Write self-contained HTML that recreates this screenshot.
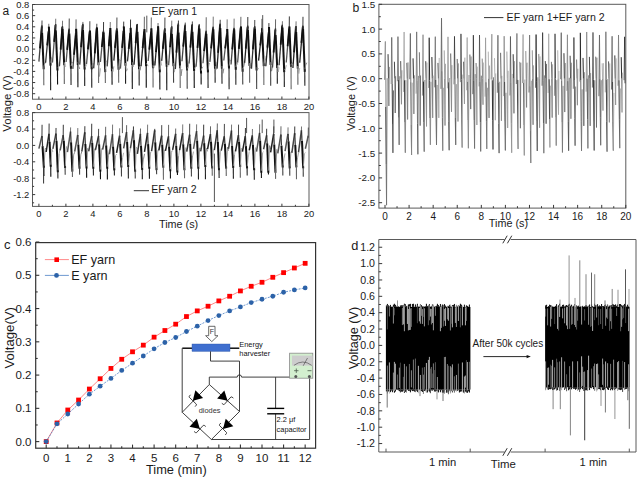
<!DOCTYPE html>
<html><head><meta charset="utf-8"><style>
html,body{margin:0;padding:0;background:#fff;}
body{width:637px;height:477px;overflow:hidden;font-family:"Liberation Sans", sans-serif;}
svg{display:block;}
</style></head><body>
<svg width="637" height="477" viewBox="0 0 637 477" font-family='"Liberation Sans", sans-serif'>
<rect width="637" height="477" fill="#fff"/>
<line x1="38.9" y1="61.61" x2="41.9" y2="25.56" stroke="#444" stroke-width="1.3" />
<line x1="40.01" y1="48.32" x2="41.8" y2="26.68" stroke="#111" stroke-width="1.8" />
<line x1="41.9" y1="28.35" x2="42.02" y2="20.5" stroke="#333" stroke-width="0.9" />
<line x1="42" y1="25.56" x2="42.1" y2="32.89" stroke="#333" stroke-width="1.2" />
<line x1="42.1" y1="32.89" x2="43.71" y2="69.21" stroke="#111" stroke-width="2" />
<line x1="43.71" y1="66.42" x2="43.81" y2="85.27" stroke="#666" stroke-width="1.1" />
<line x1="43.91" y1="66.42" x2="44.64" y2="63.94" stroke="#999" stroke-width="0.9" />
<line x1="44.64" y1="63.94" x2="45.58" y2="61.61" stroke="#777" stroke-width="0.9" />
<line x1="45.58" y1="62.73" x2="48.68" y2="30.33" stroke="#333" stroke-width="1.3" />
<line x1="47.24" y1="45.31" x2="48.58" y2="31.45" stroke="#111" stroke-width="1.8" />
<line x1="48.68" y1="33.12" x2="48.8" y2="23.77" stroke="#666" stroke-width="0.9" />
<line x1="48.78" y1="30.33" x2="48.88" y2="26.73" stroke="#333" stroke-width="1.2" />
<line x1="48.88" y1="26.73" x2="50.54" y2="65.59" stroke="#111" stroke-width="2" />
<line x1="50.54" y1="62.8" x2="50.64" y2="90.16" stroke="#222" stroke-width="1.1" />
<line x1="50.74" y1="62.8" x2="51.5" y2="57.59" stroke="#888" stroke-width="0.9" />
<line x1="51.5" y1="57.59" x2="52.47" y2="62.73" stroke="#999" stroke-width="0.9" />
<line x1="52.47" y1="62.36" x2="55.6" y2="24" stroke="#555" stroke-width="1.3" />
<line x1="54.14" y1="41.82" x2="55.5" y2="25.11" stroke="#111" stroke-width="1.8" />
<line x1="55.6" y1="26.79" x2="55.72" y2="18.73" stroke="#666" stroke-width="0.9" />
<line x1="55.7" y1="24" x2="55.8" y2="30.23" stroke="#333" stroke-width="1.2" />
<line x1="55.8" y1="30.23" x2="57.47" y2="70.55" stroke="#111" stroke-width="2" />
<line x1="57.47" y1="67.76" x2="57.57" y2="84.42" stroke="#111" stroke-width="1.1" />
<line x1="57.67" y1="67.76" x2="58.45" y2="68.13" stroke="#888" stroke-width="0.9" />
<line x1="58.45" y1="68.13" x2="59.42" y2="62.36" stroke="#aaa" stroke-width="0.9" />
<line x1="59.42" y1="66.2" x2="62.42" y2="25.94" stroke="#444" stroke-width="1.3" />
<line x1="60.65" y1="49.67" x2="62.32" y2="27.05" stroke="#111" stroke-width="1.8" />
<line x1="62.42" y1="28.73" x2="62.54" y2="20.72" stroke="#666" stroke-width="0.9" />
<line x1="62.52" y1="25.94" x2="62.62" y2="28.82" stroke="#333" stroke-width="1.2" />
<line x1="62.62" y1="28.82" x2="64.22" y2="65.28" stroke="#111" stroke-width="2" />
<line x1="64.22" y1="62.49" x2="64.32" y2="83.88" stroke="#666" stroke-width="1.1" />
<line x1="64.42" y1="62.49" x2="65.15" y2="66.36" stroke="#999" stroke-width="0.9" />
<line x1="65.15" y1="66.36" x2="66.09" y2="66.2" stroke="#aaa" stroke-width="0.9" />
<line x1="66.09" y1="62.06" x2="69.12" y2="28.68" stroke="#555" stroke-width="1.3" />
<line x1="67.2" y1="49.8" x2="69.02" y2="29.79" stroke="#111" stroke-width="1.8" />
<line x1="69.12" y1="31.47" x2="69.24" y2="18.53" stroke="#333" stroke-width="0.9" />
<line x1="69.22" y1="28.68" x2="69.32" y2="33.62" stroke="#333" stroke-width="1.2" />
<line x1="69.32" y1="33.62" x2="70.95" y2="68.73" stroke="#111" stroke-width="2" />
<line x1="70.95" y1="65.95" x2="71.05" y2="85.09" stroke="#222" stroke-width="1.1" />
<line x1="71.15" y1="65.95" x2="71.89" y2="63.16" stroke="#aaa" stroke-width="0.9" />
<line x1="71.89" y1="63.16" x2="72.84" y2="62.06" stroke="#aaa" stroke-width="0.9" />
<line x1="72.84" y1="68.91" x2="75.95" y2="31.99" stroke="#444" stroke-width="1.3" />
<line x1="74.03" y1="54.74" x2="75.85" y2="33.1" stroke="#111" stroke-width="1.8" />
<line x1="75.95" y1="34.77" x2="76.07" y2="19.38" stroke="#555" stroke-width="0.9" />
<line x1="76.05" y1="31.99" x2="76.15" y2="28.89" stroke="#333" stroke-width="1.2" />
<line x1="76.15" y1="28.89" x2="77.82" y2="64.86" stroke="#111" stroke-width="2" />
<line x1="77.82" y1="62.07" x2="77.92" y2="87.28" stroke="#111" stroke-width="1.1" />
<line x1="78.02" y1="62.07" x2="78.79" y2="66.53" stroke="#888" stroke-width="0.9" />
<line x1="78.79" y1="66.53" x2="79.76" y2="68.91" stroke="#777" stroke-width="0.9" />
<line x1="79.76" y1="64.59" x2="82.79" y2="23.88" stroke="#333" stroke-width="1.3" />
<line x1="81.05" y1="47.22" x2="82.69" y2="24.99" stroke="#111" stroke-width="1.8" />
<line x1="82.79" y1="26.67" x2="82.91" y2="21.91" stroke="#555" stroke-width="0.9" />
<line x1="82.89" y1="23.88" x2="82.99" y2="30.01" stroke="#333" stroke-width="1.2" />
<line x1="82.99" y1="30.01" x2="84.62" y2="69.53" stroke="#111" stroke-width="2" />
<line x1="84.62" y1="66.75" x2="84.72" y2="86.08" stroke="#222" stroke-width="1.1" />
<line x1="84.82" y1="66.75" x2="85.56" y2="67.01" stroke="#999" stroke-width="0.9" />
<line x1="85.56" y1="67.01" x2="86.5" y2="64.59" stroke="#aaa" stroke-width="0.9" />
<line x1="86.5" y1="64.09" x2="89.74" y2="30.59" stroke="#555" stroke-width="1.3" />
<line x1="87.93" y1="49.29" x2="89.64" y2="31.71" stroke="#111" stroke-width="1.8" />
<line x1="89.74" y1="33.38" x2="89.86" y2="21.23" stroke="#333" stroke-width="0.9" />
<line x1="89.84" y1="30.59" x2="89.94" y2="30.66" stroke="#333" stroke-width="1.2" />
<line x1="89.94" y1="30.66" x2="91.68" y2="69.3" stroke="#111" stroke-width="2" />
<line x1="91.68" y1="66.52" x2="91.78" y2="87.65" stroke="#222" stroke-width="1.1" />
<line x1="91.88" y1="66.52" x2="92.68" y2="63.59" stroke="#888" stroke-width="0.9" />
<line x1="92.68" y1="63.59" x2="93.69" y2="64.09" stroke="#777" stroke-width="0.9" />
<line x1="93.69" y1="68.35" x2="96.71" y2="27.46" stroke="#333" stroke-width="1.3" />
<line x1="94.8" y1="53.36" x2="96.61" y2="28.57" stroke="#111" stroke-width="1.8" />
<line x1="96.71" y1="30.25" x2="96.83" y2="23.76" stroke="#333" stroke-width="0.9" />
<line x1="96.81" y1="27.46" x2="96.91" y2="27.57" stroke="#333" stroke-width="1.2" />
<line x1="96.91" y1="27.57" x2="98.52" y2="65.33" stroke="#111" stroke-width="2" />
<line x1="98.52" y1="62.54" x2="98.62" y2="82.99" stroke="#666" stroke-width="1.1" />
<line x1="98.72" y1="62.54" x2="99.46" y2="76.51" stroke="#aaa" stroke-width="0.9" />
<line x1="99.46" y1="76.51" x2="100.4" y2="68.35" stroke="#999" stroke-width="0.9" />
<line x1="100.4" y1="62.06" x2="103.45" y2="30.73" stroke="#555" stroke-width="1.3" />
<line x1="101.86" y1="47.03" x2="103.35" y2="31.84" stroke="#111" stroke-width="1.8" />
<line x1="103.45" y1="33.52" x2="103.57" y2="22.02" stroke="#222" stroke-width="0.9" />
<line x1="103.55" y1="30.73" x2="103.65" y2="32.57" stroke="#333" stroke-width="1.2" />
<line x1="103.65" y1="32.57" x2="105.27" y2="72.14" stroke="#111" stroke-width="2" />
<line x1="105.27" y1="69.35" x2="105.37" y2="82.92" stroke="#666" stroke-width="1.1" />
<line x1="105.47" y1="69.35" x2="106.22" y2="60.63" stroke="#aaa" stroke-width="0.9" />
<line x1="106.22" y1="60.63" x2="107.17" y2="62.06" stroke="#aaa" stroke-width="0.9" />
<line x1="107.17" y1="66.39" x2="110.17" y2="29.31" stroke="#444" stroke-width="1.3" />
<line x1="108.8" y1="46.25" x2="110.07" y2="30.43" stroke="#111" stroke-width="1.8" />
<line x1="110.17" y1="32.1" x2="110.29" y2="22.03" stroke="#666" stroke-width="0.9" />
<line x1="110.27" y1="29.31" x2="110.37" y2="28.06" stroke="#333" stroke-width="1.2" />
<line x1="110.37" y1="28.06" x2="111.97" y2="71.32" stroke="#111" stroke-width="2" />
<line x1="111.97" y1="68.54" x2="112.07" y2="84.66" stroke="#111" stroke-width="1.1" />
<line x1="112.17" y1="68.54" x2="112.9" y2="71.61" stroke="#aaa" stroke-width="0.9" />
<line x1="112.9" y1="71.61" x2="113.83" y2="66.39" stroke="#999" stroke-width="0.9" />
<line x1="113.83" y1="60.61" x2="116.81" y2="28.4" stroke="#222" stroke-width="1.3" />
<line x1="115.01" y1="47.9" x2="116.71" y2="29.51" stroke="#111" stroke-width="1.8" />
<line x1="116.81" y1="31.19" x2="116.93" y2="17.52" stroke="#333" stroke-width="0.9" />
<line x1="116.91" y1="28.4" x2="117.01" y2="30.65" stroke="#333" stroke-width="1.2" />
<line x1="117.01" y1="30.65" x2="118.59" y2="69.82" stroke="#111" stroke-width="2" />
<line x1="118.59" y1="67.04" x2="118.69" y2="82.73" stroke="#666" stroke-width="1.1" />
<line x1="118.79" y1="67.04" x2="119.51" y2="59.56" stroke="#aaa" stroke-width="0.9" />
<line x1="119.51" y1="59.56" x2="120.44" y2="60.61" stroke="#777" stroke-width="0.9" />
<line x1="120.44" y1="68.65" x2="123.6" y2="29.71" stroke="#555" stroke-width="1.3" />
<line x1="122.12" y1="47.88" x2="123.5" y2="30.83" stroke="#111" stroke-width="1.8" />
<line x1="123.6" y1="32.5" x2="123.72" y2="21.62" stroke="#222" stroke-width="0.9" />
<line x1="123.7" y1="29.71" x2="123.8" y2="26.53" stroke="#333" stroke-width="1.2" />
<line x1="123.8" y1="26.53" x2="125.49" y2="65.82" stroke="#111" stroke-width="2" />
<line x1="125.49" y1="63.03" x2="125.59" y2="83.65" stroke="#222" stroke-width="1.1" />
<line x1="125.69" y1="63.03" x2="126.48" y2="71.21" stroke="#aaa" stroke-width="0.9" />
<line x1="126.48" y1="71.21" x2="127.46" y2="68.65" stroke="#999" stroke-width="0.9" />
<line x1="127.46" y1="61.33" x2="130.43" y2="32.04" stroke="#333" stroke-width="1.3" />
<line x1="128.72" y1="48.86" x2="130.33" y2="33.15" stroke="#111" stroke-width="1.8" />
<line x1="130.43" y1="34.82" x2="130.55" y2="19.56" stroke="#222" stroke-width="0.9" />
<line x1="130.53" y1="32.04" x2="130.63" y2="27.85" stroke="#333" stroke-width="1.2" />
<line x1="130.63" y1="27.85" x2="132.2" y2="65.05" stroke="#111" stroke-width="2" />
<line x1="132.2" y1="62.26" x2="132.3" y2="89.02" stroke="#111" stroke-width="1.1" />
<line x1="132.4" y1="62.26" x2="133.13" y2="66.83" stroke="#888" stroke-width="0.9" />
<line x1="133.13" y1="66.83" x2="134.05" y2="61.33" stroke="#aaa" stroke-width="0.9" />
<line x1="134.05" y1="64.78" x2="137.2" y2="24.01" stroke="#222" stroke-width="1.3" />
<line x1="135.72" y1="43.17" x2="137.1" y2="25.12" stroke="#111" stroke-width="1.8" />
<line x1="137.2" y1="26.8" x2="137.32" y2="23.88" stroke="#333" stroke-width="0.9" />
<line x1="137.3" y1="24.01" x2="137.4" y2="31.68" stroke="#333" stroke-width="1.2" />
<line x1="137.4" y1="31.68" x2="139.08" y2="69.13" stroke="#111" stroke-width="2" />
<line x1="139.08" y1="66.35" x2="139.18" y2="85.58" stroke="#222" stroke-width="1.1" />
<line x1="139.28" y1="66.35" x2="140.06" y2="70.34" stroke="#aaa" stroke-width="0.9" />
<line x1="140.06" y1="70.34" x2="141.04" y2="64.78" stroke="#777" stroke-width="0.9" />
<line x1="141.04" y1="66.15" x2="144.25" y2="30.47" stroke="#222" stroke-width="1.3" />
<line x1="142.66" y1="48.18" x2="144.15" y2="31.59" stroke="#111" stroke-width="1.8" />
<line x1="144.25" y1="33.26" x2="144.37" y2="16.74" stroke="#555" stroke-width="0.9" />
<line x1="144.35" y1="30.47" x2="144.45" y2="29.15" stroke="#333" stroke-width="1.2" />
<line x1="144.45" y1="29.15" x2="146.17" y2="66.16" stroke="#111" stroke-width="2" />
<line x1="146.17" y1="63.37" x2="146.27" y2="87.67" stroke="#111" stroke-width="1.1" />
<line x1="146.37" y1="63.37" x2="147.17" y2="64.4" stroke="#999" stroke-width="0.9" />
<line x1="147.17" y1="64.4" x2="148.17" y2="66.15" stroke="#999" stroke-width="0.9" />
<line x1="148.17" y1="61.04" x2="151.18" y2="30.48" stroke="#555" stroke-width="1.3" />
<line x1="149.29" y1="49.65" x2="151.08" y2="31.59" stroke="#111" stroke-width="1.8" />
<line x1="151.18" y1="33.26" x2="151.3" y2="17.45" stroke="#555" stroke-width="0.9" />
<line x1="151.28" y1="30.48" x2="151.38" y2="28.39" stroke="#333" stroke-width="1.2" />
<line x1="151.38" y1="28.39" x2="152.99" y2="68.28" stroke="#111" stroke-width="2" />
<line x1="152.99" y1="65.49" x2="153.09" y2="87.48" stroke="#666" stroke-width="1.1" />
<line x1="153.19" y1="65.49" x2="153.93" y2="67.52" stroke="#888" stroke-width="0.9" />
<line x1="153.93" y1="67.52" x2="154.87" y2="61.04" stroke="#999" stroke-width="0.9" />
<line x1="154.87" y1="65.54" x2="157.93" y2="28.98" stroke="#222" stroke-width="1.3" />
<line x1="155.99" y1="52.19" x2="157.83" y2="30.1" stroke="#111" stroke-width="1.8" />
<line x1="157.93" y1="31.77" x2="158.05" y2="23.04" stroke="#555" stroke-width="0.9" />
<line x1="158.03" y1="28.98" x2="158.13" y2="26.32" stroke="#333" stroke-width="1.2" />
<line x1="158.13" y1="26.32" x2="159.77" y2="72.32" stroke="#111" stroke-width="2" />
<line x1="159.77" y1="69.53" x2="159.87" y2="89.46" stroke="#111" stroke-width="1.1" />
<line x1="159.97" y1="69.53" x2="160.72" y2="60.63" stroke="#aaa" stroke-width="0.9" />
<line x1="160.72" y1="60.63" x2="161.68" y2="65.54" stroke="#aaa" stroke-width="0.9" />
<line x1="161.68" y1="60.92" x2="164.81" y2="28.29" stroke="#333" stroke-width="1.3" />
<line x1="162.83" y1="48.9" x2="164.71" y2="29.41" stroke="#111" stroke-width="1.8" />
<line x1="164.81" y1="31.08" x2="164.93" y2="17.55" stroke="#333" stroke-width="0.9" />
<line x1="164.91" y1="28.29" x2="165.01" y2="32.69" stroke="#333" stroke-width="1.2" />
<line x1="165.01" y1="32.69" x2="166.7" y2="66.61" stroke="#111" stroke-width="2" />
<line x1="166.7" y1="63.82" x2="166.8" y2="90.26" stroke="#111" stroke-width="1.1" />
<line x1="166.9" y1="63.82" x2="167.67" y2="66.66" stroke="#888" stroke-width="0.9" />
<line x1="167.67" y1="66.66" x2="168.65" y2="60.92" stroke="#aaa" stroke-width="0.9" />
<line x1="168.65" y1="65.15" x2="171.66" y2="26.3" stroke="#555" stroke-width="1.3" />
<line x1="170.04" y1="47.28" x2="171.56" y2="27.42" stroke="#111" stroke-width="1.8" />
<line x1="171.66" y1="29.09" x2="171.78" y2="20.62" stroke="#666" stroke-width="0.9" />
<line x1="171.76" y1="26.3" x2="171.86" y2="33.74" stroke="#333" stroke-width="1.2" />
<line x1="171.86" y1="33.74" x2="173.47" y2="66.09" stroke="#111" stroke-width="2" />
<line x1="173.47" y1="63.3" x2="173.57" y2="82.83" stroke="#444" stroke-width="1.1" />
<line x1="173.67" y1="63.3" x2="174.41" y2="72.11" stroke="#888" stroke-width="0.9" />
<line x1="174.41" y1="72.11" x2="175.35" y2="65.15" stroke="#aaa" stroke-width="0.9" />
<line x1="175.35" y1="69.08" x2="178.32" y2="23.61" stroke="#333" stroke-width="1.3" />
<line x1="176.43" y1="52.58" x2="178.22" y2="24.73" stroke="#111" stroke-width="1.8" />
<line x1="178.32" y1="26.4" x2="178.44" y2="20.5" stroke="#222" stroke-width="0.9" />
<line x1="178.42" y1="23.61" x2="178.52" y2="32.53" stroke="#333" stroke-width="1.2" />
<line x1="178.52" y1="32.53" x2="180.11" y2="68.31" stroke="#111" stroke-width="2" />
<line x1="180.11" y1="65.52" x2="180.21" y2="87.91" stroke="#666" stroke-width="1.1" />
<line x1="180.31" y1="65.52" x2="181.03" y2="75.89" stroke="#999" stroke-width="0.9" />
<line x1="181.03" y1="75.89" x2="181.96" y2="69.08" stroke="#777" stroke-width="0.9" />
<line x1="181.96" y1="61.22" x2="185.16" y2="24.64" stroke="#444" stroke-width="1.3" />
<line x1="183.24" y1="46.61" x2="185.06" y2="25.75" stroke="#111" stroke-width="1.8" />
<line x1="185.16" y1="27.42" x2="185.28" y2="22.58" stroke="#333" stroke-width="0.9" />
<line x1="185.26" y1="24.64" x2="185.36" y2="30.98" stroke="#333" stroke-width="1.2" />
<line x1="185.36" y1="30.98" x2="187.09" y2="70.46" stroke="#111" stroke-width="2" />
<line x1="187.09" y1="67.67" x2="187.19" y2="88.73" stroke="#444" stroke-width="1.1" />
<line x1="187.29" y1="67.67" x2="188.08" y2="68.34" stroke="#aaa" stroke-width="0.9" />
<line x1="188.08" y1="68.34" x2="189.08" y2="61.22" stroke="#999" stroke-width="0.9" />
<line x1="189.08" y1="63.43" x2="192.25" y2="23.98" stroke="#555" stroke-width="1.3" />
<line x1="190.34" y1="47.68" x2="192.15" y2="25.1" stroke="#111" stroke-width="1.8" />
<line x1="192.25" y1="26.77" x2="192.37" y2="21.46" stroke="#333" stroke-width="0.9" />
<line x1="192.35" y1="23.98" x2="192.45" y2="31.68" stroke="#333" stroke-width="1.2" />
<line x1="192.45" y1="31.68" x2="194.15" y2="70.89" stroke="#111" stroke-width="2" />
<line x1="194.15" y1="68.11" x2="194.25" y2="87.88" stroke="#111" stroke-width="1.1" />
<line x1="194.35" y1="68.11" x2="195.13" y2="68.38" stroke="#999" stroke-width="0.9" />
<line x1="195.13" y1="68.38" x2="196.12" y2="63.43" stroke="#999" stroke-width="0.9" />
<line x1="196.12" y1="66.78" x2="199.2" y2="24.64" stroke="#555" stroke-width="1.3" />
<line x1="197.5" y1="47.87" x2="199.1" y2="25.75" stroke="#111" stroke-width="1.8" />
<line x1="199.2" y1="27.42" x2="199.32" y2="23.94" stroke="#555" stroke-width="0.9" />
<line x1="199.3" y1="24.64" x2="199.4" y2="28.66" stroke="#333" stroke-width="1.2" />
<line x1="199.4" y1="28.66" x2="201.06" y2="73.44" stroke="#111" stroke-width="2" />
<line x1="201.06" y1="70.65" x2="201.16" y2="84.5" stroke="#111" stroke-width="1.1" />
<line x1="201.26" y1="70.65" x2="202.02" y2="68.15" stroke="#aaa" stroke-width="0.9" />
<line x1="202.02" y1="68.15" x2="202.98" y2="66.78" stroke="#999" stroke-width="0.9" />
<line x1="202.98" y1="63.24" x2="206.1" y2="30.77" stroke="#555" stroke-width="1.3" />
<line x1="204.15" y1="51.05" x2="206" y2="31.89" stroke="#111" stroke-width="1.8" />
<line x1="206.1" y1="33.56" x2="206.22" y2="17.26" stroke="#555" stroke-width="0.9" />
<line x1="206.2" y1="30.77" x2="206.3" y2="33.83" stroke="#333" stroke-width="1.2" />
<line x1="206.3" y1="33.83" x2="207.97" y2="72.37" stroke="#111" stroke-width="2" />
<line x1="207.97" y1="69.58" x2="208.07" y2="87.97" stroke="#222" stroke-width="1.1" />
<line x1="208.17" y1="69.58" x2="208.94" y2="64" stroke="#888" stroke-width="0.9" />
<line x1="208.94" y1="64" x2="209.91" y2="63.24" stroke="#999" stroke-width="0.9" />
<line x1="209.91" y1="61.85" x2="213.12" y2="26.81" stroke="#444" stroke-width="1.3" />
<line x1="211.15" y1="48.34" x2="213.02" y2="27.93" stroke="#111" stroke-width="1.8" />
<line x1="213.12" y1="29.6" x2="213.24" y2="16.65" stroke="#666" stroke-width="0.9" />
<line x1="213.22" y1="26.81" x2="213.32" y2="29.17" stroke="#333" stroke-width="1.2" />
<line x1="213.32" y1="29.17" x2="215.04" y2="68.7" stroke="#111" stroke-width="2" />
<line x1="215.04" y1="65.91" x2="215.14" y2="82.65" stroke="#222" stroke-width="1.1" />
<line x1="215.24" y1="65.91" x2="216.04" y2="69.53" stroke="#888" stroke-width="0.9" />
<line x1="216.04" y1="69.53" x2="217.04" y2="61.85" stroke="#999" stroke-width="0.9" />
<line x1="217.04" y1="68.6" x2="220.08" y2="23.78" stroke="#222" stroke-width="1.3" />
<line x1="218.11" y1="52.81" x2="219.98" y2="24.9" stroke="#111" stroke-width="1.8" />
<line x1="220.08" y1="26.57" x2="220.2" y2="19.79" stroke="#222" stroke-width="0.9" />
<line x1="220.18" y1="23.78" x2="220.28" y2="27.95" stroke="#333" stroke-width="1.2" />
<line x1="220.28" y1="27.95" x2="221.9" y2="68.73" stroke="#111" stroke-width="2" />
<line x1="221.9" y1="65.94" x2="222" y2="83.71" stroke="#222" stroke-width="1.1" />
<line x1="222.1" y1="65.94" x2="222.85" y2="73.36" stroke="#999" stroke-width="0.9" />
<line x1="222.85" y1="73.36" x2="223.8" y2="68.6" stroke="#777" stroke-width="0.9" />
<line x1="223.8" y1="60.46" x2="227.05" y2="32.21" stroke="#555" stroke-width="1.3" />
<line x1="225.19" y1="48.32" x2="226.95" y2="33.32" stroke="#111" stroke-width="1.8" />
<line x1="227.05" y1="34.99" x2="227.17" y2="19.38" stroke="#666" stroke-width="0.9" />
<line x1="227.15" y1="32.21" x2="227.25" y2="28.99" stroke="#333" stroke-width="1.2" />
<line x1="227.25" y1="28.99" x2="229" y2="68.46" stroke="#111" stroke-width="2" />
<line x1="229" y1="65.67" x2="229.1" y2="89.27" stroke="#222" stroke-width="1.1" />
<line x1="229.2" y1="65.67" x2="230.01" y2="60.29" stroke="#999" stroke-width="0.9" />
<line x1="230.01" y1="60.29" x2="231.03" y2="60.46" stroke="#aaa" stroke-width="0.9" />
<line x1="231.03" y1="64.45" x2="233.99" y2="27.91" stroke="#444" stroke-width="1.3" />
<line x1="232.25" y1="49.37" x2="233.89" y2="29.02" stroke="#111" stroke-width="1.8" />
<line x1="233.99" y1="30.69" x2="234.11" y2="18.65" stroke="#666" stroke-width="0.9" />
<line x1="234.09" y1="27.91" x2="234.19" y2="29.37" stroke="#333" stroke-width="1.2" />
<line x1="234.19" y1="29.37" x2="235.77" y2="69.72" stroke="#111" stroke-width="2" />
<line x1="235.77" y1="66.93" x2="235.87" y2="84.65" stroke="#222" stroke-width="1.1" />
<line x1="235.97" y1="66.93" x2="236.69" y2="62.88" stroke="#aaa" stroke-width="0.9" />
<line x1="236.69" y1="62.88" x2="237.61" y2="64.45" stroke="#777" stroke-width="0.9" />
<line x1="237.61" y1="62.67" x2="240.77" y2="26.55" stroke="#555" stroke-width="1.3" />
<line x1="238.82" y1="48.88" x2="240.67" y2="27.66" stroke="#111" stroke-width="1.8" />
<line x1="240.77" y1="29.33" x2="240.89" y2="16.82" stroke="#555" stroke-width="0.9" />
<line x1="240.87" y1="26.55" x2="240.97" y2="26.49" stroke="#333" stroke-width="1.2" />
<line x1="240.97" y1="26.49" x2="242.66" y2="71.67" stroke="#111" stroke-width="2" />
<line x1="242.66" y1="68.88" x2="242.76" y2="84.4" stroke="#444" stroke-width="1.1" />
<line x1="242.86" y1="68.88" x2="243.64" y2="66.87" stroke="#aaa" stroke-width="0.9" />
<line x1="243.64" y1="66.87" x2="244.62" y2="62.67" stroke="#777" stroke-width="0.9" />
<line x1="244.62" y1="62.91" x2="247.7" y2="25.81" stroke="#222" stroke-width="1.3" />
<line x1="245.81" y1="48.62" x2="247.6" y2="26.92" stroke="#111" stroke-width="1.8" />
<line x1="247.7" y1="28.59" x2="247.82" y2="17.01" stroke="#222" stroke-width="0.9" />
<line x1="247.8" y1="25.81" x2="247.9" y2="29.86" stroke="#333" stroke-width="1.2" />
<line x1="247.9" y1="29.86" x2="249.55" y2="65.99" stroke="#111" stroke-width="2" />
<line x1="249.55" y1="63.2" x2="249.65" y2="82.86" stroke="#666" stroke-width="1.1" />
<line x1="249.75" y1="63.2" x2="250.5" y2="68.24" stroke="#888" stroke-width="0.9" />
<line x1="250.5" y1="68.24" x2="251.46" y2="62.91" stroke="#777" stroke-width="0.9" />
<line x1="251.46" y1="68.7" x2="254.66" y2="26.29" stroke="#333" stroke-width="1.3" />
<line x1="252.92" y1="49.42" x2="254.56" y2="27.41" stroke="#111" stroke-width="1.8" />
<line x1="254.66" y1="29.08" x2="254.78" y2="19.99" stroke="#333" stroke-width="0.9" />
<line x1="254.76" y1="26.29" x2="254.86" y2="28.77" stroke="#333" stroke-width="1.2" />
<line x1="254.86" y1="28.77" x2="256.58" y2="70.53" stroke="#111" stroke-width="2" />
<line x1="256.58" y1="67.74" x2="256.68" y2="89.07" stroke="#444" stroke-width="1.1" />
<line x1="256.78" y1="67.74" x2="257.58" y2="68.31" stroke="#aaa" stroke-width="0.9" />
<line x1="257.58" y1="68.31" x2="258.57" y2="68.7" stroke="#777" stroke-width="0.9" />
<line x1="258.57" y1="60.61" x2="261.82" y2="31.13" stroke="#222" stroke-width="1.3" />
<line x1="260.26" y1="45.28" x2="261.72" y2="32.25" stroke="#111" stroke-width="1.8" />
<line x1="261.82" y1="33.92" x2="261.94" y2="18.86" stroke="#555" stroke-width="0.9" />
<line x1="261.92" y1="31.13" x2="262.02" y2="28.24" stroke="#333" stroke-width="1.2" />
<line x1="262.02" y1="28.24" x2="263.77" y2="66.12" stroke="#111" stroke-width="2" />
<line x1="263.77" y1="63.33" x2="263.87" y2="84.89" stroke="#666" stroke-width="1.1" />
<line x1="263.97" y1="63.33" x2="264.78" y2="55.87" stroke="#aaa" stroke-width="0.9" />
<line x1="264.78" y1="55.87" x2="265.79" y2="60.61" stroke="#aaa" stroke-width="0.9" />
<line x1="265.79" y1="66.27" x2="268.8" y2="31.25" stroke="#222" stroke-width="1.3" />
<line x1="267.39" y1="47.64" x2="268.7" y2="32.36" stroke="#111" stroke-width="1.8" />
<line x1="268.8" y1="34.04" x2="268.92" y2="23.08" stroke="#222" stroke-width="0.9" />
<line x1="268.9" y1="31.25" x2="269" y2="27.06" stroke="#333" stroke-width="1.2" />
<line x1="269" y1="27.06" x2="270.61" y2="65.07" stroke="#111" stroke-width="2" />
<line x1="270.61" y1="62.28" x2="270.71" y2="85.67" stroke="#444" stroke-width="1.1" />
<line x1="270.81" y1="62.28" x2="271.55" y2="71.17" stroke="#888" stroke-width="0.9" />
<line x1="271.55" y1="71.17" x2="272.49" y2="66.27" stroke="#777" stroke-width="0.9" />
<line x1="272.49" y1="67.48" x2="275.45" y2="28.46" stroke="#444" stroke-width="1.3" />
<line x1="273.62" y1="52.47" x2="275.35" y2="29.58" stroke="#111" stroke-width="1.8" />
<line x1="275.45" y1="31.25" x2="275.57" y2="19.29" stroke="#555" stroke-width="0.9" />
<line x1="275.55" y1="28.46" x2="275.65" y2="34.97" stroke="#333" stroke-width="1.2" />
<line x1="275.65" y1="34.97" x2="277.23" y2="68.03" stroke="#111" stroke-width="2" />
<line x1="277.23" y1="65.24" x2="277.33" y2="83.84" stroke="#222" stroke-width="1.1" />
<line x1="277.43" y1="65.24" x2="278.15" y2="72.03" stroke="#888" stroke-width="0.9" />
<line x1="278.15" y1="72.03" x2="279.07" y2="67.48" stroke="#aaa" stroke-width="0.9" />
<line x1="279.07" y1="65.19" x2="282.29" y2="24.69" stroke="#333" stroke-width="1.3" />
<line x1="280.69" y1="44.79" x2="282.19" y2="25.81" stroke="#111" stroke-width="1.8" />
<line x1="282.29" y1="27.48" x2="282.41" y2="21.23" stroke="#666" stroke-width="0.9" />
<line x1="282.39" y1="24.69" x2="282.49" y2="27.54" stroke="#333" stroke-width="1.2" />
<line x1="282.49" y1="27.54" x2="284.23" y2="72.13" stroke="#111" stroke-width="2" />
<line x1="284.23" y1="69.34" x2="284.33" y2="87.08" stroke="#222" stroke-width="1.1" />
<line x1="284.43" y1="69.34" x2="285.23" y2="69.59" stroke="#999" stroke-width="0.9" />
<line x1="285.23" y1="69.59" x2="286.23" y2="65.19" stroke="#999" stroke-width="0.9" />
<line x1="286.23" y1="62.5" x2="289.23" y2="27.51" stroke="#555" stroke-width="1.3" />
<line x1="287.62" y1="46.25" x2="289.13" y2="28.63" stroke="#111" stroke-width="1.8" />
<line x1="289.23" y1="30.3" x2="289.35" y2="16.41" stroke="#222" stroke-width="0.9" />
<line x1="289.33" y1="27.51" x2="289.43" y2="26.56" stroke="#333" stroke-width="1.2" />
<line x1="289.43" y1="26.56" x2="291.03" y2="66.84" stroke="#111" stroke-width="2" />
<line x1="291.03" y1="64.05" x2="291.13" y2="89.29" stroke="#666" stroke-width="1.1" />
<line x1="291.23" y1="64.05" x2="291.96" y2="63.86" stroke="#aaa" stroke-width="0.9" />
<line x1="291.96" y1="63.86" x2="292.9" y2="62.5" stroke="#777" stroke-width="0.9" />
<line x1="292.9" y1="68.06" x2="295.96" y2="25.97" stroke="#222" stroke-width="1.3" />
<line x1="294.04" y1="52.38" x2="295.86" y2="27.09" stroke="#111" stroke-width="1.8" />
<line x1="295.96" y1="28.76" x2="296.08" y2="21.36" stroke="#666" stroke-width="0.9" />
<line x1="296.06" y1="25.97" x2="296.16" y2="32.04" stroke="#333" stroke-width="1.2" />
<line x1="296.16" y1="32.04" x2="297.8" y2="68.82" stroke="#111" stroke-width="2" />
<line x1="297.8" y1="66.03" x2="297.9" y2="84.65" stroke="#666" stroke-width="1.1" />
<line x1="298" y1="66.03" x2="298.75" y2="73.59" stroke="#999" stroke-width="0.9" />
<line x1="298.75" y1="73.59" x2="299.7" y2="68.06" stroke="#aaa" stroke-width="0.9" />
<line x1="299.7" y1="62.73" x2="302.87" y2="25.79" stroke="#222" stroke-width="1.3" />
<line x1="301.4" y1="42.87" x2="302.77" y2="26.9" stroke="#111" stroke-width="1.8" />
<line x1="302.87" y1="28.57" x2="302.99" y2="16.81" stroke="#222" stroke-width="0.9" />
<line x1="302.97" y1="25.79" x2="303.07" y2="28.67" stroke="#333" stroke-width="1.2" />
<line x1="303.07" y1="28.67" x2="304.76" y2="71.86" stroke="#111" stroke-width="2" />
<line x1="304.76" y1="69.07" x2="304.86" y2="85.67" stroke="#222" stroke-width="1.1" />
<line x1="304.96" y1="69.07" x2="305.75" y2="64.83" stroke="#888" stroke-width="0.9" />
<line x1="305.75" y1="64.83" x2="306.73" y2="62.73" stroke="#777" stroke-width="0.9" />
<line x1="262.7" y1="32.38" x2="262.7" y2="15.09" stroke="#555" stroke-width="1" />
<line x1="146.8" y1="32.38" x2="146.8" y2="15.65" stroke="#555" stroke-width="1" />
<rect x="32.5" y="4.5" width="276.5" height="94.7" fill="none" stroke="#5a5a5a" stroke-width="1"/>
<line x1="32.5" y1="4.5" x2="35.2" y2="4.5" stroke="#383838" stroke-width="1" />
<line x1="32.5" y1="15.65" x2="35.2" y2="15.65" stroke="#383838" stroke-width="1" />
<line x1="32.5" y1="26.8" x2="35.2" y2="26.8" stroke="#383838" stroke-width="1" />
<line x1="32.5" y1="37.95" x2="35.2" y2="37.95" stroke="#383838" stroke-width="1" />
<line x1="32.5" y1="49.1" x2="35.2" y2="49.1" stroke="#383838" stroke-width="1" />
<line x1="32.5" y1="60.25" x2="35.2" y2="60.25" stroke="#383838" stroke-width="1" />
<line x1="32.5" y1="71.4" x2="35.2" y2="71.4" stroke="#383838" stroke-width="1" />
<line x1="32.5" y1="82.55" x2="35.2" y2="82.55" stroke="#383838" stroke-width="1" />
<line x1="32.5" y1="93.7" x2="35.2" y2="93.7" stroke="#383838" stroke-width="1" />
<line x1="32.5" y1="10.08" x2="34.1" y2="10.08" stroke="#383838" stroke-width="1" />
<line x1="32.5" y1="21.23" x2="34.1" y2="21.23" stroke="#383838" stroke-width="1" />
<line x1="32.5" y1="32.38" x2="34.1" y2="32.38" stroke="#383838" stroke-width="1" />
<line x1="32.5" y1="43.53" x2="34.1" y2="43.53" stroke="#383838" stroke-width="1" />
<line x1="32.5" y1="54.68" x2="34.1" y2="54.68" stroke="#383838" stroke-width="1" />
<line x1="32.5" y1="65.83" x2="34.1" y2="65.83" stroke="#383838" stroke-width="1" />
<line x1="32.5" y1="76.98" x2="34.1" y2="76.98" stroke="#383838" stroke-width="1" />
<line x1="32.5" y1="88.12" x2="34.1" y2="88.12" stroke="#383838" stroke-width="1" />
<text x="29.3" y="7.87" font-size="9.4" text-anchor="end" fill="#1a1a1a" >0.8</text>
<text x="29.3" y="19.02" font-size="9.4" text-anchor="end" fill="#1a1a1a" >0.6</text>
<text x="29.3" y="30.17" font-size="9.4" text-anchor="end" fill="#1a1a1a" >0.4</text>
<text x="29.3" y="41.32" font-size="9.4" text-anchor="end" fill="#1a1a1a" >0.2</text>
<text x="29.3" y="52.47" font-size="9.4" text-anchor="end" fill="#1a1a1a" >0.0</text>
<text x="29.3" y="63.62" font-size="9.4" text-anchor="end" fill="#1a1a1a" >-0.2</text>
<text x="29.3" y="74.77" font-size="9.4" text-anchor="end" fill="#1a1a1a" >-0.4</text>
<text x="29.3" y="85.92" font-size="9.4" text-anchor="end" fill="#1a1a1a" >-0.6</text>
<text x="29.3" y="97.07" font-size="9.4" text-anchor="end" fill="#1a1a1a" >-0.8</text>
<line x1="38.9" y1="99.2" x2="38.9" y2="96.5" stroke="#383838" stroke-width="1" />
<line x1="65.9" y1="99.2" x2="65.9" y2="96.5" stroke="#383838" stroke-width="1" />
<line x1="92.9" y1="99.2" x2="92.9" y2="96.5" stroke="#383838" stroke-width="1" />
<line x1="119.9" y1="99.2" x2="119.9" y2="96.5" stroke="#383838" stroke-width="1" />
<line x1="146.9" y1="99.2" x2="146.9" y2="96.5" stroke="#383838" stroke-width="1" />
<line x1="173.9" y1="99.2" x2="173.9" y2="96.5" stroke="#383838" stroke-width="1" />
<line x1="200.9" y1="99.2" x2="200.9" y2="96.5" stroke="#383838" stroke-width="1" />
<line x1="227.9" y1="99.2" x2="227.9" y2="96.5" stroke="#383838" stroke-width="1" />
<line x1="254.9" y1="99.2" x2="254.9" y2="96.5" stroke="#383838" stroke-width="1" />
<line x1="281.9" y1="99.2" x2="281.9" y2="96.5" stroke="#383838" stroke-width="1" />
<line x1="308.9" y1="99.2" x2="308.9" y2="96.5" stroke="#383838" stroke-width="1" />
<line x1="52.4" y1="99.2" x2="52.4" y2="97.6" stroke="#383838" stroke-width="1" />
<line x1="79.4" y1="99.2" x2="79.4" y2="97.6" stroke="#383838" stroke-width="1" />
<line x1="106.4" y1="99.2" x2="106.4" y2="97.6" stroke="#383838" stroke-width="1" />
<line x1="133.4" y1="99.2" x2="133.4" y2="97.6" stroke="#383838" stroke-width="1" />
<line x1="160.4" y1="99.2" x2="160.4" y2="97.6" stroke="#383838" stroke-width="1" />
<line x1="187.4" y1="99.2" x2="187.4" y2="97.6" stroke="#383838" stroke-width="1" />
<line x1="214.4" y1="99.2" x2="214.4" y2="97.6" stroke="#383838" stroke-width="1" />
<line x1="241.4" y1="99.2" x2="241.4" y2="97.6" stroke="#383838" stroke-width="1" />
<line x1="268.4" y1="99.2" x2="268.4" y2="97.6" stroke="#383838" stroke-width="1" />
<line x1="295.4" y1="99.2" x2="295.4" y2="97.6" stroke="#383838" stroke-width="1" />
<text x="38.9" y="109.8" font-size="9.4" text-anchor="middle" fill="#1a1a1a" >0</text>
<text x="65.9" y="109.8" font-size="9.4" text-anchor="middle" fill="#1a1a1a" >2</text>
<text x="92.9" y="109.8" font-size="9.4" text-anchor="middle" fill="#1a1a1a" >4</text>
<text x="119.9" y="109.8" font-size="9.4" text-anchor="middle" fill="#1a1a1a" >6</text>
<text x="146.9" y="109.8" font-size="9.4" text-anchor="middle" fill="#1a1a1a" >8</text>
<text x="173.9" y="109.8" font-size="9.4" text-anchor="middle" fill="#1a1a1a" >10</text>
<text x="200.9" y="109.8" font-size="9.4" text-anchor="middle" fill="#1a1a1a" >12</text>
<text x="227.9" y="109.8" font-size="9.4" text-anchor="middle" fill="#1a1a1a" >14</text>
<text x="254.9" y="109.8" font-size="9.4" text-anchor="middle" fill="#1a1a1a" >16</text>
<text x="281.9" y="109.8" font-size="9.4" text-anchor="middle" fill="#1a1a1a" >18</text>
<text x="308.9" y="109.8" font-size="9.4" text-anchor="middle" fill="#1a1a1a" >20</text>
<text x="151.6" y="15.1" font-size="10.5" text-anchor="start" fill="#1a1a1a" >EF yarn 1</text>
<line x1="38.9" y1="148.61" x2="41.95" y2="136.01" stroke="#555" stroke-width="1.5" />
<line x1="41.95" y1="138.06" x2="42.07" y2="124.78" stroke="#222" stroke-width="0.9" />
<line x1="42.05" y1="136.01" x2="42.55" y2="146.07" stroke="#333" stroke-width="1.2" />
<line x1="42.55" y1="146.07" x2="43.84" y2="167.8" stroke="#111" stroke-width="2" />
<line x1="43.84" y1="165.75" x2="43.94" y2="176" stroke="#222" stroke-width="1.1" />
<line x1="44.04" y1="165.75" x2="45.15" y2="148.54" stroke="#888" stroke-width="0.9" />
<line x1="45.15" y1="148.54" x2="46.17" y2="148.61" stroke="#777" stroke-width="0.9" />
<line x1="46.17" y1="152" x2="48.99" y2="133.8" stroke="#222" stroke-width="1.5" />
<line x1="48.99" y1="135.85" x2="49.11" y2="123.55" stroke="#222" stroke-width="0.9" />
<line x1="49.09" y1="133.8" x2="49.59" y2="141.89" stroke="#333" stroke-width="1.2" />
<line x1="49.59" y1="141.89" x2="50.73" y2="166.75" stroke="#111" stroke-width="2" />
<line x1="50.73" y1="164.7" x2="50.83" y2="176.72" stroke="#111" stroke-width="1.1" />
<line x1="50.93" y1="164.7" x2="51.94" y2="149.23" stroke="#aaa" stroke-width="0.9" />
<line x1="51.94" y1="149.23" x2="52.88" y2="152" stroke="#aaa" stroke-width="0.9" />
<line x1="52.88" y1="148.88" x2="55.92" y2="133.6" stroke="#444" stroke-width="1.5" />
<line x1="55.92" y1="135.65" x2="56.04" y2="127.98" stroke="#222" stroke-width="0.9" />
<line x1="56.02" y1="133.6" x2="56.52" y2="140.83" stroke="#333" stroke-width="1.2" />
<line x1="56.52" y1="140.83" x2="57.81" y2="172.2" stroke="#111" stroke-width="2" />
<line x1="57.81" y1="170.15" x2="57.91" y2="178.52" stroke="#222" stroke-width="1.1" />
<line x1="58.01" y1="170.15" x2="59.11" y2="153.62" stroke="#888" stroke-width="0.9" />
<line x1="59.11" y1="153.62" x2="60.13" y2="148.88" stroke="#aaa" stroke-width="0.9" />
<line x1="60.13" y1="150.41" x2="63.19" y2="135.19" stroke="#555" stroke-width="1.5" />
<line x1="63.19" y1="137.24" x2="63.31" y2="124.78" stroke="#222" stroke-width="0.9" />
<line x1="63.29" y1="135.19" x2="63.79" y2="140.77" stroke="#333" stroke-width="1.2" />
<line x1="63.79" y1="140.77" x2="65.09" y2="168.05" stroke="#111" stroke-width="2" />
<line x1="65.09" y1="166" x2="65.19" y2="174.64" stroke="#444" stroke-width="1.1" />
<line x1="65.29" y1="166" x2="66.4" y2="146.5" stroke="#aaa" stroke-width="0.9" />
<line x1="66.4" y1="146.5" x2="67.43" y2="150.41" stroke="#999" stroke-width="0.9" />
<line x1="67.43" y1="152.21" x2="70.48" y2="131.53" stroke="#555" stroke-width="1.5" />
<line x1="70.48" y1="133.58" x2="70.6" y2="127.4" stroke="#666" stroke-width="0.9" />
<line x1="70.58" y1="131.53" x2="71.08" y2="142.33" stroke="#333" stroke-width="1.2" />
<line x1="71.08" y1="142.33" x2="72.37" y2="171.64" stroke="#111" stroke-width="2" />
<line x1="72.37" y1="169.59" x2="72.47" y2="176.98" stroke="#666" stroke-width="1.1" />
<line x1="72.57" y1="169.59" x2="73.68" y2="154.76" stroke="#888" stroke-width="0.9" />
<line x1="73.68" y1="154.76" x2="74.69" y2="152.21" stroke="#777" stroke-width="0.9" />
<line x1="74.69" y1="151.64" x2="77.68" y2="134.92" stroke="#555" stroke-width="1.5" />
<line x1="77.68" y1="136.97" x2="77.8" y2="128.05" stroke="#666" stroke-width="0.9" />
<line x1="77.78" y1="134.92" x2="78.28" y2="144.5" stroke="#333" stroke-width="1.2" />
<line x1="78.28" y1="144.5" x2="79.52" y2="168.69" stroke="#111" stroke-width="2" />
<line x1="79.52" y1="166.64" x2="79.62" y2="174.63" stroke="#444" stroke-width="1.1" />
<line x1="79.72" y1="166.64" x2="80.8" y2="154.68" stroke="#888" stroke-width="0.9" />
<line x1="80.8" y1="154.68" x2="81.8" y2="151.64" stroke="#777" stroke-width="0.9" />
<line x1="81.8" y1="151.5" x2="84.74" y2="132.34" stroke="#333" stroke-width="1.5" />
<line x1="84.74" y1="134.39" x2="84.86" y2="126.19" stroke="#222" stroke-width="0.9" />
<line x1="84.84" y1="132.34" x2="85.34" y2="143.96" stroke="#333" stroke-width="1.2" />
<line x1="85.34" y1="143.96" x2="86.55" y2="168.49" stroke="#111" stroke-width="2" />
<line x1="86.55" y1="166.44" x2="86.65" y2="177.74" stroke="#111" stroke-width="1.1" />
<line x1="86.75" y1="166.44" x2="87.81" y2="148.35" stroke="#999" stroke-width="0.9" />
<line x1="87.81" y1="148.35" x2="88.79" y2="151.5" stroke="#777" stroke-width="0.9" />
<line x1="88.79" y1="151.06" x2="91.6" y2="136.06" stroke="#444" stroke-width="1.5" />
<line x1="91.6" y1="138.11" x2="91.72" y2="123.74" stroke="#222" stroke-width="0.9" />
<line x1="91.7" y1="136.06" x2="92.2" y2="142.75" stroke="#333" stroke-width="1.2" />
<line x1="92.2" y1="142.75" x2="93.33" y2="168.8" stroke="#111" stroke-width="2" />
<line x1="93.33" y1="166.75" x2="93.43" y2="175.51" stroke="#222" stroke-width="1.1" />
<line x1="93.53" y1="166.75" x2="94.53" y2="148.76" stroke="#999" stroke-width="0.9" />
<line x1="94.53" y1="148.76" x2="95.47" y2="151.06" stroke="#aaa" stroke-width="0.9" />
<line x1="95.47" y1="149.85" x2="98.5" y2="136.01" stroke="#333" stroke-width="1.5" />
<line x1="98.5" y1="138.06" x2="98.62" y2="128.87" stroke="#333" stroke-width="0.9" />
<line x1="98.6" y1="136.01" x2="99.1" y2="144.27" stroke="#333" stroke-width="1.2" />
<line x1="99.1" y1="144.27" x2="100.38" y2="171.64" stroke="#111" stroke-width="2" />
<line x1="100.38" y1="169.59" x2="100.48" y2="179.18" stroke="#111" stroke-width="1.1" />
<line x1="100.58" y1="169.59" x2="101.68" y2="148.52" stroke="#999" stroke-width="0.9" />
<line x1="101.68" y1="148.52" x2="102.69" y2="149.85" stroke="#aaa" stroke-width="0.9" />
<line x1="102.69" y1="149.49" x2="105.54" y2="135.35" stroke="#444" stroke-width="1.5" />
<line x1="105.54" y1="137.4" x2="105.66" y2="126.79" stroke="#555" stroke-width="0.9" />
<line x1="105.64" y1="135.35" x2="106.14" y2="145.42" stroke="#333" stroke-width="1.2" />
<line x1="106.14" y1="145.42" x2="107.3" y2="168.74" stroke="#111" stroke-width="2" />
<line x1="107.3" y1="166.69" x2="107.4" y2="179.59" stroke="#111" stroke-width="1.1" />
<line x1="107.5" y1="166.69" x2="108.53" y2="155.6" stroke="#888" stroke-width="0.9" />
<line x1="108.53" y1="155.6" x2="109.47" y2="149.49" stroke="#777" stroke-width="0.9" />
<line x1="109.47" y1="154.09" x2="112.46" y2="134.17" stroke="#555" stroke-width="1.5" />
<line x1="112.46" y1="136.22" x2="112.58" y2="124.6" stroke="#666" stroke-width="0.9" />
<line x1="112.56" y1="134.17" x2="113.06" y2="146.43" stroke="#333" stroke-width="1.2" />
<line x1="113.06" y1="146.43" x2="114.31" y2="170.34" stroke="#111" stroke-width="2" />
<line x1="114.31" y1="168.29" x2="114.41" y2="175.59" stroke="#222" stroke-width="1.1" />
<line x1="114.51" y1="168.29" x2="115.6" y2="155.39" stroke="#999" stroke-width="0.9" />
<line x1="115.6" y1="155.39" x2="116.59" y2="154.09" stroke="#999" stroke-width="0.9" />
<line x1="116.59" y1="152.76" x2="119.56" y2="135.71" stroke="#222" stroke-width="1.5" />
<line x1="119.56" y1="137.76" x2="119.68" y2="128.27" stroke="#666" stroke-width="0.9" />
<line x1="119.66" y1="135.71" x2="120.16" y2="143.69" stroke="#333" stroke-width="1.2" />
<line x1="120.16" y1="143.69" x2="121.39" y2="167.54" stroke="#111" stroke-width="2" />
<line x1="121.39" y1="165.49" x2="121.49" y2="176.48" stroke="#444" stroke-width="1.1" />
<line x1="121.59" y1="165.49" x2="122.67" y2="157.43" stroke="#aaa" stroke-width="0.9" />
<line x1="122.67" y1="157.43" x2="123.65" y2="152.76" stroke="#aaa" stroke-width="0.9" />
<line x1="123.65" y1="148.46" x2="126.5" y2="132.09" stroke="#444" stroke-width="1.5" />
<line x1="126.5" y1="134.14" x2="126.62" y2="125.15" stroke="#555" stroke-width="0.9" />
<line x1="126.6" y1="132.09" x2="127.1" y2="142.04" stroke="#333" stroke-width="1.2" />
<line x1="127.1" y1="142.04" x2="128.27" y2="166.99" stroke="#111" stroke-width="2" />
<line x1="128.27" y1="164.94" x2="128.37" y2="178.39" stroke="#222" stroke-width="1.1" />
<line x1="128.47" y1="164.94" x2="129.49" y2="153.63" stroke="#888" stroke-width="0.9" />
<line x1="129.49" y1="153.63" x2="130.44" y2="148.46" stroke="#999" stroke-width="0.9" />
<line x1="130.44" y1="148.38" x2="133.36" y2="130.25" stroke="#444" stroke-width="1.5" />
<line x1="133.36" y1="132.3" x2="133.48" y2="126.45" stroke="#222" stroke-width="0.9" />
<line x1="133.46" y1="130.25" x2="133.96" y2="140.11" stroke="#333" stroke-width="1.2" />
<line x1="133.96" y1="140.11" x2="135.17" y2="171.75" stroke="#111" stroke-width="2" />
<line x1="135.17" y1="169.7" x2="135.27" y2="178.4" stroke="#444" stroke-width="1.1" />
<line x1="135.37" y1="169.7" x2="136.42" y2="147.51" stroke="#aaa" stroke-width="0.9" />
<line x1="136.42" y1="147.51" x2="137.39" y2="148.38" stroke="#777" stroke-width="0.9" />
<line x1="137.39" y1="153.84" x2="140.39" y2="133.86" stroke="#333" stroke-width="1.5" />
<line x1="140.39" y1="135.91" x2="140.51" y2="128.5" stroke="#555" stroke-width="0.9" />
<line x1="140.49" y1="133.86" x2="140.99" y2="145.58" stroke="#333" stroke-width="1.2" />
<line x1="140.99" y1="145.58" x2="142.24" y2="169.92" stroke="#111" stroke-width="2" />
<line x1="142.24" y1="167.87" x2="142.34" y2="179.26" stroke="#222" stroke-width="1.1" />
<line x1="142.44" y1="167.87" x2="143.52" y2="158.91" stroke="#999" stroke-width="0.9" />
<line x1="143.52" y1="158.91" x2="144.52" y2="153.84" stroke="#777" stroke-width="0.9" />
<line x1="144.52" y1="151.85" x2="147.49" y2="132.87" stroke="#222" stroke-width="1.5" />
<line x1="147.49" y1="134.92" x2="147.61" y2="124.63" stroke="#666" stroke-width="0.9" />
<line x1="147.59" y1="132.87" x2="148.09" y2="144.14" stroke="#333" stroke-width="1.2" />
<line x1="148.09" y1="144.14" x2="149.33" y2="168.79" stroke="#111" stroke-width="2" />
<line x1="149.33" y1="166.74" x2="149.43" y2="178.63" stroke="#111" stroke-width="1.1" />
<line x1="149.53" y1="166.74" x2="150.6" y2="152.05" stroke="#999" stroke-width="0.9" />
<line x1="150.6" y1="152.05" x2="151.59" y2="151.85" stroke="#aaa" stroke-width="0.9" />
<line x1="151.59" y1="151.02" x2="154.63" y2="130.34" stroke="#333" stroke-width="1.5" />
<line x1="154.63" y1="132.39" x2="154.75" y2="128.89" stroke="#222" stroke-width="0.9" />
<line x1="154.73" y1="130.34" x2="155.23" y2="142.28" stroke="#333" stroke-width="1.2" />
<line x1="155.23" y1="142.28" x2="156.52" y2="170.13" stroke="#111" stroke-width="2" />
<line x1="156.52" y1="168.08" x2="156.62" y2="174.33" stroke="#444" stroke-width="1.1" />
<line x1="156.72" y1="168.08" x2="157.82" y2="150.09" stroke="#aaa" stroke-width="0.9" />
<line x1="157.82" y1="150.09" x2="158.83" y2="151.02" stroke="#aaa" stroke-width="0.9" />
<line x1="158.83" y1="150.33" x2="161.61" y2="135.72" stroke="#222" stroke-width="1.5" />
<line x1="161.61" y1="137.77" x2="161.73" y2="125.14" stroke="#333" stroke-width="0.9" />
<line x1="161.71" y1="135.72" x2="162.21" y2="144.62" stroke="#333" stroke-width="1.2" />
<line x1="162.21" y1="144.62" x2="163.33" y2="167.77" stroke="#111" stroke-width="2" />
<line x1="163.33" y1="165.72" x2="163.43" y2="179.75" stroke="#666" stroke-width="1.1" />
<line x1="163.53" y1="165.72" x2="164.52" y2="149.95" stroke="#aaa" stroke-width="0.9" />
<line x1="164.52" y1="149.95" x2="165.45" y2="150.33" stroke="#999" stroke-width="0.9" />
<line x1="165.45" y1="150.81" x2="168.48" y2="136.35" stroke="#222" stroke-width="1.5" />
<line x1="168.48" y1="138.4" x2="168.6" y2="124.85" stroke="#555" stroke-width="0.9" />
<line x1="168.58" y1="136.35" x2="169.08" y2="146.47" stroke="#333" stroke-width="1.2" />
<line x1="169.08" y1="146.47" x2="170.36" y2="171.27" stroke="#111" stroke-width="2" />
<line x1="170.36" y1="169.22" x2="170.46" y2="178.58" stroke="#111" stroke-width="1.1" />
<line x1="170.56" y1="169.22" x2="171.66" y2="151.1" stroke="#aaa" stroke-width="0.9" />
<line x1="171.66" y1="151.1" x2="172.67" y2="150.81" stroke="#777" stroke-width="0.9" />
<line x1="172.67" y1="149.89" x2="175.58" y2="133.79" stroke="#222" stroke-width="1.5" />
<line x1="175.58" y1="135.84" x2="175.7" y2="128.54" stroke="#555" stroke-width="0.9" />
<line x1="175.68" y1="133.79" x2="176.18" y2="145.83" stroke="#333" stroke-width="1.2" />
<line x1="176.18" y1="145.83" x2="177.38" y2="172.48" stroke="#111" stroke-width="2" />
<line x1="177.38" y1="170.43" x2="177.48" y2="174.96" stroke="#111" stroke-width="1.1" />
<line x1="177.58" y1="170.43" x2="178.63" y2="155.78" stroke="#888" stroke-width="0.9" />
<line x1="178.63" y1="155.78" x2="179.6" y2="149.89" stroke="#aaa" stroke-width="0.9" />
<line x1="179.6" y1="150.08" x2="182.6" y2="133.11" stroke="#222" stroke-width="1.5" />
<line x1="182.6" y1="135.16" x2="182.72" y2="124.42" stroke="#666" stroke-width="0.9" />
<line x1="182.7" y1="133.11" x2="183.2" y2="144.28" stroke="#333" stroke-width="1.2" />
<line x1="183.2" y1="144.28" x2="184.45" y2="170.28" stroke="#111" stroke-width="2" />
<line x1="184.45" y1="168.23" x2="184.55" y2="178.3" stroke="#666" stroke-width="1.1" />
<line x1="184.65" y1="168.23" x2="185.74" y2="147.66" stroke="#aaa" stroke-width="0.9" />
<line x1="185.74" y1="147.66" x2="186.74" y2="150.08" stroke="#aaa" stroke-width="0.9" />
<line x1="186.74" y1="151.62" x2="189.58" y2="134.68" stroke="#333" stroke-width="1.5" />
<line x1="189.58" y1="136.73" x2="189.7" y2="123.73" stroke="#333" stroke-width="0.9" />
<line x1="189.68" y1="134.68" x2="190.18" y2="143.82" stroke="#333" stroke-width="1.2" />
<line x1="190.18" y1="143.82" x2="191.34" y2="168.82" stroke="#111" stroke-width="2" />
<line x1="191.34" y1="166.77" x2="191.44" y2="176.48" stroke="#444" stroke-width="1.1" />
<line x1="191.54" y1="166.77" x2="192.55" y2="155.97" stroke="#888" stroke-width="0.9" />
<line x1="192.55" y1="155.97" x2="193.5" y2="151.62" stroke="#999" stroke-width="0.9" />
<line x1="193.5" y1="148.94" x2="196.51" y2="131.14" stroke="#555" stroke-width="1.5" />
<line x1="196.51" y1="133.19" x2="196.63" y2="124.35" stroke="#666" stroke-width="0.9" />
<line x1="196.61" y1="131.14" x2="197.11" y2="140.65" stroke="#333" stroke-width="1.2" />
<line x1="197.11" y1="140.65" x2="198.37" y2="168.81" stroke="#111" stroke-width="2" />
<line x1="198.37" y1="166.76" x2="198.47" y2="179.62" stroke="#222" stroke-width="1.1" />
<line x1="198.57" y1="166.76" x2="199.66" y2="147.83" stroke="#888" stroke-width="0.9" />
<line x1="199.66" y1="147.83" x2="200.66" y2="148.94" stroke="#aaa" stroke-width="0.9" />
<line x1="200.66" y1="151.39" x2="203.57" y2="135.64" stroke="#444" stroke-width="1.5" />
<line x1="203.57" y1="137.69" x2="203.69" y2="124.66" stroke="#222" stroke-width="0.9" />
<line x1="203.67" y1="135.64" x2="204.17" y2="143.08" stroke="#333" stroke-width="1.2" />
<line x1="204.17" y1="143.08" x2="205.36" y2="167.05" stroke="#111" stroke-width="2" />
<line x1="205.36" y1="165" x2="205.46" y2="179.29" stroke="#222" stroke-width="1.1" />
<line x1="205.56" y1="165" x2="206.61" y2="148.37" stroke="#aaa" stroke-width="0.9" />
<line x1="206.61" y1="148.37" x2="207.57" y2="151.39" stroke="#777" stroke-width="0.9" />
<line x1="207.57" y1="149.09" x2="210.41" y2="134.03" stroke="#222" stroke-width="1.5" />
<line x1="210.41" y1="136.08" x2="210.53" y2="126.32" stroke="#555" stroke-width="0.9" />
<line x1="210.51" y1="134.03" x2="211.01" y2="141.62" stroke="#333" stroke-width="1.2" />
<line x1="211.01" y1="141.62" x2="212.17" y2="168.5" stroke="#111" stroke-width="2" />
<line x1="212.17" y1="166.45" x2="212.27" y2="175.71" stroke="#666" stroke-width="1.1" />
<line x1="212.37" y1="166.45" x2="213.39" y2="150.01" stroke="#aaa" stroke-width="0.9" />
<line x1="213.39" y1="150.01" x2="214.34" y2="149.09" stroke="#aaa" stroke-width="0.9" />
<line x1="214.34" y1="150.17" x2="217.23" y2="130.24" stroke="#333" stroke-width="1.5" />
<line x1="217.23" y1="132.29" x2="217.35" y2="123.48" stroke="#555" stroke-width="0.9" />
<line x1="217.33" y1="130.24" x2="217.83" y2="142" stroke="#333" stroke-width="1.2" />
<line x1="217.83" y1="142" x2="219.02" y2="170.18" stroke="#111" stroke-width="2" />
<line x1="219.02" y1="168.13" x2="219.12" y2="177.94" stroke="#222" stroke-width="1.1" />
<line x1="219.22" y1="168.13" x2="220.26" y2="152.19" stroke="#888" stroke-width="0.9" />
<line x1="220.26" y1="152.19" x2="221.22" y2="150.17" stroke="#aaa" stroke-width="0.9" />
<line x1="221.22" y1="150.67" x2="224.28" y2="136.3" stroke="#333" stroke-width="1.5" />
<line x1="224.28" y1="138.35" x2="224.4" y2="123.93" stroke="#333" stroke-width="0.9" />
<line x1="224.38" y1="136.3" x2="224.88" y2="143.58" stroke="#333" stroke-width="1.2" />
<line x1="224.88" y1="143.58" x2="226.17" y2="168.61" stroke="#111" stroke-width="2" />
<line x1="226.17" y1="166.56" x2="226.27" y2="176.11" stroke="#666" stroke-width="1.1" />
<line x1="226.37" y1="166.56" x2="227.48" y2="147.15" stroke="#888" stroke-width="0.9" />
<line x1="227.48" y1="147.15" x2="228.5" y2="150.67" stroke="#777" stroke-width="0.9" />
<line x1="228.5" y1="148.89" x2="231.45" y2="130.58" stroke="#444" stroke-width="1.5" />
<line x1="231.45" y1="132.63" x2="231.57" y2="124.6" stroke="#666" stroke-width="0.9" />
<line x1="231.55" y1="130.58" x2="232.05" y2="145.97" stroke="#333" stroke-width="1.2" />
<line x1="232.05" y1="145.97" x2="233.28" y2="167.93" stroke="#111" stroke-width="2" />
<line x1="233.28" y1="165.88" x2="233.38" y2="178.69" stroke="#222" stroke-width="1.1" />
<line x1="233.48" y1="165.88" x2="234.54" y2="154.95" stroke="#888" stroke-width="0.9" />
<line x1="234.54" y1="154.95" x2="235.53" y2="148.89" stroke="#aaa" stroke-width="0.9" />
<line x1="235.53" y1="151.46" x2="238.44" y2="135.24" stroke="#222" stroke-width="1.5" />
<line x1="238.44" y1="137.29" x2="238.56" y2="124.64" stroke="#333" stroke-width="0.9" />
<line x1="238.54" y1="135.24" x2="239.04" y2="141.95" stroke="#333" stroke-width="1.2" />
<line x1="239.04" y1="141.95" x2="240.24" y2="166.9" stroke="#111" stroke-width="2" />
<line x1="240.24" y1="164.85" x2="240.34" y2="177.83" stroke="#666" stroke-width="1.1" />
<line x1="240.44" y1="164.85" x2="241.49" y2="148.13" stroke="#aaa" stroke-width="0.9" />
<line x1="241.49" y1="148.13" x2="242.46" y2="151.46" stroke="#aaa" stroke-width="0.9" />
<line x1="242.46" y1="151.53" x2="245.32" y2="136.2" stroke="#222" stroke-width="1.5" />
<line x1="245.32" y1="138.25" x2="245.44" y2="128" stroke="#222" stroke-width="0.9" />
<line x1="245.42" y1="136.2" x2="245.92" y2="146.11" stroke="#333" stroke-width="1.2" />
<line x1="245.92" y1="146.11" x2="247.08" y2="168.33" stroke="#111" stroke-width="2" />
<line x1="247.08" y1="166.28" x2="247.18" y2="175.53" stroke="#222" stroke-width="1.1" />
<line x1="247.28" y1="166.28" x2="248.3" y2="157.13" stroke="#aaa" stroke-width="0.9" />
<line x1="248.3" y1="157.13" x2="249.25" y2="151.53" stroke="#aaa" stroke-width="0.9" />
<line x1="249.25" y1="150.4" x2="252.32" y2="135.36" stroke="#222" stroke-width="1.5" />
<line x1="252.32" y1="137.41" x2="252.44" y2="128.99" stroke="#666" stroke-width="0.9" />
<line x1="252.42" y1="135.36" x2="252.92" y2="144.78" stroke="#333" stroke-width="1.2" />
<line x1="252.92" y1="144.78" x2="254.21" y2="170.21" stroke="#111" stroke-width="2" />
<line x1="254.21" y1="168.16" x2="254.31" y2="179.64" stroke="#222" stroke-width="1.1" />
<line x1="254.41" y1="168.16" x2="255.52" y2="147.62" stroke="#aaa" stroke-width="0.9" />
<line x1="255.52" y1="147.62" x2="256.54" y2="150.4" stroke="#aaa" stroke-width="0.9" />
<line x1="256.54" y1="151.66" x2="259.51" y2="132.85" stroke="#555" stroke-width="1.5" />
<line x1="259.51" y1="134.9" x2="259.63" y2="124.27" stroke="#666" stroke-width="0.9" />
<line x1="259.61" y1="132.85" x2="260.11" y2="140.63" stroke="#333" stroke-width="1.2" />
<line x1="260.11" y1="140.63" x2="261.34" y2="172.78" stroke="#111" stroke-width="2" />
<line x1="261.34" y1="170.73" x2="261.44" y2="178.09" stroke="#111" stroke-width="1.1" />
<line x1="261.54" y1="170.73" x2="262.61" y2="152.59" stroke="#999" stroke-width="0.9" />
<line x1="262.61" y1="152.59" x2="263.6" y2="151.66" stroke="#aaa" stroke-width="0.9" />
<line x1="263.6" y1="149.27" x2="266.55" y2="135.4" stroke="#444" stroke-width="1.5" />
<line x1="266.55" y1="137.45" x2="266.67" y2="128.76" stroke="#222" stroke-width="0.9" />
<line x1="266.65" y1="135.4" x2="267.15" y2="143.32" stroke="#333" stroke-width="1.2" />
<line x1="267.15" y1="143.32" x2="268.37" y2="172.7" stroke="#111" stroke-width="2" />
<line x1="268.37" y1="170.65" x2="268.47" y2="174.39" stroke="#111" stroke-width="1.1" />
<line x1="268.57" y1="170.65" x2="269.63" y2="145.6" stroke="#999" stroke-width="0.9" />
<line x1="269.63" y1="145.6" x2="270.62" y2="149.27" stroke="#777" stroke-width="0.9" />
<line x1="270.62" y1="152.34" x2="273.63" y2="133.99" stroke="#222" stroke-width="1.5" />
<line x1="273.63" y1="136.04" x2="273.75" y2="126.37" stroke="#222" stroke-width="0.9" />
<line x1="273.73" y1="133.99" x2="274.23" y2="144.54" stroke="#333" stroke-width="1.2" />
<line x1="274.23" y1="144.54" x2="275.49" y2="172.77" stroke="#111" stroke-width="2" />
<line x1="275.49" y1="170.72" x2="275.59" y2="178.88" stroke="#666" stroke-width="1.1" />
<line x1="275.69" y1="170.72" x2="276.78" y2="149.32" stroke="#888" stroke-width="0.9" />
<line x1="276.78" y1="149.32" x2="277.79" y2="152.34" stroke="#aaa" stroke-width="0.9" />
<line x1="277.79" y1="153.41" x2="280.85" y2="134.59" stroke="#555" stroke-width="1.5" />
<line x1="280.85" y1="136.64" x2="280.97" y2="126.31" stroke="#555" stroke-width="0.9" />
<line x1="280.95" y1="134.59" x2="281.45" y2="145.59" stroke="#333" stroke-width="1.2" />
<line x1="281.45" y1="145.59" x2="282.74" y2="167.46" stroke="#111" stroke-width="2" />
<line x1="282.74" y1="165.41" x2="282.84" y2="175.52" stroke="#444" stroke-width="1.1" />
<line x1="282.94" y1="165.41" x2="284.06" y2="158.13" stroke="#999" stroke-width="0.9" />
<line x1="284.06" y1="158.13" x2="285.08" y2="153.41" stroke="#999" stroke-width="0.9" />
<line x1="285.08" y1="151.22" x2="287.93" y2="133.9" stroke="#555" stroke-width="1.5" />
<line x1="287.93" y1="135.95" x2="288.05" y2="127.39" stroke="#666" stroke-width="0.9" />
<line x1="288.03" y1="133.9" x2="288.53" y2="141.33" stroke="#333" stroke-width="1.2" />
<line x1="288.53" y1="141.33" x2="289.69" y2="168.36" stroke="#111" stroke-width="2" />
<line x1="289.69" y1="166.31" x2="289.79" y2="175.71" stroke="#444" stroke-width="1.1" />
<line x1="289.89" y1="166.31" x2="290.92" y2="151.92" stroke="#888" stroke-width="0.9" />
<line x1="290.92" y1="151.92" x2="291.87" y2="151.22" stroke="#777" stroke-width="0.9" />
<line x1="291.87" y1="152.81" x2="294.66" y2="133.2" stroke="#444" stroke-width="1.5" />
<line x1="294.66" y1="135.25" x2="294.78" y2="126.47" stroke="#222" stroke-width="0.9" />
<line x1="294.76" y1="133.2" x2="295.26" y2="144.94" stroke="#333" stroke-width="1.2" />
<line x1="295.26" y1="144.94" x2="296.39" y2="167.37" stroke="#111" stroke-width="2" />
<line x1="296.39" y1="165.32" x2="296.49" y2="179.34" stroke="#666" stroke-width="1.1" />
<line x1="296.59" y1="165.32" x2="297.59" y2="157.65" stroke="#999" stroke-width="0.9" />
<line x1="297.59" y1="157.65" x2="298.52" y2="152.81" stroke="#999" stroke-width="0.9" />
<line x1="298.52" y1="152.47" x2="301.4" y2="130.36" stroke="#444" stroke-width="1.5" />
<line x1="301.4" y1="132.41" x2="301.52" y2="126.49" stroke="#666" stroke-width="0.9" />
<line x1="301.5" y1="130.36" x2="302" y2="140.84" stroke="#333" stroke-width="1.2" />
<line x1="302" y1="140.84" x2="303.18" y2="168.28" stroke="#111" stroke-width="2" />
<line x1="303.18" y1="166.23" x2="303.28" y2="176.72" stroke="#444" stroke-width="1.1" />
<line x1="303.38" y1="166.23" x2="304.41" y2="153.82" stroke="#999" stroke-width="0.9" />
<line x1="304.41" y1="153.82" x2="305.37" y2="152.47" stroke="#aaa" stroke-width="0.9" />
<line x1="305.37" y1="148.75" x2="308.23" y2="135.76" stroke="#555" stroke-width="1.5" />
<line x1="308.23" y1="137.81" x2="308.35" y2="127.56" stroke="#333" stroke-width="0.9" />
<line x1="214.4" y1="153.6" x2="214.4" y2="201.98" stroke="#555" stroke-width="1" />
<line x1="43.6" y1="161.8" x2="43.6" y2="183.53" stroke="#333" stroke-width="1" />
<line x1="122.4" y1="133.1" x2="122.4" y2="117.11" stroke="#555" stroke-width="1" />
<line x1="246.6" y1="133.1" x2="246.6" y2="117.93" stroke="#555" stroke-width="1" />
<line x1="262.2" y1="133.1" x2="262.2" y2="119.57" stroke="#555" stroke-width="1" />
<line x1="273.9" y1="133.1" x2="273.9" y2="119.57" stroke="#555" stroke-width="1" />
<rect x="32.5" y="112.6" width="276.5" height="93.8" fill="none" stroke="#5a5a5a" stroke-width="1"/>
<line x1="32.5" y1="112.6" x2="35.2" y2="112.6" stroke="#383838" stroke-width="1" />
<line x1="32.5" y1="129" x2="35.2" y2="129" stroke="#383838" stroke-width="1" />
<line x1="32.5" y1="145.4" x2="35.2" y2="145.4" stroke="#383838" stroke-width="1" />
<line x1="32.5" y1="161.8" x2="35.2" y2="161.8" stroke="#383838" stroke-width="1" />
<line x1="32.5" y1="178.2" x2="35.2" y2="178.2" stroke="#383838" stroke-width="1" />
<line x1="32.5" y1="194.6" x2="35.2" y2="194.6" stroke="#383838" stroke-width="1" />
<line x1="32.5" y1="120.8" x2="34.1" y2="120.8" stroke="#383838" stroke-width="1" />
<line x1="32.5" y1="137.2" x2="34.1" y2="137.2" stroke="#383838" stroke-width="1" />
<line x1="32.5" y1="153.6" x2="34.1" y2="153.6" stroke="#383838" stroke-width="1" />
<line x1="32.5" y1="170" x2="34.1" y2="170" stroke="#383838" stroke-width="1" />
<line x1="32.5" y1="186.4" x2="34.1" y2="186.4" stroke="#383838" stroke-width="1" />
<line x1="32.5" y1="202.8" x2="34.1" y2="202.8" stroke="#383838" stroke-width="1" />
<text x="29.3" y="115.97" font-size="9.4" text-anchor="end" fill="#1a1a1a" >0.8</text>
<text x="29.3" y="132.37" font-size="9.4" text-anchor="end" fill="#1a1a1a" >0.4</text>
<text x="29.3" y="148.77" font-size="9.4" text-anchor="end" fill="#1a1a1a" >0.0</text>
<text x="29.3" y="165.17" font-size="9.4" text-anchor="end" fill="#1a1a1a" >-0.4</text>
<text x="29.3" y="181.57" font-size="9.4" text-anchor="end" fill="#1a1a1a" >-0.8</text>
<text x="29.3" y="197.97" font-size="9.4" text-anchor="end" fill="#1a1a1a" >-1.2</text>
<line x1="38.9" y1="206.4" x2="38.9" y2="203.7" stroke="#383838" stroke-width="1" />
<line x1="65.9" y1="206.4" x2="65.9" y2="203.7" stroke="#383838" stroke-width="1" />
<line x1="92.9" y1="206.4" x2="92.9" y2="203.7" stroke="#383838" stroke-width="1" />
<line x1="119.9" y1="206.4" x2="119.9" y2="203.7" stroke="#383838" stroke-width="1" />
<line x1="146.9" y1="206.4" x2="146.9" y2="203.7" stroke="#383838" stroke-width="1" />
<line x1="173.9" y1="206.4" x2="173.9" y2="203.7" stroke="#383838" stroke-width="1" />
<line x1="200.9" y1="206.4" x2="200.9" y2="203.7" stroke="#383838" stroke-width="1" />
<line x1="227.9" y1="206.4" x2="227.9" y2="203.7" stroke="#383838" stroke-width="1" />
<line x1="254.9" y1="206.4" x2="254.9" y2="203.7" stroke="#383838" stroke-width="1" />
<line x1="281.9" y1="206.4" x2="281.9" y2="203.7" stroke="#383838" stroke-width="1" />
<line x1="308.9" y1="206.4" x2="308.9" y2="203.7" stroke="#383838" stroke-width="1" />
<line x1="52.4" y1="206.4" x2="52.4" y2="204.8" stroke="#383838" stroke-width="1" />
<line x1="79.4" y1="206.4" x2="79.4" y2="204.8" stroke="#383838" stroke-width="1" />
<line x1="106.4" y1="206.4" x2="106.4" y2="204.8" stroke="#383838" stroke-width="1" />
<line x1="133.4" y1="206.4" x2="133.4" y2="204.8" stroke="#383838" stroke-width="1" />
<line x1="160.4" y1="206.4" x2="160.4" y2="204.8" stroke="#383838" stroke-width="1" />
<line x1="187.4" y1="206.4" x2="187.4" y2="204.8" stroke="#383838" stroke-width="1" />
<line x1="214.4" y1="206.4" x2="214.4" y2="204.8" stroke="#383838" stroke-width="1" />
<line x1="241.4" y1="206.4" x2="241.4" y2="204.8" stroke="#383838" stroke-width="1" />
<line x1="268.4" y1="206.4" x2="268.4" y2="204.8" stroke="#383838" stroke-width="1" />
<line x1="295.4" y1="206.4" x2="295.4" y2="204.8" stroke="#383838" stroke-width="1" />
<text x="38.9" y="217.2" font-size="9.4" text-anchor="middle" fill="#1a1a1a" >0</text>
<text x="65.9" y="217.2" font-size="9.4" text-anchor="middle" fill="#1a1a1a" >2</text>
<text x="92.9" y="217.2" font-size="9.4" text-anchor="middle" fill="#1a1a1a" >4</text>
<text x="119.9" y="217.2" font-size="9.4" text-anchor="middle" fill="#1a1a1a" >6</text>
<text x="146.9" y="217.2" font-size="9.4" text-anchor="middle" fill="#1a1a1a" >8</text>
<text x="173.9" y="217.2" font-size="9.4" text-anchor="middle" fill="#1a1a1a" >10</text>
<text x="200.9" y="217.2" font-size="9.4" text-anchor="middle" fill="#1a1a1a" >12</text>
<text x="227.9" y="217.2" font-size="9.4" text-anchor="middle" fill="#1a1a1a" >14</text>
<text x="254.9" y="217.2" font-size="9.4" text-anchor="middle" fill="#1a1a1a" >16</text>
<text x="281.9" y="217.2" font-size="9.4" text-anchor="middle" fill="#1a1a1a" >18</text>
<text x="308.9" y="217.2" font-size="9.4" text-anchor="middle" fill="#1a1a1a" >20</text>
<line x1="133.8" y1="190.7" x2="149" y2="190.7" stroke="#333" stroke-width="1" />
<text x="151.2" y="192.6" font-size="10.5" text-anchor="start" fill="#1a1a1a" >EF yarn 2</text>
<text x="159" y="227.6" font-size="10.8" text-anchor="start" fill="#1a1a1a" >Time (s)</text>
<text transform="translate(11.06 103.5) rotate(-90)" font-size="11.4" text-anchor="middle" fill="#1a1a1a">Voltage (V)</text>
<line x1="384.76" y1="79.84" x2="385.36" y2="41.5" stroke="#666" stroke-width="0.9" />
<line x1="385.36" y1="41.5" x2="385.81" y2="106.97" stroke="#999" stroke-width="0.9" />
<line x1="385.81" y1="106.97" x2="386.21" y2="164.26" stroke="#111" stroke-width="0.9" />
<line x1="386.21" y1="164.26" x2="386.56" y2="205.18" stroke="#444" stroke-width="0.9" />
<line x1="386.56" y1="205.18" x2="387.16" y2="78.18" stroke="#777" stroke-width="0.9" />
<line x1="388.06" y1="54.16" x2="388.46" y2="78.7" stroke="#222" stroke-width="0.9" />
<line x1="388.46" y1="78.7" x2="388.86" y2="105.96" stroke="#888" stroke-width="0.9" />
<line x1="388.86" y1="105.96" x2="389.26" y2="66.91" stroke="#777" stroke-width="0.9" />
<line x1="391.12" y1="84.03" x2="391.72" y2="37.37" stroke="#999" stroke-width="0.9" />
<line x1="391.72" y1="37.37" x2="392.17" y2="83.57" stroke="#555" stroke-width="0.9" />
<line x1="392.17" y1="83.57" x2="392.57" y2="123.99" stroke="#222" stroke-width="0.9" />
<line x1="392.57" y1="123.99" x2="392.92" y2="152.86" stroke="#444" stroke-width="0.9" />
<line x1="392.92" y1="152.86" x2="393.52" y2="90.41" stroke="#666" stroke-width="0.9" />
<line x1="394.42" y1="61.76" x2="394.82" y2="78.7" stroke="#333" stroke-width="0.9" />
<line x1="394.82" y1="78.7" x2="395.22" y2="112.99" stroke="#777" stroke-width="0.9" />
<line x1="395.22" y1="112.99" x2="395.62" y2="76.18" stroke="#666" stroke-width="0.9" />
<line x1="397.36" y1="81.23" x2="397.96" y2="36.64" stroke="#888" stroke-width="0.9" />
<line x1="397.96" y1="36.64" x2="398.41" y2="79.93" stroke="#666" stroke-width="0.9" />
<line x1="398.41" y1="79.93" x2="398.81" y2="117.8" stroke="#222" stroke-width="0.9" />
<line x1="398.81" y1="117.8" x2="399.16" y2="144.86" stroke="#555" stroke-width="0.9" />
<line x1="399.16" y1="144.86" x2="399.76" y2="76.2" stroke="#777" stroke-width="0.9" />
<line x1="400.66" y1="61.12" x2="401.06" y2="78.7" stroke="#444" stroke-width="0.9" />
<line x1="401.06" y1="78.7" x2="401.46" y2="104.28" stroke="#999" stroke-width="0.9" />
<line x1="401.46" y1="104.28" x2="401.86" y2="70.29" stroke="#888" stroke-width="0.9" />
<line x1="403.52" y1="91.96" x2="404.12" y2="31.99" stroke="#aaa" stroke-width="0.9" />
<line x1="404.12" y1="31.99" x2="404.57" y2="80.28" stroke="#aaa" stroke-width="0.9" />
<line x1="404.57" y1="80.28" x2="404.97" y2="122.52" stroke="#111" stroke-width="0.9" />
<line x1="404.97" y1="122.52" x2="405.32" y2="152.7" stroke="#555" stroke-width="0.9" />
<line x1="405.32" y1="152.7" x2="405.92" y2="80.13" stroke="#888" stroke-width="0.9" />
<line x1="406.82" y1="62.84" x2="407.22" y2="78.7" stroke="#555" stroke-width="0.9" />
<line x1="407.22" y1="78.7" x2="407.62" y2="119.49" stroke="#999" stroke-width="0.9" />
<line x1="407.62" y1="119.49" x2="408.02" y2="62.4" stroke="#777" stroke-width="0.9" />
<line x1="409.77" y1="79.19" x2="410.37" y2="33.48" stroke="#666" stroke-width="0.9" />
<line x1="410.37" y1="33.48" x2="410.82" y2="82.07" stroke="#666" stroke-width="0.9" />
<line x1="410.82" y1="82.07" x2="411.22" y2="124.59" stroke="#444" stroke-width="0.9" />
<line x1="411.22" y1="124.59" x2="411.57" y2="154.96" stroke="#111" stroke-width="0.9" />
<line x1="411.57" y1="154.96" x2="412.17" y2="82.69" stroke="#999" stroke-width="0.9" />
<line x1="413.07" y1="58.37" x2="413.47" y2="78.7" stroke="#111" stroke-width="0.9" />
<line x1="413.47" y1="78.7" x2="413.87" y2="113.95" stroke="#999" stroke-width="0.9" />
<line x1="413.87" y1="113.95" x2="414.27" y2="75.29" stroke="#777" stroke-width="0.9" />
<line x1="416.06" y1="93.66" x2="416.66" y2="31.87" stroke="#999" stroke-width="0.9" />
<line x1="416.66" y1="31.87" x2="417.11" y2="80.84" stroke="#666" stroke-width="0.9" />
<line x1="417.11" y1="80.84" x2="417.51" y2="123.68" stroke="#555" stroke-width="0.9" />
<line x1="417.51" y1="123.68" x2="417.86" y2="154.28" stroke="#333" stroke-width="0.9" />
<line x1="417.86" y1="154.28" x2="418.46" y2="75.87" stroke="#888" stroke-width="0.9" />
<line x1="419.36" y1="52.28" x2="419.76" y2="78.7" stroke="#666" stroke-width="0.9" />
<line x1="419.76" y1="78.7" x2="420.16" y2="125.62" stroke="#888" stroke-width="0.9" />
<line x1="420.16" y1="125.62" x2="420.56" y2="75.49" stroke="#666" stroke-width="0.9" />
<line x1="422.43" y1="95.6" x2="423.03" y2="34.72" stroke="#888" stroke-width="0.9" />
<line x1="423.03" y1="34.72" x2="423.48" y2="81.48" stroke="#999" stroke-width="0.9" />
<line x1="423.48" y1="81.48" x2="423.88" y2="122.4" stroke="#111" stroke-width="0.9" />
<line x1="423.88" y1="122.4" x2="424.23" y2="151.62" stroke="#333" stroke-width="0.9" />
<line x1="424.23" y1="151.62" x2="424.83" y2="79.97" stroke="#888" stroke-width="0.9" />
<line x1="425.73" y1="61.18" x2="426.13" y2="78.7" stroke="#333" stroke-width="0.9" />
<line x1="426.13" y1="78.7" x2="426.53" y2="126.36" stroke="#555" stroke-width="0.9" />
<line x1="426.53" y1="126.36" x2="426.93" y2="62.55" stroke="#999" stroke-width="0.9" />
<line x1="428.58" y1="87.95" x2="429.18" y2="37.71" stroke="#999" stroke-width="0.9" />
<line x1="429.18" y1="37.71" x2="429.63" y2="80.55" stroke="#111" stroke-width="0.9" />
<line x1="429.63" y1="80.55" x2="430.03" y2="118.04" stroke="#222" stroke-width="0.9" />
<line x1="430.03" y1="118.04" x2="430.38" y2="144.81" stroke="#777" stroke-width="0.9" />
<line x1="430.38" y1="144.81" x2="430.98" y2="81.8" stroke="#888" stroke-width="0.9" />
<line x1="431.88" y1="57.04" x2="432.28" y2="78.7" stroke="#111" stroke-width="0.9" />
<line x1="432.28" y1="78.7" x2="432.68" y2="117.84" stroke="#555" stroke-width="0.9" />
<line x1="432.68" y1="117.84" x2="433.08" y2="75.57" stroke="#999" stroke-width="0.9" />
<line x1="434.71" y1="87.35" x2="435.31" y2="36.69" stroke="#777" stroke-width="0.9" />
<line x1="435.31" y1="36.69" x2="435.76" y2="79.96" stroke="#777" stroke-width="0.9" />
<line x1="435.76" y1="79.96" x2="436.16" y2="117.83" stroke="#111" stroke-width="0.9" />
<line x1="436.16" y1="117.83" x2="436.51" y2="144.87" stroke="#222" stroke-width="0.9" />
<line x1="436.51" y1="144.87" x2="437.11" y2="84.96" stroke="#777" stroke-width="0.9" />
<line x1="438.01" y1="62.95" x2="438.41" y2="78.7" stroke="#333" stroke-width="0.9" />
<line x1="438.41" y1="78.7" x2="438.81" y2="117.87" stroke="#999" stroke-width="0.9" />
<line x1="438.81" y1="117.87" x2="439.21" y2="57.93" stroke="#aaa" stroke-width="0.9" />
<line x1="440.93" y1="88.85" x2="441.53" y2="18.19" stroke="#666" stroke-width="0.9" />
<line x1="441.53" y1="18.19" x2="441.98" y2="71.17" stroke="#666" stroke-width="0.9" />
<line x1="441.98" y1="71.17" x2="442.38" y2="117.52" stroke="#444" stroke-width="0.9" />
<line x1="442.38" y1="117.52" x2="442.73" y2="150.63" stroke="#333" stroke-width="0.9" />
<line x1="442.73" y1="150.63" x2="443.33" y2="87.81" stroke="#999" stroke-width="0.9" />
<line x1="444.23" y1="50.4" x2="444.63" y2="78.7" stroke="#999" stroke-width="0.9" />
<line x1="444.63" y1="78.7" x2="445.03" y2="125.51" stroke="#777" stroke-width="0.9" />
<line x1="445.03" y1="125.51" x2="445.43" y2="63.78" stroke="#999" stroke-width="0.9" />
<line x1="447.4" y1="88.32" x2="448" y2="36.87" stroke="#aaa" stroke-width="0.9" />
<line x1="448" y1="36.87" x2="448.45" y2="82.21" stroke="#999" stroke-width="0.9" />
<line x1="448.45" y1="82.21" x2="448.85" y2="121.88" stroke="#333" stroke-width="0.9" />
<line x1="448.85" y1="121.88" x2="449.2" y2="150.21" stroke="#111" stroke-width="0.9" />
<line x1="449.2" y1="150.21" x2="449.8" y2="77.99" stroke="#888" stroke-width="0.9" />
<line x1="450.7" y1="53.48" x2="451.1" y2="78.7" stroke="#555" stroke-width="0.9" />
<line x1="451.1" y1="78.7" x2="451.5" y2="111.83" stroke="#888" stroke-width="0.9" />
<line x1="451.5" y1="111.83" x2="451.9" y2="65.12" stroke="#888" stroke-width="0.9" />
<line x1="453.89" y1="84.33" x2="454.49" y2="36.32" stroke="#888" stroke-width="0.9" />
<line x1="454.49" y1="36.32" x2="454.94" y2="79.74" stroke="#333" stroke-width="0.9" />
<line x1="454.94" y1="79.74" x2="455.34" y2="117.74" stroke="#555" stroke-width="0.9" />
<line x1="455.34" y1="117.74" x2="455.69" y2="144.88" stroke="#111" stroke-width="0.9" />
<line x1="455.69" y1="144.88" x2="456.29" y2="84.17" stroke="#888" stroke-width="0.9" />
<line x1="457.19" y1="58.97" x2="457.59" y2="78.7" stroke="#555" stroke-width="0.9" />
<line x1="457.59" y1="78.7" x2="457.99" y2="121.51" stroke="#aaa" stroke-width="0.9" />
<line x1="457.99" y1="121.51" x2="458.39" y2="63.37" stroke="#888" stroke-width="0.9" />
<line x1="460.36" y1="82.11" x2="460.96" y2="33.88" stroke="#888" stroke-width="0.9" />
<line x1="460.96" y1="33.88" x2="461.41" y2="79.34" stroke="#333" stroke-width="0.9" />
<line x1="461.41" y1="79.34" x2="461.81" y2="119.12" stroke="#444" stroke-width="0.9" />
<line x1="461.81" y1="119.12" x2="462.16" y2="147.53" stroke="#333" stroke-width="0.9" />
<line x1="462.16" y1="147.53" x2="462.76" y2="74.6" stroke="#aaa" stroke-width="0.9" />
<line x1="463.66" y1="61.71" x2="464.06" y2="78.7" stroke="#444" stroke-width="0.9" />
<line x1="464.06" y1="78.7" x2="464.46" y2="103.99" stroke="#888" stroke-width="0.9" />
<line x1="464.46" y1="103.99" x2="464.86" y2="57.62" stroke="#999" stroke-width="0.9" />
<line x1="466.58" y1="90.27" x2="467.18" y2="37.52" stroke="#aaa" stroke-width="0.9" />
<line x1="467.18" y1="37.52" x2="467.63" y2="81.82" stroke="#aaa" stroke-width="0.9" />
<line x1="467.63" y1="81.82" x2="468.03" y2="120.57" stroke="#555" stroke-width="0.9" />
<line x1="468.03" y1="120.57" x2="468.38" y2="148.26" stroke="#777" stroke-width="0.9" />
<line x1="468.38" y1="148.26" x2="468.98" y2="75" stroke="#888" stroke-width="0.9" />
<line x1="469.88" y1="54.54" x2="470.28" y2="78.7" stroke="#555" stroke-width="0.9" />
<line x1="470.28" y1="78.7" x2="470.68" y2="109.09" stroke="#555" stroke-width="0.9" />
<line x1="470.68" y1="109.09" x2="471.08" y2="56.46" stroke="#777" stroke-width="0.9" />
<line x1="472.77" y1="94.19" x2="473.37" y2="35.18" stroke="#666" stroke-width="0.9" />
<line x1="473.37" y1="35.18" x2="473.82" y2="80.5" stroke="#333" stroke-width="0.9" />
<line x1="473.82" y1="80.5" x2="474.22" y2="120.16" stroke="#111" stroke-width="0.9" />
<line x1="474.22" y1="120.16" x2="474.57" y2="148.49" stroke="#444" stroke-width="0.9" />
<line x1="474.57" y1="148.49" x2="475.17" y2="74.14" stroke="#777" stroke-width="0.9" />
<line x1="476.07" y1="63.01" x2="476.47" y2="78.7" stroke="#666" stroke-width="0.9" />
<line x1="476.47" y1="78.7" x2="476.87" y2="124.99" stroke="#777" stroke-width="0.9" />
<line x1="476.87" y1="124.99" x2="477.27" y2="66.64" stroke="#aaa" stroke-width="0.9" />
<line x1="478.9" y1="86.4" x2="479.5" y2="35.03" stroke="#aaa" stroke-width="0.9" />
<line x1="479.5" y1="35.03" x2="479.95" y2="81.59" stroke="#444" stroke-width="0.9" />
<line x1="479.95" y1="81.59" x2="480.35" y2="122.33" stroke="#222" stroke-width="0.9" />
<line x1="480.35" y1="122.33" x2="480.7" y2="151.43" stroke="#777" stroke-width="0.9" />
<line x1="480.7" y1="151.43" x2="481.3" y2="75.66" stroke="#666" stroke-width="0.9" />
<line x1="482.2" y1="58.6" x2="482.6" y2="78.7" stroke="#777" stroke-width="0.9" />
<line x1="482.6" y1="78.7" x2="483" y2="104.69" stroke="#666" stroke-width="0.9" />
<line x1="483" y1="104.69" x2="483.4" y2="62.55" stroke="#aaa" stroke-width="0.9" />
<line x1="484.97" y1="96.66" x2="485.57" y2="37.8" stroke="#aaa" stroke-width="0.9" />
<line x1="485.57" y1="37.8" x2="486.02" y2="82.23" stroke="#999" stroke-width="0.9" />
<line x1="486.02" y1="82.23" x2="486.42" y2="121.11" stroke="#333" stroke-width="0.9" />
<line x1="486.42" y1="121.11" x2="486.77" y2="148.88" stroke="#555" stroke-width="0.9" />
<line x1="486.77" y1="148.88" x2="487.37" y2="87.76" stroke="#888" stroke-width="0.9" />
<line x1="488.27" y1="51.64" x2="488.67" y2="78.7" stroke="#aaa" stroke-width="0.9" />
<line x1="488.67" y1="78.7" x2="489.07" y2="117.91" stroke="#555" stroke-width="0.9" />
<line x1="489.07" y1="117.91" x2="489.47" y2="65.54" stroke="#999" stroke-width="0.9" />
<line x1="491.2" y1="79.55" x2="491.8" y2="34.19" stroke="#777" stroke-width="0.9" />
<line x1="491.8" y1="34.19" x2="492.25" y2="80.28" stroke="#aaa" stroke-width="0.9" />
<line x1="492.25" y1="80.28" x2="492.65" y2="120.62" stroke="#111" stroke-width="0.9" />
<line x1="492.65" y1="120.62" x2="493" y2="149.43" stroke="#333" stroke-width="0.9" />
<line x1="493" y1="149.43" x2="493.6" y2="77.29" stroke="#666" stroke-width="0.9" />
<line x1="494.5" y1="58.14" x2="494.9" y2="78.7" stroke="#aaa" stroke-width="0.9" />
<line x1="494.9" y1="78.7" x2="495.3" y2="120.21" stroke="#aaa" stroke-width="0.9" />
<line x1="495.3" y1="120.21" x2="495.7" y2="73.43" stroke="#aaa" stroke-width="0.9" />
<line x1="497.32" y1="92.76" x2="497.92" y2="35.24" stroke="#666" stroke-width="0.9" />
<line x1="497.92" y1="35.24" x2="498.37" y2="82.39" stroke="#777" stroke-width="0.9" />
<line x1="498.37" y1="82.39" x2="498.77" y2="123.64" stroke="#444" stroke-width="0.9" />
<line x1="498.77" y1="123.64" x2="499.12" y2="153.11" stroke="#222" stroke-width="0.9" />
<line x1="499.12" y1="153.11" x2="499.72" y2="81.76" stroke="#888" stroke-width="0.9" />
<line x1="500.62" y1="52.79" x2="501.02" y2="78.7" stroke="#555" stroke-width="0.9" />
<line x1="501.02" y1="78.7" x2="501.42" y2="120.84" stroke="#999" stroke-width="0.9" />
<line x1="501.42" y1="120.84" x2="501.82" y2="75.83" stroke="#888" stroke-width="0.9" />
<line x1="503.56" y1="96.12" x2="504.16" y2="36.18" stroke="#aaa" stroke-width="0.9" />
<line x1="504.16" y1="36.18" x2="504.61" y2="81.86" stroke="#888" stroke-width="0.9" />
<line x1="504.61" y1="81.86" x2="505.01" y2="121.83" stroke="#222" stroke-width="0.9" />
<line x1="505.01" y1="121.83" x2="505.36" y2="150.38" stroke="#333" stroke-width="0.9" />
<line x1="505.36" y1="150.38" x2="505.96" y2="92.79" stroke="#777" stroke-width="0.9" />
<line x1="506.86" y1="51.52" x2="507.26" y2="78.7" stroke="#999" stroke-width="0.9" />
<line x1="507.26" y1="78.7" x2="507.66" y2="127.97" stroke="#aaa" stroke-width="0.9" />
<line x1="507.66" y1="127.97" x2="508.06" y2="70.79" stroke="#999" stroke-width="0.9" />
<line x1="509.86" y1="95.47" x2="510.46" y2="36.44" stroke="#888" stroke-width="0.9" />
<line x1="510.46" y1="36.44" x2="510.91" y2="82.93" stroke="#555" stroke-width="0.9" />
<line x1="510.91" y1="82.93" x2="511.31" y2="123.61" stroke="#444" stroke-width="0.9" />
<line x1="511.31" y1="123.61" x2="511.66" y2="152.66" stroke="#555" stroke-width="0.9" />
<line x1="511.66" y1="152.66" x2="512.26" y2="73.89" stroke="#aaa" stroke-width="0.9" />
<line x1="513.16" y1="54.22" x2="513.56" y2="78.7" stroke="#222" stroke-width="0.9" />
<line x1="513.56" y1="78.7" x2="513.96" y2="113.32" stroke="#666" stroke-width="0.9" />
<line x1="513.96" y1="113.32" x2="514.36" y2="61.13" stroke="#888" stroke-width="0.9" />
<line x1="516.3" y1="84.03" x2="516.9" y2="33.46" stroke="#666" stroke-width="0.9" />
<line x1="516.9" y1="33.46" x2="517.35" y2="79.63" stroke="#888" stroke-width="0.9" />
<line x1="517.35" y1="79.63" x2="517.75" y2="120.03" stroke="#333" stroke-width="0.9" />
<line x1="517.75" y1="120.03" x2="518.1" y2="148.88" stroke="#333" stroke-width="0.9" />
<line x1="518.1" y1="148.88" x2="518.7" y2="80.05" stroke="#aaa" stroke-width="0.9" />
<line x1="519.6" y1="61.85" x2="520" y2="78.7" stroke="#999" stroke-width="0.9" />
<line x1="520" y1="78.7" x2="520.4" y2="128.23" stroke="#999" stroke-width="0.9" />
<line x1="520.4" y1="128.23" x2="520.8" y2="62.62" stroke="#666" stroke-width="0.9" />
<line x1="522.49" y1="83.1" x2="523.09" y2="34.51" stroke="#999" stroke-width="0.9" />
<line x1="523.09" y1="34.51" x2="523.54" y2="82.87" stroke="#aaa" stroke-width="0.9" />
<line x1="523.54" y1="82.87" x2="523.94" y2="125.19" stroke="#555" stroke-width="0.9" />
<line x1="523.94" y1="125.19" x2="524.29" y2="155.42" stroke="#777" stroke-width="0.9" />
<line x1="524.29" y1="155.42" x2="524.89" y2="79.53" stroke="#999" stroke-width="0.9" />
<line x1="525.79" y1="51.04" x2="526.19" y2="78.7" stroke="#888" stroke-width="0.9" />
<line x1="526.19" y1="78.7" x2="526.59" y2="107.44" stroke="#999" stroke-width="0.9" />
<line x1="526.59" y1="107.44" x2="526.99" y2="62.68" stroke="#777" stroke-width="0.9" />
<line x1="528.98" y1="92.52" x2="529.58" y2="35.03" stroke="#666" stroke-width="0.9" />
<line x1="529.58" y1="35.03" x2="530.03" y2="86.23" stroke="#777" stroke-width="0.9" />
<line x1="530.03" y1="86.23" x2="530.43" y2="131.02" stroke="#555" stroke-width="0.9" />
<line x1="530.43" y1="131.02" x2="530.78" y2="163.02" stroke="#333" stroke-width="0.9" />
<line x1="530.78" y1="163.02" x2="531.38" y2="80.72" stroke="#999" stroke-width="0.9" />
<line x1="532.28" y1="50.27" x2="532.68" y2="78.7" stroke="#888" stroke-width="0.9" />
<line x1="532.68" y1="78.7" x2="533.08" y2="124.76" stroke="#555" stroke-width="0.9" />
<line x1="533.08" y1="124.76" x2="533.48" y2="65.33" stroke="#999" stroke-width="0.9" />
<line x1="535.48" y1="87.8" x2="536.08" y2="34.56" stroke="#666" stroke-width="0.9" />
<line x1="536.08" y1="34.56" x2="536.53" y2="81.11" stroke="#222" stroke-width="0.9" />
<line x1="536.53" y1="81.11" x2="536.93" y2="121.84" stroke="#222" stroke-width="0.9" />
<line x1="536.93" y1="121.84" x2="537.28" y2="150.94" stroke="#333" stroke-width="0.9" />
<line x1="537.28" y1="150.94" x2="537.88" y2="77.32" stroke="#666" stroke-width="0.9" />
<line x1="538.78" y1="53.95" x2="539.18" y2="78.7" stroke="#777" stroke-width="0.9" />
<line x1="539.18" y1="78.7" x2="539.58" y2="127.67" stroke="#666" stroke-width="0.9" />
<line x1="539.58" y1="127.67" x2="539.98" y2="56.41" stroke="#999" stroke-width="0.9" />
<line x1="542.02" y1="85.73" x2="542.62" y2="32.6" stroke="#666" stroke-width="0.9" />
<line x1="542.62" y1="32.6" x2="543.07" y2="80.83" stroke="#333" stroke-width="0.9" />
<line x1="543.07" y1="80.83" x2="543.47" y2="123.04" stroke="#333" stroke-width="0.9" />
<line x1="543.47" y1="123.04" x2="543.82" y2="153.19" stroke="#777" stroke-width="0.9" />
<line x1="543.82" y1="153.19" x2="544.42" y2="75.37" stroke="#777" stroke-width="0.9" />
<line x1="545.32" y1="61.1" x2="545.72" y2="78.7" stroke="#333" stroke-width="0.9" />
<line x1="545.72" y1="78.7" x2="546.12" y2="123.7" stroke="#666" stroke-width="0.9" />
<line x1="546.12" y1="123.7" x2="546.52" y2="63.87" stroke="#666" stroke-width="0.9" />
<line x1="548.1" y1="92.99" x2="548.7" y2="33.77" stroke="#aaa" stroke-width="0.9" />
<line x1="548.7" y1="33.77" x2="549.15" y2="79.24" stroke="#aaa" stroke-width="0.9" />
<line x1="549.15" y1="79.24" x2="549.55" y2="119.03" stroke="#111" stroke-width="0.9" />
<line x1="549.55" y1="119.03" x2="549.9" y2="147.44" stroke="#777" stroke-width="0.9" />
<line x1="549.9" y1="147.44" x2="550.5" y2="85.67" stroke="#aaa" stroke-width="0.9" />
<line x1="551.4" y1="61.82" x2="551.8" y2="78.7" stroke="#666" stroke-width="0.9" />
<line x1="551.8" y1="78.7" x2="552.2" y2="117.59" stroke="#555" stroke-width="0.9" />
<line x1="552.2" y1="117.59" x2="552.6" y2="64.31" stroke="#999" stroke-width="0.9" />
<line x1="554.42" y1="95.8" x2="555.02" y2="33.8" stroke="#888" stroke-width="0.9" />
<line x1="555.02" y1="33.8" x2="555.47" y2="78.52" stroke="#333" stroke-width="0.9" />
<line x1="555.47" y1="78.52" x2="555.87" y2="117.65" stroke="#555" stroke-width="0.9" />
<line x1="555.87" y1="117.65" x2="556.22" y2="145.6" stroke="#777" stroke-width="0.9" />
<line x1="556.22" y1="145.6" x2="556.82" y2="80.13" stroke="#888" stroke-width="0.9" />
<line x1="557.72" y1="50.27" x2="558.12" y2="78.7" stroke="#aaa" stroke-width="0.9" />
<line x1="558.12" y1="78.7" x2="558.52" y2="114.54" stroke="#777" stroke-width="0.9" />
<line x1="558.52" y1="114.54" x2="558.92" y2="71" stroke="#aaa" stroke-width="0.9" />
<line x1="560.65" y1="79.19" x2="561.25" y2="32.66" stroke="#777" stroke-width="0.9" />
<line x1="561.25" y1="32.66" x2="561.7" y2="80.59" stroke="#666" stroke-width="0.9" />
<line x1="561.7" y1="80.59" x2="562.1" y2="122.53" stroke="#444" stroke-width="0.9" />
<line x1="562.1" y1="122.53" x2="562.45" y2="152.49" stroke="#777" stroke-width="0.9" />
<line x1="562.45" y1="152.49" x2="563.05" y2="85.86" stroke="#777" stroke-width="0.9" />
<line x1="563.95" y1="53.21" x2="564.35" y2="78.7" stroke="#222" stroke-width="0.9" />
<line x1="564.35" y1="78.7" x2="564.75" y2="112.06" stroke="#aaa" stroke-width="0.9" />
<line x1="564.75" y1="112.06" x2="565.15" y2="62.97" stroke="#666" stroke-width="0.9" />
<line x1="566.82" y1="90.81" x2="567.42" y2="34.76" stroke="#999" stroke-width="0.9" />
<line x1="567.42" y1="34.76" x2="567.87" y2="81.11" stroke="#888" stroke-width="0.9" />
<line x1="567.87" y1="81.11" x2="568.27" y2="121.66" stroke="#333" stroke-width="0.9" />
<line x1="568.27" y1="121.66" x2="568.62" y2="150.63" stroke="#111" stroke-width="0.9" />
<line x1="568.62" y1="150.63" x2="569.22" y2="77.78" stroke="#666" stroke-width="0.9" />
<line x1="570.12" y1="55.75" x2="570.52" y2="78.7" stroke="#333" stroke-width="0.9" />
<line x1="570.52" y1="78.7" x2="570.92" y2="118.76" stroke="#999" stroke-width="0.9" />
<line x1="570.92" y1="118.76" x2="571.32" y2="62.71" stroke="#777" stroke-width="0.9" />
<line x1="573.3" y1="88.79" x2="573.9" y2="37.49" stroke="#777" stroke-width="0.9" />
<line x1="573.9" y1="37.49" x2="574.35" y2="80.75" stroke="#333" stroke-width="0.9" />
<line x1="574.35" y1="80.75" x2="574.75" y2="118.6" stroke="#555" stroke-width="0.9" />
<line x1="574.75" y1="118.6" x2="575.1" y2="145.63" stroke="#444" stroke-width="0.9" />
<line x1="575.1" y1="145.63" x2="575.7" y2="86.55" stroke="#777" stroke-width="0.9" />
<line x1="576.6" y1="59.51" x2="577" y2="78.7" stroke="#666" stroke-width="0.9" />
<line x1="577" y1="78.7" x2="577.4" y2="105.22" stroke="#999" stroke-width="0.9" />
<line x1="577.4" y1="105.22" x2="577.8" y2="68.72" stroke="#888" stroke-width="0.9" />
<line x1="579.72" y1="81.64" x2="580.32" y2="32.84" stroke="#aaa" stroke-width="0.9" />
<line x1="580.32" y1="32.84" x2="580.77" y2="80.04" stroke="#111" stroke-width="0.9" />
<line x1="580.77" y1="80.04" x2="581.17" y2="121.35" stroke="#555" stroke-width="0.9" />
<line x1="581.17" y1="121.35" x2="581.52" y2="150.85" stroke="#555" stroke-width="0.9" />
<line x1="581.52" y1="150.85" x2="582.12" y2="89.32" stroke="#777" stroke-width="0.9" />
<line x1="583.02" y1="57.93" x2="583.42" y2="78.7" stroke="#111" stroke-width="0.9" />
<line x1="583.42" y1="78.7" x2="583.82" y2="125.89" stroke="#777" stroke-width="0.9" />
<line x1="583.82" y1="125.89" x2="584.22" y2="72.2" stroke="#666" stroke-width="0.9" />
<line x1="586.1" y1="91.63" x2="586.7" y2="31.99" stroke="#999" stroke-width="0.9" />
<line x1="586.7" y1="31.99" x2="587.15" y2="78.54" stroke="#888" stroke-width="0.9" />
<line x1="587.15" y1="78.54" x2="587.55" y2="119.27" stroke="#333" stroke-width="0.9" />
<line x1="587.55" y1="119.27" x2="587.9" y2="148.36" stroke="#555" stroke-width="0.9" />
<line x1="587.9" y1="148.36" x2="588.5" y2="75.29" stroke="#888" stroke-width="0.9" />
<line x1="589.4" y1="56.89" x2="589.8" y2="78.7" stroke="#333" stroke-width="0.9" />
<line x1="589.8" y1="78.7" x2="590.2" y2="125.83" stroke="#555" stroke-width="0.9" />
<line x1="590.2" y1="125.83" x2="590.6" y2="73.06" stroke="#888" stroke-width="0.9" />
<line x1="592.39" y1="87.59" x2="592.99" y2="32.43" stroke="#666" stroke-width="0.9" />
<line x1="592.99" y1="32.43" x2="593.44" y2="79.64" stroke="#555" stroke-width="0.9" />
<line x1="593.44" y1="79.64" x2="593.84" y2="120.95" stroke="#222" stroke-width="0.9" />
<line x1="593.84" y1="120.95" x2="594.19" y2="150.46" stroke="#333" stroke-width="0.9" />
<line x1="594.19" y1="150.46" x2="594.79" y2="80.25" stroke="#666" stroke-width="0.9" />
<line x1="595.69" y1="56.65" x2="596.09" y2="78.7" stroke="#666" stroke-width="0.9" />
<line x1="596.09" y1="78.7" x2="596.49" y2="127.5" stroke="#888" stroke-width="0.9" />
<line x1="596.49" y1="127.5" x2="596.89" y2="57.61" stroke="#666" stroke-width="0.9" />
<line x1="598.88" y1="96.2" x2="599.48" y2="34.99" stroke="#666" stroke-width="0.9" />
<line x1="599.48" y1="34.99" x2="599.93" y2="79.1" stroke="#666" stroke-width="0.9" />
<line x1="599.93" y1="79.1" x2="600.33" y2="117.69" stroke="#333" stroke-width="0.9" />
<line x1="600.33" y1="117.69" x2="600.68" y2="145.26" stroke="#444" stroke-width="0.9" />
<line x1="600.68" y1="145.26" x2="601.28" y2="80.2" stroke="#777" stroke-width="0.9" />
<line x1="602.18" y1="63.32" x2="602.58" y2="78.7" stroke="#aaa" stroke-width="0.9" />
<line x1="602.58" y1="78.7" x2="602.98" y2="110.57" stroke="#777" stroke-width="0.9" />
<line x1="602.98" y1="110.57" x2="603.38" y2="63.2" stroke="#aaa" stroke-width="0.9" />
<line x1="605.27" y1="92.35" x2="605.87" y2="31.75" stroke="#999" stroke-width="0.9" />
<line x1="605.87" y1="31.75" x2="606.32" y2="79.69" stroke="#666" stroke-width="0.9" />
<line x1="606.32" y1="79.69" x2="606.72" y2="121.64" stroke="#333" stroke-width="0.9" />
<line x1="606.72" y1="121.64" x2="607.07" y2="151.61" stroke="#111" stroke-width="0.9" />
<line x1="607.07" y1="151.61" x2="607.67" y2="79.05" stroke="#999" stroke-width="0.9" />
<line x1="608.57" y1="61.39" x2="608.97" y2="78.7" stroke="#444" stroke-width="0.9" />
<line x1="608.97" y1="78.7" x2="609.37" y2="122.33" stroke="#666" stroke-width="0.9" />
<line x1="609.37" y1="122.33" x2="609.77" y2="63.41" stroke="#999" stroke-width="0.9" />
<line x1="611.52" y1="89.55" x2="612.12" y2="36.28" stroke="#666" stroke-width="0.9" />
<line x1="612.12" y1="36.28" x2="612.57" y2="81.99" stroke="#777" stroke-width="0.9" />
<line x1="612.57" y1="81.99" x2="612.97" y2="121.98" stroke="#222" stroke-width="0.9" />
<line x1="612.97" y1="121.98" x2="613.32" y2="150.54" stroke="#111" stroke-width="0.9" />
<line x1="613.32" y1="150.54" x2="613.92" y2="92.92" stroke="#aaa" stroke-width="0.9" />
<line x1="614.82" y1="55.41" x2="615.22" y2="78.7" stroke="#222" stroke-width="0.9" />
<line x1="615.22" y1="78.7" x2="615.62" y2="105" stroke="#777" stroke-width="0.9" />
<line x1="615.62" y1="105" x2="616.02" y2="58.39" stroke="#999" stroke-width="0.9" />
<line x1="617.93" y1="85.76" x2="618.53" y2="34.99" stroke="#999" stroke-width="0.9" />
<line x1="618.53" y1="34.99" x2="618.98" y2="80.25" stroke="#777" stroke-width="0.9" />
<line x1="618.98" y1="80.25" x2="619.38" y2="119.84" stroke="#111" stroke-width="0.9" />
<line x1="619.38" y1="119.84" x2="619.73" y2="148.13" stroke="#111" stroke-width="0.9" />
<line x1="619.73" y1="148.13" x2="620.33" y2="88.51" stroke="#999" stroke-width="0.9" />
<line x1="621.23" y1="57.19" x2="621.63" y2="78.7" stroke="#111" stroke-width="0.9" />
<line x1="621.63" y1="78.7" x2="622.03" y2="112.42" stroke="#777" stroke-width="0.9" />
<line x1="622.03" y1="112.42" x2="622.43" y2="72.66" stroke="#aaa" stroke-width="0.9" />
<line x1="624.03" y1="80.15" x2="624.63" y2="36.82" stroke="#666" stroke-width="0.9" />
<line x1="624.63" y1="36.82" x2="625.08" y2="83.3" stroke="#222" stroke-width="0.9" />
<rect x="378.9" y="4.3" width="246.9" height="203.8" fill="none" stroke="#5a5a5a" stroke-width="1"/>
<line x1="378.9" y1="4.3" x2="382.1" y2="4.3" stroke="#383838" stroke-width="1" />
<line x1="378.9" y1="29.1" x2="382.1" y2="29.1" stroke="#383838" stroke-width="1" />
<line x1="378.9" y1="53.9" x2="382.1" y2="53.9" stroke="#383838" stroke-width="1" />
<line x1="378.9" y1="78.7" x2="382.1" y2="78.7" stroke="#383838" stroke-width="1" />
<line x1="378.9" y1="103.5" x2="382.1" y2="103.5" stroke="#383838" stroke-width="1" />
<line x1="378.9" y1="128.3" x2="382.1" y2="128.3" stroke="#383838" stroke-width="1" />
<line x1="378.9" y1="153.1" x2="382.1" y2="153.1" stroke="#383838" stroke-width="1" />
<line x1="378.9" y1="177.9" x2="382.1" y2="177.9" stroke="#383838" stroke-width="1" />
<line x1="378.9" y1="202.7" x2="382.1" y2="202.7" stroke="#383838" stroke-width="1" />
<line x1="378.9" y1="16.7" x2="380.8" y2="16.7" stroke="#383838" stroke-width="1" />
<line x1="378.9" y1="41.5" x2="380.8" y2="41.5" stroke="#383838" stroke-width="1" />
<line x1="378.9" y1="66.3" x2="380.8" y2="66.3" stroke="#383838" stroke-width="1" />
<line x1="378.9" y1="91.1" x2="380.8" y2="91.1" stroke="#383838" stroke-width="1" />
<line x1="378.9" y1="115.9" x2="380.8" y2="115.9" stroke="#383838" stroke-width="1" />
<line x1="378.9" y1="140.7" x2="380.8" y2="140.7" stroke="#383838" stroke-width="1" />
<line x1="378.9" y1="165.5" x2="380.8" y2="165.5" stroke="#383838" stroke-width="1" />
<line x1="378.9" y1="190.3" x2="380.8" y2="190.3" stroke="#383838" stroke-width="1" />
<text x="375.2" y="7.81" font-size="9.8" text-anchor="end" fill="#1a1a1a" >1.5</text>
<text x="375.2" y="32.61" font-size="9.8" text-anchor="end" fill="#1a1a1a" >1.0</text>
<text x="375.2" y="57.41" font-size="9.8" text-anchor="end" fill="#1a1a1a" >0.5</text>
<text x="375.2" y="82.21" font-size="9.8" text-anchor="end" fill="#1a1a1a" >0.0</text>
<text x="375.2" y="107.01" font-size="9.8" text-anchor="end" fill="#1a1a1a" >-0.5</text>
<text x="375.2" y="131.81" font-size="9.8" text-anchor="end" fill="#1a1a1a" >-1.0</text>
<text x="375.2" y="156.61" font-size="9.8" text-anchor="end" fill="#1a1a1a" >-1.5</text>
<text x="375.2" y="181.41" font-size="9.8" text-anchor="end" fill="#1a1a1a" >-2.0</text>
<text x="375.2" y="206.21" font-size="9.8" text-anchor="end" fill="#1a1a1a" >-2.5</text>
<line x1="385" y1="208.1" x2="385" y2="204.9" stroke="#383838" stroke-width="1" />
<line x1="409.08" y1="208.1" x2="409.08" y2="204.9" stroke="#383838" stroke-width="1" />
<line x1="433.16" y1="208.1" x2="433.16" y2="204.9" stroke="#383838" stroke-width="1" />
<line x1="457.24" y1="208.1" x2="457.24" y2="204.9" stroke="#383838" stroke-width="1" />
<line x1="481.32" y1="208.1" x2="481.32" y2="204.9" stroke="#383838" stroke-width="1" />
<line x1="505.4" y1="208.1" x2="505.4" y2="204.9" stroke="#383838" stroke-width="1" />
<line x1="529.48" y1="208.1" x2="529.48" y2="204.9" stroke="#383838" stroke-width="1" />
<line x1="553.56" y1="208.1" x2="553.56" y2="204.9" stroke="#383838" stroke-width="1" />
<line x1="577.64" y1="208.1" x2="577.64" y2="204.9" stroke="#383838" stroke-width="1" />
<line x1="601.72" y1="208.1" x2="601.72" y2="204.9" stroke="#383838" stroke-width="1" />
<line x1="625.8" y1="208.1" x2="625.8" y2="204.9" stroke="#383838" stroke-width="1" />
<line x1="397.04" y1="208.1" x2="397.04" y2="206.2" stroke="#383838" stroke-width="1" />
<line x1="421.12" y1="208.1" x2="421.12" y2="206.2" stroke="#383838" stroke-width="1" />
<line x1="445.2" y1="208.1" x2="445.2" y2="206.2" stroke="#383838" stroke-width="1" />
<line x1="469.28" y1="208.1" x2="469.28" y2="206.2" stroke="#383838" stroke-width="1" />
<line x1="493.36" y1="208.1" x2="493.36" y2="206.2" stroke="#383838" stroke-width="1" />
<line x1="517.44" y1="208.1" x2="517.44" y2="206.2" stroke="#383838" stroke-width="1" />
<line x1="541.52" y1="208.1" x2="541.52" y2="206.2" stroke="#383838" stroke-width="1" />
<line x1="565.6" y1="208.1" x2="565.6" y2="206.2" stroke="#383838" stroke-width="1" />
<line x1="589.68" y1="208.1" x2="589.68" y2="206.2" stroke="#383838" stroke-width="1" />
<line x1="613.76" y1="208.1" x2="613.76" y2="206.2" stroke="#383838" stroke-width="1" />
<text x="385" y="219.7" font-size="10" text-anchor="middle" fill="#1a1a1a" >0</text>
<text x="409.08" y="219.7" font-size="10" text-anchor="middle" fill="#1a1a1a" >2</text>
<text x="433.16" y="219.7" font-size="10" text-anchor="middle" fill="#1a1a1a" >4</text>
<text x="457.24" y="219.7" font-size="10" text-anchor="middle" fill="#1a1a1a" >6</text>
<text x="481.32" y="219.7" font-size="10" text-anchor="middle" fill="#1a1a1a" >8</text>
<text x="505.4" y="219.7" font-size="10" text-anchor="middle" fill="#1a1a1a" >10</text>
<text x="529.48" y="219.7" font-size="10" text-anchor="middle" fill="#1a1a1a" >12</text>
<text x="553.56" y="219.7" font-size="10" text-anchor="middle" fill="#1a1a1a" >14</text>
<text x="577.64" y="219.7" font-size="10" text-anchor="middle" fill="#1a1a1a" >16</text>
<text x="601.72" y="219.7" font-size="10" text-anchor="middle" fill="#1a1a1a" >18</text>
<text x="625.8" y="219.7" font-size="10" text-anchor="middle" fill="#1a1a1a" >20</text>
<line x1="484" y1="17.6" x2="503.4" y2="17.6" stroke="#333" stroke-width="1" />
<text x="506.6" y="21.3" font-size="10.6" text-anchor="start" fill="#1a1a1a" >EF yarn 1+EF yarn 2</text>
<text x="488.8" y="227" font-size="10.8" text-anchor="start" fill="#1a1a1a" >Time (s)</text>
<text transform="translate(355.18 103.5) rotate(-90)" font-size="11" text-anchor="middle" fill="#1a1a1a">Voltage (V)</text>
<text x="352.4" y="11.5" font-size="12.2" text-anchor="start" fill="#1a1a1a" >b</text>
<text x="2.6" y="15.4" font-size="12" text-anchor="start" fill="#1a1a1a" >a</text>
<rect x="35.7" y="242.6" width="279.9" height="205.6" fill="none" stroke="#333" stroke-width="1.2"/>
<line x1="35.7" y1="441.6" x2="39.3" y2="441.6" stroke="#333" stroke-width="1.1" />
<line x1="35.7" y1="408.34" x2="39.3" y2="408.34" stroke="#333" stroke-width="1.1" />
<line x1="35.7" y1="375.08" x2="39.3" y2="375.08" stroke="#333" stroke-width="1.1" />
<line x1="35.7" y1="341.82" x2="39.3" y2="341.82" stroke="#333" stroke-width="1.1" />
<line x1="35.7" y1="308.56" x2="39.3" y2="308.56" stroke="#333" stroke-width="1.1" />
<line x1="35.7" y1="275.3" x2="39.3" y2="275.3" stroke="#333" stroke-width="1.1" />
<line x1="35.7" y1="242.04" x2="39.3" y2="242.04" stroke="#333" stroke-width="1.1" />
<line x1="35.7" y1="424.97" x2="37.7" y2="424.97" stroke="#333" stroke-width="1.1" />
<line x1="35.7" y1="391.71" x2="37.7" y2="391.71" stroke="#333" stroke-width="1.1" />
<line x1="35.7" y1="358.45" x2="37.7" y2="358.45" stroke="#333" stroke-width="1.1" />
<line x1="35.7" y1="325.19" x2="37.7" y2="325.19" stroke="#333" stroke-width="1.1" />
<line x1="35.7" y1="291.93" x2="37.7" y2="291.93" stroke="#333" stroke-width="1.1" />
<line x1="35.7" y1="258.67" x2="37.7" y2="258.67" stroke="#333" stroke-width="1.1" />
<text x="31.5" y="445.72" font-size="11.5" text-anchor="end" fill="#1a1a1a" >0.0</text>
<text x="31.5" y="412.46" font-size="11.5" text-anchor="end" fill="#1a1a1a" >0.1</text>
<text x="31.5" y="379.2" font-size="11.5" text-anchor="end" fill="#1a1a1a" >0.2</text>
<text x="31.5" y="345.94" font-size="11.5" text-anchor="end" fill="#1a1a1a" >0.3</text>
<text x="31.5" y="312.68" font-size="11.5" text-anchor="end" fill="#1a1a1a" >0.4</text>
<text x="31.5" y="279.42" font-size="11.5" text-anchor="end" fill="#1a1a1a" >0.5</text>
<text x="31.5" y="246.16" font-size="11.5" text-anchor="end" fill="#1a1a1a" >0.6</text>
<line x1="46.2" y1="448.2" x2="46.2" y2="444.6" stroke="#333" stroke-width="1.1" />
<line x1="67.78" y1="448.2" x2="67.78" y2="444.6" stroke="#333" stroke-width="1.1" />
<line x1="89.36" y1="448.2" x2="89.36" y2="444.6" stroke="#333" stroke-width="1.1" />
<line x1="110.94" y1="448.2" x2="110.94" y2="444.6" stroke="#333" stroke-width="1.1" />
<line x1="132.52" y1="448.2" x2="132.52" y2="444.6" stroke="#333" stroke-width="1.1" />
<line x1="154.1" y1="448.2" x2="154.1" y2="444.6" stroke="#333" stroke-width="1.1" />
<line x1="175.68" y1="448.2" x2="175.68" y2="444.6" stroke="#333" stroke-width="1.1" />
<line x1="197.26" y1="448.2" x2="197.26" y2="444.6" stroke="#333" stroke-width="1.1" />
<line x1="218.84" y1="448.2" x2="218.84" y2="444.6" stroke="#333" stroke-width="1.1" />
<line x1="240.42" y1="448.2" x2="240.42" y2="444.6" stroke="#333" stroke-width="1.1" />
<line x1="262" y1="448.2" x2="262" y2="444.6" stroke="#333" stroke-width="1.1" />
<line x1="283.58" y1="448.2" x2="283.58" y2="444.6" stroke="#333" stroke-width="1.1" />
<line x1="305.16" y1="448.2" x2="305.16" y2="444.6" stroke="#333" stroke-width="1.1" />
<line x1="56.99" y1="448.2" x2="56.99" y2="446.2" stroke="#333" stroke-width="1.1" />
<line x1="78.57" y1="448.2" x2="78.57" y2="446.2" stroke="#333" stroke-width="1.1" />
<line x1="100.15" y1="448.2" x2="100.15" y2="446.2" stroke="#333" stroke-width="1.1" />
<line x1="121.73" y1="448.2" x2="121.73" y2="446.2" stroke="#333" stroke-width="1.1" />
<line x1="143.31" y1="448.2" x2="143.31" y2="446.2" stroke="#333" stroke-width="1.1" />
<line x1="164.89" y1="448.2" x2="164.89" y2="446.2" stroke="#333" stroke-width="1.1" />
<line x1="186.47" y1="448.2" x2="186.47" y2="446.2" stroke="#333" stroke-width="1.1" />
<line x1="208.05" y1="448.2" x2="208.05" y2="446.2" stroke="#333" stroke-width="1.1" />
<line x1="229.63" y1="448.2" x2="229.63" y2="446.2" stroke="#333" stroke-width="1.1" />
<line x1="251.21" y1="448.2" x2="251.21" y2="446.2" stroke="#333" stroke-width="1.1" />
<line x1="272.79" y1="448.2" x2="272.79" y2="446.2" stroke="#333" stroke-width="1.1" />
<line x1="294.37" y1="448.2" x2="294.37" y2="446.2" stroke="#333" stroke-width="1.1" />
<text x="46.2" y="462" font-size="11.5" text-anchor="middle" fill="#1a1a1a" >0</text>
<text x="67.78" y="462" font-size="11.5" text-anchor="middle" fill="#1a1a1a" >1</text>
<text x="89.36" y="462" font-size="11.5" text-anchor="middle" fill="#1a1a1a" >2</text>
<text x="110.94" y="462" font-size="11.5" text-anchor="middle" fill="#1a1a1a" >3</text>
<text x="132.52" y="462" font-size="11.5" text-anchor="middle" fill="#1a1a1a" >4</text>
<text x="154.1" y="462" font-size="11.5" text-anchor="middle" fill="#1a1a1a" >5</text>
<text x="175.68" y="462" font-size="11.5" text-anchor="middle" fill="#1a1a1a" >6</text>
<text x="197.26" y="462" font-size="11.5" text-anchor="middle" fill="#1a1a1a" >7</text>
<text x="218.84" y="462" font-size="11.5" text-anchor="middle" fill="#1a1a1a" >8</text>
<text x="240.42" y="462" font-size="11.5" text-anchor="middle" fill="#1a1a1a" >9</text>
<text x="262" y="462" font-size="11.5" text-anchor="middle" fill="#1a1a1a" >10</text>
<text x="283.58" y="462" font-size="11.5" text-anchor="middle" fill="#1a1a1a" >11</text>
<text x="305.16" y="462" font-size="11.5" text-anchor="middle" fill="#1a1a1a" >12</text>
<text x="146" y="474.3" font-size="12.8" text-anchor="start" fill="#1a1a1a" >Time (min)</text>
<text transform="translate(13.65 337.8) rotate(-90)" font-size="13.2" text-anchor="middle" fill="#1a1a1a">Voltage(V)</text>
<text x="4" y="249.4" font-size="13" text-anchor="start" fill="#1a1a1a" >c</text>
<path d="M46.2 441.6 L56.99 422.97 L67.78 410 L78.57 400.03 L89.36 389.05 L100.15 378.74 L110.94 368.43 L121.73 359.28 L132.52 351.8 L143.31 345.15 L154.1 337.16 L164.89 330.51 L175.68 324.19 L186.47 316.54 L197.26 310.89 L208.05 306.23 L218.84 300.91 L229.63 296.25 L240.42 290.93 L251.21 286.28 L262 282.28 L272.79 277.3 L283.58 272.64 L294.37 267.98 L305.16 263.33" fill="none" stroke="#ff6a6a" stroke-width="0.8" />
<path d="M46.2 441.6 L56.99 423.81 L67.78 413.99 L78.57 404.02 L89.36 394.2 L100.15 386.22 L110.94 378.41 L121.73 370.42 L132.52 363.21 L143.31 356.02 L154.1 348.8 L164.89 342.49 L175.68 337.5 L186.47 331.51 L197.26 326.19 L208.05 320.53 L218.84 315.54 L229.63 310.89 L240.42 306.9 L251.21 302.57 L262 299.25 L272.79 296.25 L283.58 292.26 L294.37 289.93 L305.16 287.94" fill="none" stroke="#4a7fc4" stroke-width="0.8" stroke-dasharray="2 1.2"/>
<rect x="43.8" y="439.2" width="4.8" height="4.8" fill="#ff0000"/>
<rect x="54.59" y="420.57" width="4.8" height="4.8" fill="#ff0000"/>
<rect x="65.38" y="407.6" width="4.8" height="4.8" fill="#ff0000"/>
<rect x="76.17" y="397.63" width="4.8" height="4.8" fill="#ff0000"/>
<rect x="86.96" y="386.65" width="4.8" height="4.8" fill="#ff0000"/>
<rect x="97.75" y="376.34" width="4.8" height="4.8" fill="#ff0000"/>
<rect x="108.54" y="366.03" width="4.8" height="4.8" fill="#ff0000"/>
<rect x="119.33" y="356.88" width="4.8" height="4.8" fill="#ff0000"/>
<rect x="130.12" y="349.4" width="4.8" height="4.8" fill="#ff0000"/>
<rect x="140.91" y="342.75" width="4.8" height="4.8" fill="#ff0000"/>
<rect x="151.7" y="334.76" width="4.8" height="4.8" fill="#ff0000"/>
<rect x="162.49" y="328.11" width="4.8" height="4.8" fill="#ff0000"/>
<rect x="173.28" y="321.79" width="4.8" height="4.8" fill="#ff0000"/>
<rect x="184.07" y="314.14" width="4.8" height="4.8" fill="#ff0000"/>
<rect x="194.86" y="308.49" width="4.8" height="4.8" fill="#ff0000"/>
<rect x="205.65" y="303.83" width="4.8" height="4.8" fill="#ff0000"/>
<rect x="216.44" y="298.51" width="4.8" height="4.8" fill="#ff0000"/>
<rect x="227.23" y="293.85" width="4.8" height="4.8" fill="#ff0000"/>
<rect x="238.02" y="288.53" width="4.8" height="4.8" fill="#ff0000"/>
<rect x="248.81" y="283.88" width="4.8" height="4.8" fill="#ff0000"/>
<rect x="259.6" y="279.88" width="4.8" height="4.8" fill="#ff0000"/>
<rect x="270.39" y="274.9" width="4.8" height="4.8" fill="#ff0000"/>
<rect x="281.18" y="270.24" width="4.8" height="4.8" fill="#ff0000"/>
<rect x="291.97" y="265.58" width="4.8" height="4.8" fill="#ff0000"/>
<rect x="302.76" y="260.93" width="4.8" height="4.8" fill="#ff0000"/>
<circle cx="46.2" cy="441.6" r="2.4" fill="#2c62a8"/>
<circle cx="56.99" cy="423.81" r="2.4" fill="#2c62a8"/>
<circle cx="67.78" cy="413.99" r="2.4" fill="#2c62a8"/>
<circle cx="78.57" cy="404.02" r="2.4" fill="#2c62a8"/>
<circle cx="89.36" cy="394.2" r="2.4" fill="#2c62a8"/>
<circle cx="100.15" cy="386.22" r="2.4" fill="#2c62a8"/>
<circle cx="110.94" cy="378.41" r="2.4" fill="#2c62a8"/>
<circle cx="121.73" cy="370.42" r="2.4" fill="#2c62a8"/>
<circle cx="132.52" cy="363.21" r="2.4" fill="#2c62a8"/>
<circle cx="143.31" cy="356.02" r="2.4" fill="#2c62a8"/>
<circle cx="154.1" cy="348.8" r="2.4" fill="#2c62a8"/>
<circle cx="164.89" cy="342.49" r="2.4" fill="#2c62a8"/>
<circle cx="175.68" cy="337.5" r="2.4" fill="#2c62a8"/>
<circle cx="186.47" cy="331.51" r="2.4" fill="#2c62a8"/>
<circle cx="197.26" cy="326.19" r="2.4" fill="#2c62a8"/>
<circle cx="208.05" cy="320.53" r="2.4" fill="#2c62a8"/>
<circle cx="218.84" cy="315.54" r="2.4" fill="#2c62a8"/>
<circle cx="229.63" cy="310.89" r="2.4" fill="#2c62a8"/>
<circle cx="240.42" cy="306.9" r="2.4" fill="#2c62a8"/>
<circle cx="251.21" cy="302.57" r="2.4" fill="#2c62a8"/>
<circle cx="262" cy="299.25" r="2.4" fill="#2c62a8"/>
<circle cx="272.79" cy="296.25" r="2.4" fill="#2c62a8"/>
<circle cx="283.58" cy="292.26" r="2.4" fill="#2c62a8"/>
<circle cx="294.37" cy="289.93" r="2.4" fill="#2c62a8"/>
<circle cx="305.16" cy="287.94" r="2.4" fill="#2c62a8"/>
<line x1="44.9" y1="259.6" x2="68.9" y2="259.6" stroke="#ff6a6a" stroke-width="0.8" />
<rect x="54.4" y="257.4" width="4.6" height="4.6" fill="#ff0000"/>
<line x1="44.9" y1="275.4" x2="68.9" y2="275.4" stroke="#4a7fc4" stroke-width="0.8" />
<circle cx="56.5" cy="275.4" r="2.4" fill="#2c62a8"/>
<text x="71.2" y="263.6" font-size="12.6" text-anchor="start" fill="#1a1a1a" >EF yarn</text>
<text x="71.2" y="279.6" font-size="12.6" text-anchor="start" fill="#1a1a1a" >E yarn</text>
<path d="M208.7 326.3 H215 V335.7 H218 L211.8 341.6 L205.6 335.7 H208.7 Z" fill="#fff" stroke="#444" stroke-width="0.8"/>
<text x="211.9" y="334.3" font-size="7" text-anchor="middle" fill="#333">F</text>
<line x1="182.3" y1="348.2" x2="192" y2="348.2" stroke="#000" stroke-width="1.4" />
<line x1="230" y1="348.2" x2="239.3" y2="348.2" stroke="#000" stroke-width="1.4" />
<rect x="192" y="344" width="38" height="7.4" fill="#3f6fcf" stroke="#2f58a8" stroke-width="0.4"/>
<text x="239.3" y="346.5" font-size="7.4" text-anchor="start" fill="#111" >Energy</text>
<text x="239.3" y="355.8" font-size="7.4" text-anchor="start" fill="#111" >harvester</text>
<path d="M182.2 348.2 L182.2 412.3" fill="none" stroke="#2a2a2a" stroke-width="0.9" />
<path d="M210.5 351.4 L210.5 361.1 L239.5 361.1 L239.5 411.5" fill="none" stroke="#2a2a2a" stroke-width="0.9" />
<path d="M209.3 384.5 V377.1 H237.2 A2.2 2.2 0 0 1 241.6 377.1 H296" fill="none" stroke="#2a2a2a" stroke-width="0.9"/>
<path d="M209.3 384.5 L182.2 412.3 L211.4 439.5 L239.5 411.5 L209.3 384.5" fill="none" stroke="#2a2a2a" stroke-width="0.9" />
<path d="M211.4 439.5 L309.6 439.5 L309.6 376.5" fill="none" stroke="#2a2a2a" stroke-width="0.9" />
<path d="M195.36 390.34 L203.09 397.88 L192.8 400.7 Z" fill="#000"/>
<path d="M190.46 394.79 Q188.65 396.65 189.22 397.21 L196.38 404.19 Q196.95 404.75 195.14 406.61" fill="none" stroke="#111" stroke-width="0.8"/>
<path d="M217.15 398.6 L224.34 390.55 L227.6 400.7 Z" fill="#000"/>
<path d="M221.8 403.29 Q223.74 405.02 224.27 404.43 L230.93 396.97 Q231.46 396.38 233.4 398.11" fill="none" stroke="#111" stroke-width="0.8"/>
<path d="M189.49 426.69 L196.84 418.78 L199.9 429 Z" fill="#000"/>
<path d="M194.05 431.48 Q195.95 433.25 196.5 432.66 L203.31 425.34 Q203.85 424.75 205.75 426.52" fill="none" stroke="#111" stroke-width="0.8"/>
<path d="M225.7 418.68 L233.33 426.33 L223 429 Z" fill="#000"/>
<path d="M220.75 423.06 Q218.91 424.89 219.47 425.46 L226.53 432.54 Q227.09 433.11 225.25 434.94" fill="none" stroke="#111" stroke-width="0.8"/>
<text x="209.6" y="412.9" font-size="7.4" text-anchor="middle" fill="#333" >diodes</text>
<path d="M275.6 377.1 L275.6 408.2" fill="none" stroke="#2a2a2a" stroke-width="0.9" />
<path d="M275.6 413.9 L275.6 439.5" fill="none" stroke="#2a2a2a" stroke-width="0.9" />
<line x1="267.2" y1="408.4" x2="284.2" y2="408.4" stroke="#000" stroke-width="1.4" />
<line x1="267.2" y1="413.8" x2="284.2" y2="413.8" stroke="#000" stroke-width="1.4" />
<text x="276.6" y="422" font-size="7.4" text-anchor="start" fill="#111" >2.2 μf</text>
<text x="276.6" y="431.9" font-size="7.4" text-anchor="start" fill="#111" >capacitor</text>
<rect x="289.6" y="353.2" width="23.2" height="25" fill="#d3efcf" stroke="#8a8a8a" stroke-width="0.8"/>
<rect x="292" y="355.6" width="20.6" height="10" fill="#cdcdcd"/>
<path d="M293.9 365.4 Q302.8 358.6 311.7 365.4" fill="none" stroke="#555" stroke-width="0.7"/>
<line x1="303.2" y1="365.8" x2="307.5" y2="358" stroke="#555" stroke-width="0.7" />
<line x1="294.1" y1="370.7" x2="298.5" y2="370.7" stroke="#4a5a4a" stroke-width="0.8" />
<line x1="296.3" y1="368.5" x2="296.3" y2="372.9" stroke="#4a5a4a" stroke-width="0.8" />
<line x1="307.5" y1="370.7" x2="311.5" y2="370.7" stroke="#4a5a4a" stroke-width="0.8" />
<circle cx="295.8" cy="376.5" r="1.5" fill="#555"/>
<circle cx="309.4" cy="376.5" r="1.5" fill="#555"/>
<line x1="378.8" y1="239.5" x2="378.8" y2="452" stroke="#5a5a5a" stroke-width="1" />
<line x1="636" y1="239.5" x2="636" y2="452" stroke="#5a5a5a" stroke-width="1" />
<line x1="378.8" y1="239.5" x2="504.6" y2="239.5" stroke="#5a5a5a" stroke-width="1" />
<line x1="510.6" y1="239.5" x2="636" y2="239.5" stroke="#5a5a5a" stroke-width="1" />
<line x1="502.8" y1="243.3" x2="507.2" y2="235.7" stroke="#333" stroke-width="1" />
<line x1="507.4" y1="243.3" x2="511.8" y2="235.7" stroke="#333" stroke-width="1" />
<line x1="378.8" y1="452" x2="504.6" y2="452" stroke="#5a5a5a" stroke-width="1" />
<line x1="510.6" y1="452" x2="636" y2="452" stroke="#5a5a5a" stroke-width="1" />
<line x1="502.8" y1="455.8" x2="507.2" y2="448.2" stroke="#333" stroke-width="1" />
<line x1="507.4" y1="455.8" x2="511.8" y2="448.2" stroke="#333" stroke-width="1" />
<line x1="378.8" y1="247.24" x2="382.2" y2="247.24" stroke="#383838" stroke-width="1" />
<line x1="378.8" y1="263.6" x2="382.2" y2="263.6" stroke="#383838" stroke-width="1" />
<line x1="378.8" y1="279.96" x2="382.2" y2="279.96" stroke="#383838" stroke-width="1" />
<line x1="378.8" y1="296.32" x2="382.2" y2="296.32" stroke="#383838" stroke-width="1" />
<line x1="378.8" y1="312.68" x2="382.2" y2="312.68" stroke="#383838" stroke-width="1" />
<line x1="378.8" y1="329.04" x2="382.2" y2="329.04" stroke="#383838" stroke-width="1" />
<line x1="378.8" y1="345.4" x2="382.2" y2="345.4" stroke="#383838" stroke-width="1" />
<line x1="378.8" y1="361.76" x2="382.2" y2="361.76" stroke="#383838" stroke-width="1" />
<line x1="378.8" y1="378.12" x2="382.2" y2="378.12" stroke="#383838" stroke-width="1" />
<line x1="378.8" y1="394.48" x2="382.2" y2="394.48" stroke="#383838" stroke-width="1" />
<line x1="378.8" y1="410.84" x2="382.2" y2="410.84" stroke="#383838" stroke-width="1" />
<line x1="378.8" y1="427.2" x2="382.2" y2="427.2" stroke="#383838" stroke-width="1" />
<line x1="378.8" y1="443.56" x2="382.2" y2="443.56" stroke="#383838" stroke-width="1" />
<line x1="378.8" y1="255.42" x2="380.8" y2="255.42" stroke="#383838" stroke-width="1" />
<line x1="378.8" y1="271.78" x2="380.8" y2="271.78" stroke="#383838" stroke-width="1" />
<line x1="378.8" y1="288.14" x2="380.8" y2="288.14" stroke="#383838" stroke-width="1" />
<line x1="378.8" y1="304.5" x2="380.8" y2="304.5" stroke="#383838" stroke-width="1" />
<line x1="378.8" y1="320.86" x2="380.8" y2="320.86" stroke="#383838" stroke-width="1" />
<line x1="378.8" y1="337.22" x2="380.8" y2="337.22" stroke="#383838" stroke-width="1" />
<line x1="378.8" y1="353.58" x2="380.8" y2="353.58" stroke="#383838" stroke-width="1" />
<line x1="378.8" y1="369.94" x2="380.8" y2="369.94" stroke="#383838" stroke-width="1" />
<line x1="378.8" y1="386.3" x2="380.8" y2="386.3" stroke="#383838" stroke-width="1" />
<line x1="378.8" y1="402.66" x2="380.8" y2="402.66" stroke="#383838" stroke-width="1" />
<line x1="378.8" y1="419.02" x2="380.8" y2="419.02" stroke="#383838" stroke-width="1" />
<line x1="378.8" y1="435.38" x2="380.8" y2="435.38" stroke="#383838" stroke-width="1" />
<text x="375" y="251.03" font-size="10.6" text-anchor="end" fill="#1a1a1a" >1.2</text>
<text x="375" y="267.39" font-size="10.6" text-anchor="end" fill="#1a1a1a" >1.0</text>
<text x="375" y="283.75" font-size="10.6" text-anchor="end" fill="#1a1a1a" >0.8</text>
<text x="375" y="300.11" font-size="10.6" text-anchor="end" fill="#1a1a1a" >0.6</text>
<text x="375" y="316.47" font-size="10.6" text-anchor="end" fill="#1a1a1a" >0.4</text>
<text x="375" y="332.83" font-size="10.6" text-anchor="end" fill="#1a1a1a" >0.2</text>
<text x="375" y="349.19" font-size="10.6" text-anchor="end" fill="#1a1a1a" >0.0</text>
<text x="375" y="365.55" font-size="10.6" text-anchor="end" fill="#1a1a1a" >-0.2</text>
<text x="375" y="381.91" font-size="10.6" text-anchor="end" fill="#1a1a1a" >-0.4</text>
<text x="375" y="398.27" font-size="10.6" text-anchor="end" fill="#1a1a1a" >-0.6</text>
<text x="375" y="414.63" font-size="10.6" text-anchor="end" fill="#1a1a1a" >-0.8</text>
<text x="375" y="430.99" font-size="10.6" text-anchor="end" fill="#1a1a1a" >-1.0</text>
<text x="375" y="447.35" font-size="10.6" text-anchor="end" fill="#1a1a1a" >-1.2</text>
<line x1="386" y1="452" x2="386" y2="448.6" stroke="#5a5a5a" stroke-width="1" />
<line x1="470.2" y1="452" x2="470.2" y2="448.6" stroke="#5a5a5a" stroke-width="1" />
<line x1="545.1" y1="452" x2="545.1" y2="448.6" stroke="#5a5a5a" stroke-width="1" />
<line x1="629.3" y1="452" x2="629.3" y2="448.6" stroke="#5a5a5a" stroke-width="1" />
<text x="351.2" y="250" font-size="12.8" text-anchor="start" fill="#1a1a1a" >d</text>
<text transform="translate(357.62 338) rotate(-90)" font-size="12.6" text-anchor="middle" fill="#1a1a1a">Voltage (V)</text>
<text x="442.6" y="466.3" font-size="11.2" text-anchor="middle" fill="#1a1a1a" >1 min</text>
<text x="593.3" y="465.5" font-size="11.2" text-anchor="middle" fill="#1a1a1a" >1 min</text>
<text x="503.3" y="467.7" font-size="11.4" text-anchor="middle" fill="#1a1a1a" >Time</text>
<text x="543.2" y="346.7" font-size="10" text-anchor="end" fill="#1a1a1a" >After 50k cycles</text>
<line x1="483.4" y1="356.6" x2="527.5" y2="356.6" stroke="#111" stroke-width="0.9" />
<path d="M526.6 355.0 L530.8 356.6 L526.6 358.2 Z" fill="#111"/>
<rect x="385.9" y="306.95" width="84.5" height="82.62" fill="#000"/>
<line x1="386.4" y1="306.95" x2="386.4" y2="305.47" stroke="#000" stroke-width="1" />
<line x1="386.4" y1="389.57" x2="386.4" y2="391.4" stroke="#000" stroke-width="1" />
<line x1="387.4" y1="306.95" x2="387.4" y2="303.93" stroke="#000" stroke-width="1" />
<line x1="387.4" y1="389.57" x2="387.4" y2="391.1" stroke="#000" stroke-width="1" />
<line x1="388.4" y1="306.95" x2="388.4" y2="305.29" stroke="#000" stroke-width="1" />
<line x1="388.4" y1="389.57" x2="388.4" y2="391.49" stroke="#000" stroke-width="1" />
<line x1="389.4" y1="306.95" x2="389.4" y2="306.35" stroke="#000" stroke-width="1" />
<line x1="389.4" y1="389.57" x2="389.4" y2="391.25" stroke="#000" stroke-width="1" />
<line x1="390.4" y1="306.95" x2="390.4" y2="304.89" stroke="#000" stroke-width="1" />
<line x1="390.4" y1="389.57" x2="390.4" y2="392.17" stroke="#000" stroke-width="1" />
<line x1="391.4" y1="306.95" x2="391.4" y2="306.65" stroke="#000" stroke-width="1" />
<line x1="391.4" y1="389.57" x2="391.4" y2="390.56" stroke="#000" stroke-width="1" />
<line x1="392.4" y1="306.95" x2="392.4" y2="306.66" stroke="#000" stroke-width="1" />
<line x1="392.4" y1="389.57" x2="392.4" y2="392.22" stroke="#000" stroke-width="1" />
<line x1="393.4" y1="306.95" x2="393.4" y2="304.69" stroke="#000" stroke-width="1" />
<line x1="393.4" y1="389.57" x2="393.4" y2="389.71" stroke="#000" stroke-width="1" />
<line x1="394.4" y1="306.95" x2="394.4" y2="303.74" stroke="#000" stroke-width="1" />
<line x1="394.4" y1="389.57" x2="394.4" y2="392.73" stroke="#000" stroke-width="1" />
<line x1="395.4" y1="306.95" x2="395.4" y2="304.81" stroke="#000" stroke-width="1" />
<line x1="395.4" y1="389.57" x2="395.4" y2="391.59" stroke="#000" stroke-width="1" />
<line x1="396.4" y1="306.95" x2="396.4" y2="306.44" stroke="#000" stroke-width="1" />
<line x1="396.4" y1="389.57" x2="396.4" y2="389.62" stroke="#000" stroke-width="1" />
<line x1="397.4" y1="306.95" x2="397.4" y2="305.23" stroke="#000" stroke-width="1" />
<line x1="397.4" y1="389.57" x2="397.4" y2="389.77" stroke="#000" stroke-width="1" />
<line x1="398.4" y1="306.95" x2="398.4" y2="306.33" stroke="#000" stroke-width="1" />
<line x1="398.4" y1="389.57" x2="398.4" y2="390.36" stroke="#000" stroke-width="1" />
<line x1="399.4" y1="306.95" x2="399.4" y2="306.86" stroke="#000" stroke-width="1" />
<line x1="399.4" y1="389.57" x2="399.4" y2="391.09" stroke="#000" stroke-width="1" />
<line x1="400.4" y1="306.95" x2="400.4" y2="305.51" stroke="#000" stroke-width="1" />
<line x1="400.4" y1="389.57" x2="400.4" y2="392.33" stroke="#000" stroke-width="1" />
<line x1="401.4" y1="306.95" x2="401.4" y2="305.26" stroke="#000" stroke-width="1" />
<line x1="401.4" y1="389.57" x2="401.4" y2="391.67" stroke="#000" stroke-width="1" />
<line x1="402.4" y1="306.95" x2="402.4" y2="305.32" stroke="#000" stroke-width="1" />
<line x1="402.4" y1="389.57" x2="402.4" y2="391.74" stroke="#000" stroke-width="1" />
<line x1="403.4" y1="306.95" x2="403.4" y2="305.46" stroke="#000" stroke-width="1" />
<line x1="403.4" y1="389.57" x2="403.4" y2="390.48" stroke="#000" stroke-width="1" />
<line x1="404.4" y1="306.95" x2="404.4" y2="303.69" stroke="#000" stroke-width="1" />
<line x1="404.4" y1="389.57" x2="404.4" y2="392.83" stroke="#000" stroke-width="1" />
<line x1="405.4" y1="306.95" x2="405.4" y2="304.2" stroke="#000" stroke-width="1" />
<line x1="405.4" y1="389.57" x2="405.4" y2="391.89" stroke="#000" stroke-width="1" />
<line x1="406.4" y1="306.95" x2="406.4" y2="305.92" stroke="#000" stroke-width="1" />
<line x1="406.4" y1="389.57" x2="406.4" y2="390.32" stroke="#000" stroke-width="1" />
<line x1="407.4" y1="306.95" x2="407.4" y2="306.01" stroke="#000" stroke-width="1" />
<line x1="407.4" y1="389.57" x2="407.4" y2="389.8" stroke="#000" stroke-width="1" />
<line x1="408.4" y1="306.95" x2="408.4" y2="304.45" stroke="#000" stroke-width="1" />
<line x1="408.4" y1="389.57" x2="408.4" y2="390.88" stroke="#000" stroke-width="1" />
<line x1="409.4" y1="306.95" x2="409.4" y2="304.18" stroke="#000" stroke-width="1" />
<line x1="409.4" y1="389.57" x2="409.4" y2="390.84" stroke="#000" stroke-width="1" />
<line x1="410.4" y1="306.95" x2="410.4" y2="303.82" stroke="#000" stroke-width="1" />
<line x1="410.4" y1="389.57" x2="410.4" y2="392.34" stroke="#000" stroke-width="1" />
<line x1="411.4" y1="306.95" x2="411.4" y2="306.95" stroke="#000" stroke-width="1" />
<line x1="411.4" y1="389.57" x2="411.4" y2="390.26" stroke="#000" stroke-width="1" />
<line x1="412.4" y1="306.95" x2="412.4" y2="303.98" stroke="#000" stroke-width="1" />
<line x1="412.4" y1="389.57" x2="412.4" y2="391.11" stroke="#000" stroke-width="1" />
<line x1="413.4" y1="306.95" x2="413.4" y2="303.75" stroke="#000" stroke-width="1" />
<line x1="413.4" y1="389.57" x2="413.4" y2="390.87" stroke="#000" stroke-width="1" />
<line x1="414.4" y1="306.95" x2="414.4" y2="306.72" stroke="#000" stroke-width="1" />
<line x1="414.4" y1="389.57" x2="414.4" y2="391.63" stroke="#000" stroke-width="1" />
<line x1="415.4" y1="306.95" x2="415.4" y2="304.41" stroke="#000" stroke-width="1" />
<line x1="415.4" y1="389.57" x2="415.4" y2="390.45" stroke="#000" stroke-width="1" />
<line x1="416.4" y1="306.95" x2="416.4" y2="306.67" stroke="#000" stroke-width="1" />
<line x1="416.4" y1="389.57" x2="416.4" y2="390.66" stroke="#000" stroke-width="1" />
<line x1="417.4" y1="306.95" x2="417.4" y2="303.8" stroke="#000" stroke-width="1" />
<line x1="417.4" y1="389.57" x2="417.4" y2="392.05" stroke="#000" stroke-width="1" />
<line x1="418.4" y1="306.95" x2="418.4" y2="306.57" stroke="#000" stroke-width="1" />
<line x1="418.4" y1="389.57" x2="418.4" y2="390.38" stroke="#000" stroke-width="1" />
<line x1="419.4" y1="306.95" x2="419.4" y2="306.62" stroke="#000" stroke-width="1" />
<line x1="419.4" y1="389.57" x2="419.4" y2="389.77" stroke="#000" stroke-width="1" />
<line x1="420.4" y1="306.95" x2="420.4" y2="304.35" stroke="#000" stroke-width="1" />
<line x1="420.4" y1="389.57" x2="420.4" y2="390.15" stroke="#000" stroke-width="1" />
<line x1="421.4" y1="306.95" x2="421.4" y2="305.12" stroke="#000" stroke-width="1" />
<line x1="421.4" y1="389.57" x2="421.4" y2="391.04" stroke="#000" stroke-width="1" />
<line x1="422.4" y1="306.95" x2="422.4" y2="306.33" stroke="#000" stroke-width="1" />
<line x1="422.4" y1="389.57" x2="422.4" y2="391.97" stroke="#000" stroke-width="1" />
<line x1="423.4" y1="306.95" x2="423.4" y2="306.53" stroke="#000" stroke-width="1" />
<line x1="423.4" y1="389.57" x2="423.4" y2="391.68" stroke="#000" stroke-width="1" />
<line x1="424.4" y1="306.95" x2="424.4" y2="306.57" stroke="#000" stroke-width="1" />
<line x1="424.4" y1="389.57" x2="424.4" y2="390.95" stroke="#000" stroke-width="1" />
<line x1="425.4" y1="306.95" x2="425.4" y2="306.26" stroke="#000" stroke-width="1" />
<line x1="425.4" y1="389.57" x2="425.4" y2="390.45" stroke="#000" stroke-width="1" />
<line x1="426.4" y1="306.95" x2="426.4" y2="303.78" stroke="#000" stroke-width="1" />
<line x1="426.4" y1="389.57" x2="426.4" y2="392.2" stroke="#000" stroke-width="1" />
<line x1="427.4" y1="306.95" x2="427.4" y2="305.96" stroke="#000" stroke-width="1" />
<line x1="427.4" y1="389.57" x2="427.4" y2="392.47" stroke="#000" stroke-width="1" />
<line x1="428.4" y1="306.95" x2="428.4" y2="306.26" stroke="#000" stroke-width="1" />
<line x1="428.4" y1="389.57" x2="428.4" y2="390.86" stroke="#000" stroke-width="1" />
<line x1="429.4" y1="306.95" x2="429.4" y2="304.16" stroke="#000" stroke-width="1" />
<line x1="429.4" y1="389.57" x2="429.4" y2="391.67" stroke="#000" stroke-width="1" />
<line x1="430.4" y1="306.95" x2="430.4" y2="306.63" stroke="#000" stroke-width="1" />
<line x1="430.4" y1="389.57" x2="430.4" y2="392.81" stroke="#000" stroke-width="1" />
<line x1="431.4" y1="306.95" x2="431.4" y2="306.26" stroke="#000" stroke-width="1" />
<line x1="431.4" y1="389.57" x2="431.4" y2="390.42" stroke="#000" stroke-width="1" />
<line x1="432.4" y1="306.95" x2="432.4" y2="304.43" stroke="#000" stroke-width="1" />
<line x1="432.4" y1="389.57" x2="432.4" y2="390.65" stroke="#000" stroke-width="1" />
<line x1="433.4" y1="306.95" x2="433.4" y2="305.98" stroke="#000" stroke-width="1" />
<line x1="433.4" y1="389.57" x2="433.4" y2="389.81" stroke="#000" stroke-width="1" />
<line x1="434.4" y1="306.95" x2="434.4" y2="306.66" stroke="#000" stroke-width="1" />
<line x1="434.4" y1="389.57" x2="434.4" y2="391.48" stroke="#000" stroke-width="1" />
<line x1="435.4" y1="306.95" x2="435.4" y2="306.16" stroke="#000" stroke-width="1" />
<line x1="435.4" y1="389.57" x2="435.4" y2="391.54" stroke="#000" stroke-width="1" />
<line x1="436.4" y1="306.95" x2="436.4" y2="305.74" stroke="#000" stroke-width="1" />
<line x1="436.4" y1="389.57" x2="436.4" y2="391.05" stroke="#000" stroke-width="1" />
<line x1="437.4" y1="306.95" x2="437.4" y2="303.82" stroke="#000" stroke-width="1" />
<line x1="437.4" y1="389.57" x2="437.4" y2="391.15" stroke="#000" stroke-width="1" />
<line x1="438.4" y1="306.95" x2="438.4" y2="305.07" stroke="#000" stroke-width="1" />
<line x1="438.4" y1="389.57" x2="438.4" y2="392.41" stroke="#000" stroke-width="1" />
<line x1="439.4" y1="306.95" x2="439.4" y2="306.36" stroke="#000" stroke-width="1" />
<line x1="439.4" y1="389.57" x2="439.4" y2="390.08" stroke="#000" stroke-width="1" />
<line x1="440.4" y1="306.95" x2="440.4" y2="303.98" stroke="#000" stroke-width="1" />
<line x1="440.4" y1="389.57" x2="440.4" y2="392.25" stroke="#000" stroke-width="1" />
<line x1="441.4" y1="306.95" x2="441.4" y2="306.14" stroke="#000" stroke-width="1" />
<line x1="441.4" y1="389.57" x2="441.4" y2="390.19" stroke="#000" stroke-width="1" />
<line x1="442.4" y1="306.95" x2="442.4" y2="304.53" stroke="#000" stroke-width="1" />
<line x1="442.4" y1="389.57" x2="442.4" y2="392.65" stroke="#000" stroke-width="1" />
<line x1="443.4" y1="306.95" x2="443.4" y2="306.31" stroke="#000" stroke-width="1" />
<line x1="443.4" y1="389.57" x2="443.4" y2="392.68" stroke="#000" stroke-width="1" />
<line x1="444.4" y1="306.95" x2="444.4" y2="304.07" stroke="#000" stroke-width="1" />
<line x1="444.4" y1="389.57" x2="444.4" y2="391.55" stroke="#000" stroke-width="1" />
<line x1="445.4" y1="306.95" x2="445.4" y2="305.57" stroke="#000" stroke-width="1" />
<line x1="445.4" y1="389.57" x2="445.4" y2="389.91" stroke="#000" stroke-width="1" />
<line x1="446.4" y1="306.95" x2="446.4" y2="306.83" stroke="#000" stroke-width="1" />
<line x1="446.4" y1="389.57" x2="446.4" y2="392.72" stroke="#000" stroke-width="1" />
<line x1="447.4" y1="306.95" x2="447.4" y2="306.17" stroke="#000" stroke-width="1" />
<line x1="447.4" y1="389.57" x2="447.4" y2="391.88" stroke="#000" stroke-width="1" />
<line x1="448.4" y1="306.95" x2="448.4" y2="306.11" stroke="#000" stroke-width="1" />
<line x1="448.4" y1="389.57" x2="448.4" y2="392.27" stroke="#000" stroke-width="1" />
<line x1="449.4" y1="306.95" x2="449.4" y2="305" stroke="#000" stroke-width="1" />
<line x1="449.4" y1="389.57" x2="449.4" y2="390.53" stroke="#000" stroke-width="1" />
<line x1="450.4" y1="306.95" x2="450.4" y2="306.38" stroke="#000" stroke-width="1" />
<line x1="450.4" y1="389.57" x2="450.4" y2="391.93" stroke="#000" stroke-width="1" />
<line x1="451.4" y1="306.95" x2="451.4" y2="306.73" stroke="#000" stroke-width="1" />
<line x1="451.4" y1="389.57" x2="451.4" y2="390.32" stroke="#000" stroke-width="1" />
<line x1="452.4" y1="306.95" x2="452.4" y2="305.12" stroke="#000" stroke-width="1" />
<line x1="452.4" y1="389.57" x2="452.4" y2="392.36" stroke="#000" stroke-width="1" />
<line x1="453.4" y1="306.95" x2="453.4" y2="304.94" stroke="#000" stroke-width="1" />
<line x1="453.4" y1="389.57" x2="453.4" y2="390.49" stroke="#000" stroke-width="1" />
<line x1="454.4" y1="306.95" x2="454.4" y2="303.95" stroke="#000" stroke-width="1" />
<line x1="454.4" y1="389.57" x2="454.4" y2="390.24" stroke="#000" stroke-width="1" />
<line x1="455.4" y1="306.95" x2="455.4" y2="306.9" stroke="#000" stroke-width="1" />
<line x1="455.4" y1="389.57" x2="455.4" y2="390.45" stroke="#000" stroke-width="1" />
<line x1="456.4" y1="306.95" x2="456.4" y2="305.5" stroke="#000" stroke-width="1" />
<line x1="456.4" y1="389.57" x2="456.4" y2="389.77" stroke="#000" stroke-width="1" />
<line x1="457.4" y1="306.95" x2="457.4" y2="306.38" stroke="#000" stroke-width="1" />
<line x1="457.4" y1="389.57" x2="457.4" y2="390.78" stroke="#000" stroke-width="1" />
<line x1="458.4" y1="306.95" x2="458.4" y2="305.08" stroke="#000" stroke-width="1" />
<line x1="458.4" y1="389.57" x2="458.4" y2="390" stroke="#000" stroke-width="1" />
<line x1="459.4" y1="306.95" x2="459.4" y2="305.77" stroke="#000" stroke-width="1" />
<line x1="459.4" y1="389.57" x2="459.4" y2="392.49" stroke="#000" stroke-width="1" />
<line x1="460.4" y1="306.95" x2="460.4" y2="303.75" stroke="#000" stroke-width="1" />
<line x1="460.4" y1="389.57" x2="460.4" y2="391.72" stroke="#000" stroke-width="1" />
<line x1="461.4" y1="306.95" x2="461.4" y2="304.69" stroke="#000" stroke-width="1" />
<line x1="461.4" y1="389.57" x2="461.4" y2="391.48" stroke="#000" stroke-width="1" />
<line x1="462.4" y1="306.95" x2="462.4" y2="306.49" stroke="#000" stroke-width="1" />
<line x1="462.4" y1="389.57" x2="462.4" y2="389.69" stroke="#000" stroke-width="1" />
<line x1="463.4" y1="306.95" x2="463.4" y2="306.9" stroke="#000" stroke-width="1" />
<line x1="463.4" y1="389.57" x2="463.4" y2="392.55" stroke="#000" stroke-width="1" />
<line x1="464.4" y1="306.95" x2="464.4" y2="304.66" stroke="#000" stroke-width="1" />
<line x1="464.4" y1="389.57" x2="464.4" y2="392.72" stroke="#000" stroke-width="1" />
<line x1="465.4" y1="306.95" x2="465.4" y2="306.88" stroke="#000" stroke-width="1" />
<line x1="465.4" y1="389.57" x2="465.4" y2="391.65" stroke="#000" stroke-width="1" />
<line x1="466.4" y1="306.95" x2="466.4" y2="305.38" stroke="#000" stroke-width="1" />
<line x1="466.4" y1="389.57" x2="466.4" y2="391.96" stroke="#000" stroke-width="1" />
<line x1="467.4" y1="306.95" x2="467.4" y2="305.91" stroke="#000" stroke-width="1" />
<line x1="467.4" y1="389.57" x2="467.4" y2="392.84" stroke="#000" stroke-width="1" />
<line x1="468.4" y1="306.95" x2="468.4" y2="306.71" stroke="#000" stroke-width="1" />
<line x1="468.4" y1="389.57" x2="468.4" y2="391.36" stroke="#000" stroke-width="1" />
<line x1="469.4" y1="306.95" x2="469.4" y2="304.54" stroke="#000" stroke-width="1" />
<line x1="469.4" y1="389.57" x2="469.4" y2="392.52" stroke="#000" stroke-width="1" />
<line x1="387.4" y1="304.99" x2="387.4" y2="329.39" stroke="#444" stroke-width="1" />
<line x1="387.4" y1="393.47" x2="387.4" y2="365.59" stroke="#7a7a7a" stroke-width="1" />
<line x1="389.4" y1="306.42" x2="389.4" y2="316.45" stroke="#7a7a7a" stroke-width="1" />
<line x1="389.4" y1="393.6" x2="389.4" y2="362.41" stroke="#b5b5b5" stroke-width="1" />
<line x1="393.4" y1="306.86" x2="393.4" y2="323.55" stroke="#8c8c8c" stroke-width="1" />
<line x1="393.4" y1="390.66" x2="393.4" y2="372.59" stroke="#8c8c8c" stroke-width="1" />
<line x1="394.4" y1="308.15" x2="394.4" y2="315.32" stroke="#444" stroke-width="1" />
<line x1="394.4" y1="390.93" x2="394.4" y2="361.89" stroke="#a8a8a8" stroke-width="1" />
<line x1="395.4" y1="389.53" x2="395.4" y2="363.68" stroke="#a8a8a8" stroke-width="1" />
<line x1="397.4" y1="388.66" x2="397.4" y2="374.55" stroke="#666" stroke-width="1" />
<line x1="399.4" y1="387.95" x2="399.4" y2="367.66" stroke="#9a9a9a" stroke-width="1" />
<line x1="400.4" y1="392.07" x2="400.4" y2="362.65" stroke="#444" stroke-width="1" />
<line x1="402.4" y1="308.04" x2="402.4" y2="325.07" stroke="#7a7a7a" stroke-width="1" />
<line x1="403.4" y1="306.22" x2="403.4" y2="324.36" stroke="#b5b5b5" stroke-width="1" />
<line x1="403.4" y1="390.47" x2="403.4" y2="376.8" stroke="#555" stroke-width="1" />
<line x1="404.4" y1="305.5" x2="404.4" y2="331.23" stroke="#9a9a9a" stroke-width="1" />
<line x1="404.4" y1="391.76" x2="404.4" y2="363.91" stroke="#8c8c8c" stroke-width="1" />
<line x1="406.4" y1="392.68" x2="406.4" y2="366.36" stroke="#7a7a7a" stroke-width="1" />
<line x1="407.4" y1="305.59" x2="407.4" y2="323.96" stroke="#b5b5b5" stroke-width="1" />
<line x1="408.4" y1="308.98" x2="408.4" y2="330.39" stroke="#a8a8a8" stroke-width="1" />
<line x1="409.4" y1="306.34" x2="409.4" y2="330.02" stroke="#a8a8a8" stroke-width="1" />
<line x1="409.4" y1="390.53" x2="409.4" y2="363.98" stroke="#666" stroke-width="1" />
<line x1="410.4" y1="308.36" x2="410.4" y2="329.86" stroke="#8c8c8c" stroke-width="1" />
<line x1="411.4" y1="308.12" x2="411.4" y2="326.88" stroke="#666" stroke-width="1" />
<line x1="411.4" y1="387.39" x2="411.4" y2="370.31" stroke="#8c8c8c" stroke-width="1" />
<line x1="413.4" y1="388.73" x2="413.4" y2="359.56" stroke="#7a7a7a" stroke-width="1" />
<line x1="415.4" y1="392.17" x2="415.4" y2="358.57" stroke="#666" stroke-width="1" />
<line x1="417.4" y1="304.77" x2="417.4" y2="323.19" stroke="#444" stroke-width="1" />
<line x1="418.4" y1="393.24" x2="418.4" y2="365.82" stroke="#b5b5b5" stroke-width="1" />
<line x1="419.4" y1="307.88" x2="419.4" y2="321.37" stroke="#b5b5b5" stroke-width="1" />
<line x1="420.4" y1="304.65" x2="420.4" y2="323.71" stroke="#9a9a9a" stroke-width="1" />
<line x1="420.4" y1="390.14" x2="420.4" y2="374.96" stroke="#a8a8a8" stroke-width="1" />
<line x1="421.4" y1="306.77" x2="421.4" y2="315.85" stroke="#7a7a7a" stroke-width="1" />
<line x1="422.4" y1="309.08" x2="422.4" y2="323.95" stroke="#9a9a9a" stroke-width="1" />
<line x1="422.4" y1="389.1" x2="422.4" y2="367.63" stroke="#555" stroke-width="1" />
<line x1="423.4" y1="306.83" x2="423.4" y2="316.91" stroke="#444" stroke-width="1" />
<line x1="423.4" y1="393.93" x2="423.4" y2="374.65" stroke="#7a7a7a" stroke-width="1" />
<line x1="424.4" y1="308.29" x2="424.4" y2="326.37" stroke="#9a9a9a" stroke-width="1" />
<line x1="424.4" y1="388.92" x2="424.4" y2="367.1" stroke="#666" stroke-width="1" />
<line x1="426.4" y1="392.4" x2="426.4" y2="362.96" stroke="#b5b5b5" stroke-width="1" />
<line x1="428.4" y1="305.36" x2="428.4" y2="325.21" stroke="#555" stroke-width="1" />
<line x1="428.4" y1="391.02" x2="428.4" y2="359.89" stroke="#a8a8a8" stroke-width="1" />
<line x1="429.4" y1="304.98" x2="429.4" y2="320.3" stroke="#666" stroke-width="1" />
<line x1="429.4" y1="388.72" x2="429.4" y2="356.89" stroke="#a8a8a8" stroke-width="1" />
<line x1="430.4" y1="308.76" x2="430.4" y2="316.58" stroke="#a8a8a8" stroke-width="1" />
<line x1="430.4" y1="393.24" x2="430.4" y2="368.68" stroke="#555" stroke-width="1" />
<line x1="431.4" y1="308.94" x2="431.4" y2="324.46" stroke="#7a7a7a" stroke-width="1" />
<line x1="431.4" y1="387.97" x2="431.4" y2="366.96" stroke="#666" stroke-width="1" />
<line x1="432.4" y1="305.47" x2="432.4" y2="323.02" stroke="#a8a8a8" stroke-width="1" />
<line x1="432.4" y1="388.2" x2="432.4" y2="373.53" stroke="#444" stroke-width="1" />
<line x1="433.4" y1="304.55" x2="433.4" y2="330.3" stroke="#9a9a9a" stroke-width="1" />
<line x1="433.4" y1="388.11" x2="433.4" y2="363.38" stroke="#7a7a7a" stroke-width="1" />
<line x1="434.4" y1="390.26" x2="434.4" y2="370.05" stroke="#444" stroke-width="1" />
<line x1="435.4" y1="306.3" x2="435.4" y2="315.8" stroke="#7a7a7a" stroke-width="1" />
<line x1="435.4" y1="390.46" x2="435.4" y2="362.18" stroke="#555" stroke-width="1" />
<line x1="437.4" y1="390.89" x2="437.4" y2="376.99" stroke="#8c8c8c" stroke-width="1" />
<line x1="440.4" y1="306.93" x2="440.4" y2="331.21" stroke="#a8a8a8" stroke-width="1" />
<line x1="441.4" y1="305.75" x2="441.4" y2="327.86" stroke="#8c8c8c" stroke-width="1" />
<line x1="443.4" y1="305.09" x2="443.4" y2="326.5" stroke="#666" stroke-width="1" />
<line x1="444.4" y1="309.06" x2="444.4" y2="320.72" stroke="#9a9a9a" stroke-width="1" />
<line x1="444.4" y1="393.66" x2="444.4" y2="357.04" stroke="#7a7a7a" stroke-width="1" />
<line x1="445.4" y1="307.75" x2="445.4" y2="325.93" stroke="#b5b5b5" stroke-width="1" />
<line x1="445.4" y1="389.99" x2="445.4" y2="356.85" stroke="#8c8c8c" stroke-width="1" />
<line x1="447.4" y1="305.78" x2="447.4" y2="319.33" stroke="#8c8c8c" stroke-width="1" />
<line x1="447.4" y1="392.72" x2="447.4" y2="364.05" stroke="#7a7a7a" stroke-width="1" />
<line x1="448.4" y1="308.05" x2="448.4" y2="320.71" stroke="#b5b5b5" stroke-width="1" />
<line x1="448.4" y1="394.24" x2="448.4" y2="365.69" stroke="#555" stroke-width="1" />
<line x1="450.4" y1="307.51" x2="450.4" y2="330.49" stroke="#7a7a7a" stroke-width="1" />
<line x1="450.4" y1="393.42" x2="450.4" y2="366.22" stroke="#9a9a9a" stroke-width="1" />
<line x1="451.4" y1="307.34" x2="451.4" y2="323.75" stroke="#444" stroke-width="1" />
<line x1="451.4" y1="391.02" x2="451.4" y2="367.42" stroke="#666" stroke-width="1" />
<line x1="452.4" y1="306.15" x2="452.4" y2="327.37" stroke="#b5b5b5" stroke-width="1" />
<line x1="452.4" y1="391.43" x2="452.4" y2="364.36" stroke="#a8a8a8" stroke-width="1" />
<line x1="454.4" y1="392.63" x2="454.4" y2="376.28" stroke="#666" stroke-width="1" />
<line x1="455.4" y1="307.3" x2="455.4" y2="322.95" stroke="#a8a8a8" stroke-width="1" />
<line x1="456.4" y1="304.81" x2="456.4" y2="326.96" stroke="#8c8c8c" stroke-width="1" />
<line x1="456.4" y1="391.56" x2="456.4" y2="374.95" stroke="#a8a8a8" stroke-width="1" />
<line x1="458.4" y1="305.18" x2="458.4" y2="320.97" stroke="#a8a8a8" stroke-width="1" />
<line x1="458.4" y1="390.38" x2="458.4" y2="363.64" stroke="#666" stroke-width="1" />
<line x1="460.4" y1="307.62" x2="460.4" y2="327.3" stroke="#555" stroke-width="1" />
<line x1="462.4" y1="305.56" x2="462.4" y2="325.36" stroke="#b5b5b5" stroke-width="1" />
<line x1="462.4" y1="391.61" x2="462.4" y2="362.47" stroke="#b5b5b5" stroke-width="1" />
<line x1="464.4" y1="393.59" x2="464.4" y2="376.49" stroke="#a8a8a8" stroke-width="1" />
<line x1="465.4" y1="307.32" x2="465.4" y2="325.33" stroke="#b5b5b5" stroke-width="1" />
<line x1="465.4" y1="387.65" x2="465.4" y2="375.53" stroke="#b5b5b5" stroke-width="1" />
<line x1="466.4" y1="307.03" x2="466.4" y2="320.93" stroke="#666" stroke-width="1" />
<line x1="466.4" y1="392.6" x2="466.4" y2="360.15" stroke="#444" stroke-width="1" />
<line x1="467.4" y1="390.39" x2="467.4" y2="362.02" stroke="#a8a8a8" stroke-width="1" />
<line x1="469.4" y1="389.26" x2="469.4" y2="361.78" stroke="#666" stroke-width="1" />
<line x1="397.5" y1="306.95" x2="397.5" y2="300.41" stroke="#888" stroke-width="0.9" />
<line x1="405" y1="306.95" x2="405" y2="304.5" stroke="#666" stroke-width="0.9" />
<line x1="450" y1="306.95" x2="450" y2="304.5" stroke="#555" stroke-width="0.9" />
<line x1="387.2" y1="389.57" x2="387.2" y2="407.57" stroke="#666" stroke-width="0.9" />
<line x1="437" y1="389.57" x2="437" y2="399.39" stroke="#888" stroke-width="0.9" />
<line x1="443" y1="389.57" x2="443" y2="401.02" stroke="#666" stroke-width="0.9" />
<line x1="420" y1="389.57" x2="420" y2="396.12" stroke="#777" stroke-width="0.9" />
<rect x="545.1" y="306.95" width="84.5" height="80.16" fill="#000"/>
<line x1="545.6" y1="306.95" x2="545.6" y2="305.4" stroke="#000" stroke-width="1" />
<line x1="545.6" y1="387.12" x2="545.6" y2="389.27" stroke="#000" stroke-width="1" />
<line x1="546.6" y1="306.95" x2="546.6" y2="304.77" stroke="#000" stroke-width="1" />
<line x1="546.6" y1="387.12" x2="546.6" y2="387.58" stroke="#000" stroke-width="1" />
<line x1="547.6" y1="306.95" x2="547.6" y2="306.92" stroke="#000" stroke-width="1" />
<line x1="547.6" y1="387.12" x2="547.6" y2="388.34" stroke="#000" stroke-width="1" />
<line x1="548.6" y1="306.95" x2="548.6" y2="306.06" stroke="#000" stroke-width="1" />
<line x1="548.6" y1="387.12" x2="548.6" y2="389.77" stroke="#000" stroke-width="1" />
<line x1="549.6" y1="306.95" x2="549.6" y2="304.69" stroke="#000" stroke-width="1" />
<line x1="549.6" y1="387.12" x2="549.6" y2="389.09" stroke="#000" stroke-width="1" />
<line x1="550.6" y1="306.95" x2="550.6" y2="305.13" stroke="#000" stroke-width="1" />
<line x1="550.6" y1="387.12" x2="550.6" y2="389.28" stroke="#000" stroke-width="1" />
<line x1="551.6" y1="306.95" x2="551.6" y2="306.48" stroke="#000" stroke-width="1" />
<line x1="551.6" y1="387.12" x2="551.6" y2="388.56" stroke="#000" stroke-width="1" />
<line x1="552.6" y1="306.95" x2="552.6" y2="306.42" stroke="#000" stroke-width="1" />
<line x1="552.6" y1="387.12" x2="552.6" y2="390.08" stroke="#000" stroke-width="1" />
<line x1="553.6" y1="306.95" x2="553.6" y2="306.76" stroke="#000" stroke-width="1" />
<line x1="553.6" y1="387.12" x2="553.6" y2="389.8" stroke="#000" stroke-width="1" />
<line x1="554.6" y1="306.95" x2="554.6" y2="306.71" stroke="#000" stroke-width="1" />
<line x1="554.6" y1="387.12" x2="554.6" y2="389.37" stroke="#000" stroke-width="1" />
<line x1="555.6" y1="306.95" x2="555.6" y2="305.85" stroke="#000" stroke-width="1" />
<line x1="555.6" y1="387.12" x2="555.6" y2="388.44" stroke="#000" stroke-width="1" />
<line x1="556.6" y1="306.95" x2="556.6" y2="304.2" stroke="#000" stroke-width="1" />
<line x1="556.6" y1="387.12" x2="556.6" y2="387.18" stroke="#000" stroke-width="1" />
<line x1="557.6" y1="306.95" x2="557.6" y2="306.76" stroke="#000" stroke-width="1" />
<line x1="557.6" y1="387.12" x2="557.6" y2="390.11" stroke="#000" stroke-width="1" />
<line x1="558.6" y1="306.95" x2="558.6" y2="305.29" stroke="#000" stroke-width="1" />
<line x1="558.6" y1="387.12" x2="558.6" y2="387.42" stroke="#000" stroke-width="1" />
<line x1="559.6" y1="306.95" x2="559.6" y2="303.72" stroke="#000" stroke-width="1" />
<line x1="559.6" y1="387.12" x2="559.6" y2="390.22" stroke="#000" stroke-width="1" />
<line x1="560.6" y1="306.95" x2="560.6" y2="306.59" stroke="#000" stroke-width="1" />
<line x1="560.6" y1="387.12" x2="560.6" y2="388.5" stroke="#000" stroke-width="1" />
<line x1="561.6" y1="306.95" x2="561.6" y2="306.51" stroke="#000" stroke-width="1" />
<line x1="561.6" y1="387.12" x2="561.6" y2="388.14" stroke="#000" stroke-width="1" />
<line x1="562.6" y1="306.95" x2="562.6" y2="304.92" stroke="#000" stroke-width="1" />
<line x1="562.6" y1="387.12" x2="562.6" y2="387.65" stroke="#000" stroke-width="1" />
<line x1="563.6" y1="306.95" x2="563.6" y2="304.67" stroke="#000" stroke-width="1" />
<line x1="563.6" y1="387.12" x2="563.6" y2="387.29" stroke="#000" stroke-width="1" />
<line x1="564.6" y1="306.95" x2="564.6" y2="306.39" stroke="#000" stroke-width="1" />
<line x1="564.6" y1="387.12" x2="564.6" y2="389.79" stroke="#000" stroke-width="1" />
<line x1="565.6" y1="306.95" x2="565.6" y2="305.64" stroke="#000" stroke-width="1" />
<line x1="565.6" y1="387.12" x2="565.6" y2="388.49" stroke="#000" stroke-width="1" />
<line x1="566.6" y1="306.95" x2="566.6" y2="305" stroke="#000" stroke-width="1" />
<line x1="566.6" y1="387.12" x2="566.6" y2="388.68" stroke="#000" stroke-width="1" />
<line x1="567.6" y1="306.95" x2="567.6" y2="305.7" stroke="#000" stroke-width="1" />
<line x1="567.6" y1="387.12" x2="567.6" y2="387.22" stroke="#000" stroke-width="1" />
<line x1="568.6" y1="306.95" x2="568.6" y2="304.58" stroke="#000" stroke-width="1" />
<line x1="568.6" y1="387.12" x2="568.6" y2="390.28" stroke="#000" stroke-width="1" />
<line x1="569.6" y1="306.95" x2="569.6" y2="303.76" stroke="#000" stroke-width="1" />
<line x1="569.6" y1="387.12" x2="569.6" y2="389.29" stroke="#000" stroke-width="1" />
<line x1="570.6" y1="306.95" x2="570.6" y2="305.79" stroke="#000" stroke-width="1" />
<line x1="570.6" y1="387.12" x2="570.6" y2="388.31" stroke="#000" stroke-width="1" />
<line x1="571.6" y1="306.95" x2="571.6" y2="304.7" stroke="#000" stroke-width="1" />
<line x1="571.6" y1="387.12" x2="571.6" y2="389.32" stroke="#000" stroke-width="1" />
<line x1="572.6" y1="306.95" x2="572.6" y2="306.58" stroke="#000" stroke-width="1" />
<line x1="572.6" y1="387.12" x2="572.6" y2="387.89" stroke="#000" stroke-width="1" />
<line x1="573.6" y1="306.95" x2="573.6" y2="305.77" stroke="#000" stroke-width="1" />
<line x1="573.6" y1="387.12" x2="573.6" y2="388.79" stroke="#000" stroke-width="1" />
<line x1="574.6" y1="306.95" x2="574.6" y2="304.3" stroke="#000" stroke-width="1" />
<line x1="574.6" y1="387.12" x2="574.6" y2="388.75" stroke="#000" stroke-width="1" />
<line x1="575.6" y1="306.95" x2="575.6" y2="306.86" stroke="#000" stroke-width="1" />
<line x1="575.6" y1="387.12" x2="575.6" y2="389.81" stroke="#000" stroke-width="1" />
<line x1="576.6" y1="306.95" x2="576.6" y2="305.55" stroke="#000" stroke-width="1" />
<line x1="576.6" y1="387.12" x2="576.6" y2="388.82" stroke="#000" stroke-width="1" />
<line x1="577.6" y1="306.95" x2="577.6" y2="306.23" stroke="#000" stroke-width="1" />
<line x1="577.6" y1="387.12" x2="577.6" y2="388.52" stroke="#000" stroke-width="1" />
<line x1="578.6" y1="306.95" x2="578.6" y2="305.68" stroke="#000" stroke-width="1" />
<line x1="578.6" y1="387.12" x2="578.6" y2="389.64" stroke="#000" stroke-width="1" />
<line x1="579.6" y1="306.95" x2="579.6" y2="306.62" stroke="#000" stroke-width="1" />
<line x1="579.6" y1="387.12" x2="579.6" y2="388.92" stroke="#000" stroke-width="1" />
<line x1="580.6" y1="306.95" x2="580.6" y2="306.37" stroke="#000" stroke-width="1" />
<line x1="580.6" y1="387.12" x2="580.6" y2="389.39" stroke="#000" stroke-width="1" />
<line x1="581.6" y1="306.95" x2="581.6" y2="306.83" stroke="#000" stroke-width="1" />
<line x1="581.6" y1="387.12" x2="581.6" y2="388.02" stroke="#000" stroke-width="1" />
<line x1="582.6" y1="306.95" x2="582.6" y2="305.83" stroke="#000" stroke-width="1" />
<line x1="582.6" y1="387.12" x2="582.6" y2="389.2" stroke="#000" stroke-width="1" />
<line x1="583.6" y1="306.95" x2="583.6" y2="306.78" stroke="#000" stroke-width="1" />
<line x1="583.6" y1="387.12" x2="583.6" y2="388.62" stroke="#000" stroke-width="1" />
<line x1="584.6" y1="306.95" x2="584.6" y2="306.27" stroke="#000" stroke-width="1" />
<line x1="584.6" y1="387.12" x2="584.6" y2="388.04" stroke="#000" stroke-width="1" />
<line x1="585.6" y1="306.95" x2="585.6" y2="305.4" stroke="#000" stroke-width="1" />
<line x1="585.6" y1="387.12" x2="585.6" y2="390.26" stroke="#000" stroke-width="1" />
<line x1="586.6" y1="306.95" x2="586.6" y2="305.38" stroke="#000" stroke-width="1" />
<line x1="586.6" y1="387.12" x2="586.6" y2="390.25" stroke="#000" stroke-width="1" />
<line x1="587.6" y1="306.95" x2="587.6" y2="306.41" stroke="#000" stroke-width="1" />
<line x1="587.6" y1="387.12" x2="587.6" y2="390.14" stroke="#000" stroke-width="1" />
<line x1="588.6" y1="306.95" x2="588.6" y2="305.76" stroke="#000" stroke-width="1" />
<line x1="588.6" y1="387.12" x2="588.6" y2="387.74" stroke="#000" stroke-width="1" />
<line x1="589.6" y1="306.95" x2="589.6" y2="304.5" stroke="#000" stroke-width="1" />
<line x1="589.6" y1="387.12" x2="589.6" y2="390.1" stroke="#000" stroke-width="1" />
<line x1="590.6" y1="306.95" x2="590.6" y2="306.93" stroke="#000" stroke-width="1" />
<line x1="590.6" y1="387.12" x2="590.6" y2="388" stroke="#000" stroke-width="1" />
<line x1="591.6" y1="306.95" x2="591.6" y2="304.43" stroke="#000" stroke-width="1" />
<line x1="591.6" y1="387.12" x2="591.6" y2="388.24" stroke="#000" stroke-width="1" />
<line x1="592.6" y1="306.95" x2="592.6" y2="306.16" stroke="#000" stroke-width="1" />
<line x1="592.6" y1="387.12" x2="592.6" y2="387.15" stroke="#000" stroke-width="1" />
<line x1="593.6" y1="306.95" x2="593.6" y2="306.82" stroke="#000" stroke-width="1" />
<line x1="593.6" y1="387.12" x2="593.6" y2="389.14" stroke="#000" stroke-width="1" />
<line x1="594.6" y1="306.95" x2="594.6" y2="303.73" stroke="#000" stroke-width="1" />
<line x1="594.6" y1="387.12" x2="594.6" y2="390.39" stroke="#000" stroke-width="1" />
<line x1="595.6" y1="306.95" x2="595.6" y2="305.31" stroke="#000" stroke-width="1" />
<line x1="595.6" y1="387.12" x2="595.6" y2="387.2" stroke="#000" stroke-width="1" />
<line x1="596.6" y1="306.95" x2="596.6" y2="305.9" stroke="#000" stroke-width="1" />
<line x1="596.6" y1="387.12" x2="596.6" y2="389.69" stroke="#000" stroke-width="1" />
<line x1="597.6" y1="306.95" x2="597.6" y2="304.23" stroke="#000" stroke-width="1" />
<line x1="597.6" y1="387.12" x2="597.6" y2="389.21" stroke="#000" stroke-width="1" />
<line x1="598.6" y1="306.95" x2="598.6" y2="306.2" stroke="#000" stroke-width="1" />
<line x1="598.6" y1="387.12" x2="598.6" y2="388.84" stroke="#000" stroke-width="1" />
<line x1="599.6" y1="306.95" x2="599.6" y2="305.39" stroke="#000" stroke-width="1" />
<line x1="599.6" y1="387.12" x2="599.6" y2="389.17" stroke="#000" stroke-width="1" />
<line x1="600.6" y1="306.95" x2="600.6" y2="306.09" stroke="#000" stroke-width="1" />
<line x1="600.6" y1="387.12" x2="600.6" y2="390.22" stroke="#000" stroke-width="1" />
<line x1="601.6" y1="306.95" x2="601.6" y2="304.03" stroke="#000" stroke-width="1" />
<line x1="601.6" y1="387.12" x2="601.6" y2="387.65" stroke="#000" stroke-width="1" />
<line x1="602.6" y1="306.95" x2="602.6" y2="306" stroke="#000" stroke-width="1" />
<line x1="602.6" y1="387.12" x2="602.6" y2="389.98" stroke="#000" stroke-width="1" />
<line x1="603.6" y1="306.95" x2="603.6" y2="306.04" stroke="#000" stroke-width="1" />
<line x1="603.6" y1="387.12" x2="603.6" y2="390.21" stroke="#000" stroke-width="1" />
<line x1="604.6" y1="306.95" x2="604.6" y2="305.27" stroke="#000" stroke-width="1" />
<line x1="604.6" y1="387.12" x2="604.6" y2="389.4" stroke="#000" stroke-width="1" />
<line x1="605.6" y1="306.95" x2="605.6" y2="304.65" stroke="#000" stroke-width="1" />
<line x1="605.6" y1="387.12" x2="605.6" y2="387.82" stroke="#000" stroke-width="1" />
<line x1="606.6" y1="306.95" x2="606.6" y2="306.02" stroke="#000" stroke-width="1" />
<line x1="606.6" y1="387.12" x2="606.6" y2="387.95" stroke="#000" stroke-width="1" />
<line x1="607.6" y1="306.95" x2="607.6" y2="304.72" stroke="#000" stroke-width="1" />
<line x1="607.6" y1="387.12" x2="607.6" y2="389.39" stroke="#000" stroke-width="1" />
<line x1="608.6" y1="306.95" x2="608.6" y2="306.52" stroke="#000" stroke-width="1" />
<line x1="608.6" y1="387.12" x2="608.6" y2="390.02" stroke="#000" stroke-width="1" />
<line x1="609.6" y1="306.95" x2="609.6" y2="305.58" stroke="#000" stroke-width="1" />
<line x1="609.6" y1="387.12" x2="609.6" y2="387.91" stroke="#000" stroke-width="1" />
<line x1="610.6" y1="306.95" x2="610.6" y2="305.53" stroke="#000" stroke-width="1" />
<line x1="610.6" y1="387.12" x2="610.6" y2="390.32" stroke="#000" stroke-width="1" />
<line x1="611.6" y1="306.95" x2="611.6" y2="305.12" stroke="#000" stroke-width="1" />
<line x1="611.6" y1="387.12" x2="611.6" y2="389.16" stroke="#000" stroke-width="1" />
<line x1="612.6" y1="306.95" x2="612.6" y2="303.94" stroke="#000" stroke-width="1" />
<line x1="612.6" y1="387.12" x2="612.6" y2="390.27" stroke="#000" stroke-width="1" />
<line x1="613.6" y1="306.95" x2="613.6" y2="304.47" stroke="#000" stroke-width="1" />
<line x1="613.6" y1="387.12" x2="613.6" y2="388.48" stroke="#000" stroke-width="1" />
<line x1="614.6" y1="306.95" x2="614.6" y2="305.03" stroke="#000" stroke-width="1" />
<line x1="614.6" y1="387.12" x2="614.6" y2="390.07" stroke="#000" stroke-width="1" />
<line x1="615.6" y1="306.95" x2="615.6" y2="304.37" stroke="#000" stroke-width="1" />
<line x1="615.6" y1="387.12" x2="615.6" y2="389.02" stroke="#000" stroke-width="1" />
<line x1="616.6" y1="306.95" x2="616.6" y2="305.82" stroke="#000" stroke-width="1" />
<line x1="616.6" y1="387.12" x2="616.6" y2="388.32" stroke="#000" stroke-width="1" />
<line x1="617.6" y1="306.95" x2="617.6" y2="304.55" stroke="#000" stroke-width="1" />
<line x1="617.6" y1="387.12" x2="617.6" y2="388.96" stroke="#000" stroke-width="1" />
<line x1="618.6" y1="306.95" x2="618.6" y2="306.9" stroke="#000" stroke-width="1" />
<line x1="618.6" y1="387.12" x2="618.6" y2="389.44" stroke="#000" stroke-width="1" />
<line x1="619.6" y1="306.95" x2="619.6" y2="304" stroke="#000" stroke-width="1" />
<line x1="619.6" y1="387.12" x2="619.6" y2="389.73" stroke="#000" stroke-width="1" />
<line x1="620.6" y1="306.95" x2="620.6" y2="304.02" stroke="#000" stroke-width="1" />
<line x1="620.6" y1="387.12" x2="620.6" y2="390.1" stroke="#000" stroke-width="1" />
<line x1="621.6" y1="306.95" x2="621.6" y2="305.2" stroke="#000" stroke-width="1" />
<line x1="621.6" y1="387.12" x2="621.6" y2="389.7" stroke="#000" stroke-width="1" />
<line x1="622.6" y1="306.95" x2="622.6" y2="305.71" stroke="#000" stroke-width="1" />
<line x1="622.6" y1="387.12" x2="622.6" y2="387.44" stroke="#000" stroke-width="1" />
<line x1="623.6" y1="306.95" x2="623.6" y2="305.8" stroke="#000" stroke-width="1" />
<line x1="623.6" y1="387.12" x2="623.6" y2="388.14" stroke="#000" stroke-width="1" />
<line x1="624.6" y1="306.95" x2="624.6" y2="303.9" stroke="#000" stroke-width="1" />
<line x1="624.6" y1="387.12" x2="624.6" y2="389.37" stroke="#000" stroke-width="1" />
<line x1="625.6" y1="306.95" x2="625.6" y2="305.18" stroke="#000" stroke-width="1" />
<line x1="625.6" y1="387.12" x2="625.6" y2="389.15" stroke="#000" stroke-width="1" />
<line x1="626.6" y1="306.95" x2="626.6" y2="306.55" stroke="#000" stroke-width="1" />
<line x1="626.6" y1="387.12" x2="626.6" y2="388.87" stroke="#000" stroke-width="1" />
<line x1="627.6" y1="306.95" x2="627.6" y2="304.66" stroke="#000" stroke-width="1" />
<line x1="627.6" y1="387.12" x2="627.6" y2="388.41" stroke="#000" stroke-width="1" />
<line x1="628.6" y1="306.95" x2="628.6" y2="306.15" stroke="#000" stroke-width="1" />
<line x1="628.6" y1="387.12" x2="628.6" y2="388.45" stroke="#000" stroke-width="1" />
<line x1="545.6" y1="308.71" x2="545.6" y2="316.62" stroke="#666" stroke-width="1" />
<line x1="545.6" y1="390.26" x2="545.6" y2="361.36" stroke="#9a9a9a" stroke-width="1" />
<line x1="547.6" y1="308.38" x2="547.6" y2="325.33" stroke="#7a7a7a" stroke-width="1" />
<line x1="547.6" y1="389.58" x2="547.6" y2="367.87" stroke="#7a7a7a" stroke-width="1" />
<line x1="548.6" y1="384.72" x2="548.6" y2="367.48" stroke="#a8a8a8" stroke-width="1" />
<line x1="550.6" y1="306.95" x2="550.6" y2="326.55" stroke="#9a9a9a" stroke-width="1" />
<line x1="550.6" y1="387.53" x2="550.6" y2="364.6" stroke="#444" stroke-width="1" />
<line x1="551.6" y1="305.33" x2="551.6" y2="318.86" stroke="#7a7a7a" stroke-width="1" />
<line x1="551.6" y1="388.5" x2="551.6" y2="365.85" stroke="#555" stroke-width="1" />
<line x1="552.6" y1="387.24" x2="552.6" y2="359.87" stroke="#b5b5b5" stroke-width="1" />
<line x1="554.6" y1="308.3" x2="554.6" y2="324.04" stroke="#444" stroke-width="1" />
<line x1="554.6" y1="387.82" x2="554.6" y2="367.39" stroke="#7a7a7a" stroke-width="1" />
<line x1="556.6" y1="390.65" x2="556.6" y2="358.7" stroke="#555" stroke-width="1" />
<line x1="557.6" y1="306.26" x2="557.6" y2="328.92" stroke="#b5b5b5" stroke-width="1" />
<line x1="557.6" y1="387.7" x2="557.6" y2="362.21" stroke="#555" stroke-width="1" />
<line x1="558.6" y1="306.99" x2="558.6" y2="330.51" stroke="#555" stroke-width="1" />
<line x1="559.6" y1="305.31" x2="559.6" y2="316.93" stroke="#a8a8a8" stroke-width="1" />
<line x1="559.6" y1="391.06" x2="559.6" y2="361.49" stroke="#7a7a7a" stroke-width="1" />
<line x1="561.6" y1="390.18" x2="561.6" y2="357.27" stroke="#a8a8a8" stroke-width="1" />
<line x1="562.6" y1="308.45" x2="562.6" y2="318.35" stroke="#9a9a9a" stroke-width="1" />
<line x1="564.6" y1="307.62" x2="564.6" y2="323.29" stroke="#8c8c8c" stroke-width="1" />
<line x1="564.6" y1="388.55" x2="564.6" y2="361.52" stroke="#8c8c8c" stroke-width="1" />
<line x1="566.6" y1="307.11" x2="566.6" y2="325.51" stroke="#b5b5b5" stroke-width="1" />
<line x1="566.6" y1="391.24" x2="566.6" y2="374.27" stroke="#555" stroke-width="1" />
<line x1="567.6" y1="307" x2="567.6" y2="329.13" stroke="#9a9a9a" stroke-width="1" />
<line x1="569.6" y1="305.71" x2="569.6" y2="328.86" stroke="#666" stroke-width="1" />
<line x1="569.6" y1="386.37" x2="569.6" y2="366.2" stroke="#7a7a7a" stroke-width="1" />
<line x1="571.6" y1="306.5" x2="571.6" y2="324.74" stroke="#7a7a7a" stroke-width="1" />
<line x1="572.6" y1="307.33" x2="572.6" y2="324.02" stroke="#666" stroke-width="1" />
<line x1="572.6" y1="387.54" x2="572.6" y2="361.43" stroke="#a8a8a8" stroke-width="1" />
<line x1="574.6" y1="304.88" x2="574.6" y2="324.95" stroke="#8c8c8c" stroke-width="1" />
<line x1="575.6" y1="307.04" x2="575.6" y2="327.09" stroke="#8c8c8c" stroke-width="1" />
<line x1="576.6" y1="305.65" x2="576.6" y2="329.56" stroke="#555" stroke-width="1" />
<line x1="577.6" y1="309.09" x2="577.6" y2="320.72" stroke="#666" stroke-width="1" />
<line x1="577.6" y1="390.84" x2="577.6" y2="361.22" stroke="#9a9a9a" stroke-width="1" />
<line x1="579.6" y1="391.96" x2="579.6" y2="372.41" stroke="#555" stroke-width="1" />
<line x1="581.6" y1="306.48" x2="581.6" y2="324.58" stroke="#9a9a9a" stroke-width="1" />
<line x1="581.6" y1="387.42" x2="581.6" y2="356.3" stroke="#b5b5b5" stroke-width="1" />
<line x1="582.6" y1="385.94" x2="582.6" y2="366.67" stroke="#8c8c8c" stroke-width="1" />
<line x1="583.6" y1="390.98" x2="583.6" y2="371.95" stroke="#666" stroke-width="1" />
<line x1="584.6" y1="309.2" x2="584.6" y2="320.51" stroke="#555" stroke-width="1" />
<line x1="584.6" y1="391.04" x2="584.6" y2="371.5" stroke="#8c8c8c" stroke-width="1" />
<line x1="587.6" y1="390.86" x2="587.6" y2="370.08" stroke="#8c8c8c" stroke-width="1" />
<line x1="588.6" y1="306.28" x2="588.6" y2="324.78" stroke="#8c8c8c" stroke-width="1" />
<line x1="588.6" y1="388.04" x2="588.6" y2="355.69" stroke="#b5b5b5" stroke-width="1" />
<line x1="590.6" y1="307.64" x2="590.6" y2="326.83" stroke="#555" stroke-width="1" />
<line x1="591.6" y1="306.95" x2="591.6" y2="325.97" stroke="#444" stroke-width="1" />
<line x1="591.6" y1="387.28" x2="591.6" y2="368.58" stroke="#666" stroke-width="1" />
<line x1="592.6" y1="307.49" x2="592.6" y2="330.96" stroke="#b5b5b5" stroke-width="1" />
<line x1="593.6" y1="385.98" x2="593.6" y2="366.2" stroke="#666" stroke-width="1" />
<line x1="594.6" y1="308.83" x2="594.6" y2="320.16" stroke="#444" stroke-width="1" />
<line x1="594.6" y1="390.4" x2="594.6" y2="363.57" stroke="#8c8c8c" stroke-width="1" />
<line x1="596.6" y1="304.83" x2="596.6" y2="317.52" stroke="#8c8c8c" stroke-width="1" />
<line x1="596.6" y1="391.52" x2="596.6" y2="364.04" stroke="#b5b5b5" stroke-width="1" />
<line x1="597.6" y1="390.3" x2="597.6" y2="363.57" stroke="#a8a8a8" stroke-width="1" />
<line x1="598.6" y1="308.88" x2="598.6" y2="325.23" stroke="#444" stroke-width="1" />
<line x1="598.6" y1="387.87" x2="598.6" y2="374.41" stroke="#7a7a7a" stroke-width="1" />
<line x1="600.6" y1="308.99" x2="600.6" y2="324.07" stroke="#555" stroke-width="1" />
<line x1="602.6" y1="306.74" x2="602.6" y2="328.99" stroke="#555" stroke-width="1" />
<line x1="602.6" y1="384.84" x2="602.6" y2="358.57" stroke="#9a9a9a" stroke-width="1" />
<line x1="603.6" y1="386.72" x2="603.6" y2="364.31" stroke="#555" stroke-width="1" />
<line x1="605.6" y1="305.14" x2="605.6" y2="325.77" stroke="#7a7a7a" stroke-width="1" />
<line x1="605.6" y1="387.22" x2="605.6" y2="361.47" stroke="#b5b5b5" stroke-width="1" />
<line x1="606.6" y1="309.09" x2="606.6" y2="317.59" stroke="#9a9a9a" stroke-width="1" />
<line x1="607.6" y1="304.61" x2="607.6" y2="318.79" stroke="#666" stroke-width="1" />
<line x1="607.6" y1="386.74" x2="607.6" y2="363.21" stroke="#9a9a9a" stroke-width="1" />
<line x1="609.6" y1="308.4" x2="609.6" y2="330.75" stroke="#555" stroke-width="1" />
<line x1="610.6" y1="306.4" x2="610.6" y2="321.22" stroke="#8c8c8c" stroke-width="1" />
<line x1="610.6" y1="388.83" x2="610.6" y2="363.83" stroke="#7a7a7a" stroke-width="1" />
<line x1="611.6" y1="308.72" x2="611.6" y2="328.86" stroke="#666" stroke-width="1" />
<line x1="613.6" y1="389.15" x2="613.6" y2="359.65" stroke="#8c8c8c" stroke-width="1" />
<line x1="616.6" y1="307.85" x2="616.6" y2="315.98" stroke="#666" stroke-width="1" />
<line x1="617.6" y1="391" x2="617.6" y2="362.15" stroke="#a8a8a8" stroke-width="1" />
<line x1="618.6" y1="388.45" x2="618.6" y2="361.07" stroke="#9a9a9a" stroke-width="1" />
<line x1="620.6" y1="305.94" x2="620.6" y2="331.25" stroke="#555" stroke-width="1" />
<line x1="621.6" y1="306.81" x2="621.6" y2="326.87" stroke="#9a9a9a" stroke-width="1" />
<line x1="622.6" y1="308.36" x2="622.6" y2="319.33" stroke="#555" stroke-width="1" />
<line x1="622.6" y1="391.94" x2="622.6" y2="360.86" stroke="#444" stroke-width="1" />
<line x1="623.6" y1="304.95" x2="623.6" y2="317.9" stroke="#555" stroke-width="1" />
<line x1="624.6" y1="389.99" x2="624.6" y2="362.04" stroke="#9a9a9a" stroke-width="1" />
<line x1="625.6" y1="305.82" x2="625.6" y2="323.06" stroke="#444" stroke-width="1" />
<line x1="628.6" y1="308.68" x2="628.6" y2="331.13" stroke="#a8a8a8" stroke-width="1" />
<line x1="628.6" y1="391.24" x2="628.6" y2="364.28" stroke="#9a9a9a" stroke-width="1" />
<line x1="569.1" y1="306.95" x2="569.1" y2="255.42" stroke="#888" stroke-width="0.9" />
<line x1="579.8" y1="306.95" x2="579.8" y2="260.33" stroke="#777" stroke-width="0.9" />
<line x1="586" y1="306.95" x2="586" y2="274.23" stroke="#777" stroke-width="0.9" />
<line x1="591.5" y1="306.95" x2="591.5" y2="272.6" stroke="#555" stroke-width="0.9" />
<line x1="594.7" y1="306.95" x2="594.7" y2="274.23" stroke="#777" stroke-width="0.9" />
<line x1="625.5" y1="306.95" x2="625.5" y2="269.33" stroke="#444" stroke-width="0.9" />
<line x1="612.2" y1="306.95" x2="612.2" y2="288.96" stroke="#777" stroke-width="0.9" />
<line x1="618" y1="306.95" x2="618" y2="289.78" stroke="#888" stroke-width="0.9" />
<line x1="629" y1="306.95" x2="629" y2="288.96" stroke="#999" stroke-width="0.9" />
<line x1="560" y1="306.95" x2="560" y2="299.59" stroke="#888" stroke-width="0.9" />
<line x1="575" y1="306.95" x2="575" y2="297.96" stroke="#888" stroke-width="0.9" />
<line x1="605" y1="306.95" x2="605" y2="300.41" stroke="#666" stroke-width="0.9" />
<line x1="584.7" y1="387.12" x2="584.7" y2="440.29" stroke="#222" stroke-width="0.9" />
<line x1="570.4" y1="387.12" x2="570.4" y2="435.38" stroke="#777" stroke-width="0.9" />
<line x1="629.3" y1="387.12" x2="629.3" y2="428.84" stroke="#555" stroke-width="0.9" />
<line x1="614.9" y1="387.12" x2="614.9" y2="419.02" stroke="#888" stroke-width="0.9" />
<line x1="605.4" y1="387.12" x2="605.4" y2="412.48" stroke="#666" stroke-width="0.9" />
<line x1="553.1" y1="387.12" x2="553.1" y2="409.2" stroke="#777" stroke-width="0.9" />
<line x1="560.3" y1="387.12" x2="560.3" y2="409.2" stroke="#777" stroke-width="0.9" />
<line x1="601" y1="387.12" x2="601" y2="405.93" stroke="#888" stroke-width="0.9" />
<line x1="627.8" y1="387.12" x2="627.8" y2="400.21" stroke="#666" stroke-width="0.9" />
</svg>
</body></html>
